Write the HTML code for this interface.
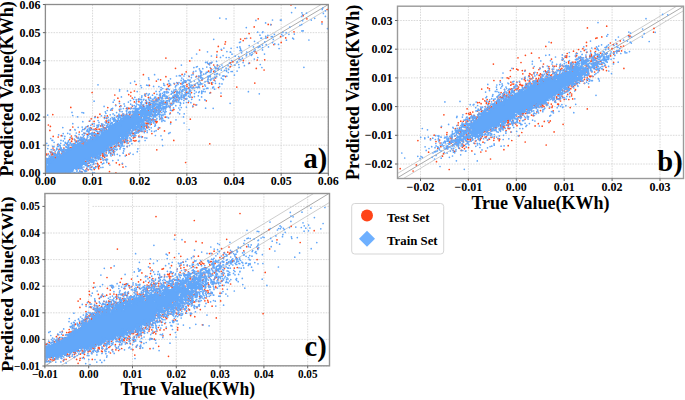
<!DOCTYPE html>
<html><head><meta charset="utf-8"><style>html,body{margin:0;padding:0;background:#fff;width:685px;height:400px;overflow:hidden}svg{display:block}text{fill:#000}</style></head>
<body><svg width="685" height="400" viewBox="0 0 685 400">
<clipPath id="ca"><rect x="45.4" y="4.5" width="282.90000000000003" height="168.8"/></clipPath>
<path d="M45.40 4.5V173.3M92.55 4.5V173.3M139.70 4.5V173.3M186.85 4.5V173.3M234.00 4.5V173.3M281.15 4.5V173.3M328.30 4.5V173.3M45.4 173.30H328.3M45.4 145.17H328.3M45.4 117.04H328.3M45.4 88.91H328.3M45.4 60.78H328.3M45.4 32.65H328.3M45.4 4.52H328.3" stroke="#d0d0d0" stroke-width="0.8" stroke-dasharray="1.6 1.1" fill="none"/>
<g clip-path="url(#ca)">
<line x1="-4669.60" y1="2982.08" x2="4760.40" y2="-2643.92" stroke="#c0c0c0" stroke-width="0.8"/>
<line x1="-4669.60" y1="2990.52" x2="4760.40" y2="-2635.48" stroke="#c0c0c0" stroke-width="0.8"/>
<line x1="-4669.60" y1="2986.30" x2="4760.40" y2="-2639.70" stroke="#a0a0a0" stroke-width="0.9"/>
<path d="M267.5 37.5h0M93.6 138.1h0M81.6 167.7h0M93.8 164.0h0M63.9 148.1h0M94.3 169.4h0M182.1 74.4h0M82.1 140.5h0M160.1 111.6h0M165.4 108.4h0M187.0 86.5h0M90.8 160.3h0M114.5 146.4h0M190.3 119.2h0M141.8 126.6h0M91.3 128.3h0M108.8 163.6h0M142.4 136.9h0M95.2 116.5h0M217.5 65.4h0M185.6 162.5h0M112.4 149.4h0M92.7 135.8h0M102.9 156.3h0M264.1 70.0h0M236.8 87.1h0M192.1 97.3h0M106.7 118.5h0M189.8 60.9h0M70.8 107.4h0M146.5 103.4h0M173.2 101.7h0M156.4 81.1h0M81.5 140.9h0M164.5 130.9h0M132.2 133.1h0M119.0 145.7h0M53.2 136.4h0M73.8 143.9h0M52.4 175.1h0M217.1 51.7h0M70.8 147.6h0M105.3 159.7h0M113.5 150.9h0M294.0 31.8h0M115.8 146.5h0M128.8 133.2h0M176.8 97.0h0M211.9 84.2h0M173.4 97.3h0M141.1 117.2h0M59.4 174.9h0M104.8 128.3h0M83.1 141.6h0M167.3 103.1h0M268.2 24.4h0M94.2 132.7h0M49.3 161.9h0M139.0 114.5h0M87.1 134.3h0M151.2 124.2h0M188.8 88.1h0M58.2 137.0h0M88.3 165.8h0M153.6 111.3h0M52.8 114.6h0M106.5 150.4h0M129.0 154.1h0M61.9 153.8h0M165.4 102.8h0M177.6 83.1h0M127.7 140.3h0M213.7 65.0h0M91.2 167.1h0M90.8 157.1h0M196.5 76.3h0M271.0 24.6h0M167.9 98.2h0M132.4 106.1h0M217.1 68.6h0M215.6 77.9h0M126.1 136.7h0M155.4 100.7h0M152.7 114.9h0M165.9 76.7h0M176.7 97.4h0M163.0 103.0h0M48.6 174.1h0M84.2 138.3h0M57.7 174.7h0M137.2 113.9h0M191.5 92.6h0M149.6 105.7h0M186.9 92.2h0M72.8 127.0h0M125.4 139.8h0M86.0 161.7h0M59.1 149.3h0M264.7 59.8h0M209.8 143.8h0M149.4 85.4h0M138.9 101.7h0M111.1 146.9h0M306.9 18.8h0M49.6 174.6h0M53.0 148.0h0M122.0 142.1h0M113.5 152.3h0M63.5 152.5h0M156.4 110.8h0M132.3 98.0h0M87.5 126.5h0M174.3 92.5h0M116.3 162.8h0M131.8 115.3h0M146.9 125.1h0M96.8 155.1h0M273.9 44.6h0M256.5 53.1h0M106.5 129.8h0M89.1 133.7h0M72.3 139.1h0M249.1 33.6h0M67.2 144.1h0M112.5 154.8h0M281.2 42.4h0M107.0 155.7h0M185.4 94.2h0M132.1 131.0h0M86.5 139.6h0M175.5 68.3h0M74.8 139.8h0M148.7 97.7h0M256.3 68.4h0M123.5 114.6h0M102.8 126.0h0M90.8 160.6h0M206.3 100.8h0M119.8 106.5h0M119.3 146.1h0M84.3 133.3h0M101.6 131.1h0M156.4 100.1h0M89.4 121.2h0M92.2 135.5h0M76.9 137.5h0M86.7 168.3h0M98.6 166.6h0M147.6 124.8h0M132.6 115.0h0M100.8 159.3h0M87.9 165.8h0M57.6 174.6h0M85.8 161.6h0M193.2 87.1h0M75.9 141.9h0M107.0 125.8h0M98.7 133.6h0M172.7 110.4h0M146.7 127.7h0M186.4 92.6h0M104.6 157.3h0M108.9 148.8h0M50.9 152.2h0M151.9 133.6h0M123.2 140.9h0M141.6 123.9h0M83.9 138.5h0M145.3 120.2h0M90.4 127.8h0M138.9 136.2h0M71.9 138.2h0M120.6 142.4h0M102.7 155.0h0M146.0 123.0h0M95.7 134.6h0M165.9 58.1h0M155.1 108.1h0M149.5 102.5h0M97.0 127.4h0M146.5 102.5h0M170.3 113.1h0M117.3 116.0h0M303.2 15.7h0M72.4 146.9h0M155.8 121.6h0M180.9 83.7h0M102.2 124.7h0M110.3 147.2h0M131.4 115.7h0M118.6 145.5h0M158.5 113.2h0M126.4 114.3h0M67.3 144.7h0M250.6 38.0h0M192.8 106.7h0M106.2 152.8h0M194.8 85.3h0M156.1 99.2h0M92.7 139.2h0M99.2 133.4h0M63.2 151.8h0M55.7 157.2h0M209.3 83.2h0M171.0 103.5h0M143.4 74.7h0M65.9 175.1h0M52.5 153.2h0M73.5 145.1h0M134.9 135.4h0M186.9 84.7h0M200.9 72.5h0M47.2 159.8h0M106.9 148.4h0M99.6 158.4h0M55.8 158.2h0M185.1 98.8h0M116.9 143.2h0M225.6 76.6h0M124.0 141.1h0M146.4 123.7h0M213.7 71.4h0M55.0 153.2h0M158.1 98.1h0M138.1 131.2h0M105.9 128.2h0M101.1 162.3h0M76.2 141.2h0M158.7 104.5h0M210.9 68.7h0M49.9 130.4h0M175.9 100.2h0M129.1 108.4h0M254.2 26.9h0M90.6 157.6h0M105.1 149.1h0M243.2 40.6h0M218.3 46.4h0M148.7 127.2h0M146.8 120.0h0M95.9 166.7h0M62.6 151.7h0M60.7 150.1h0M76.7 174.7h0M108.8 163.3h0M147.9 121.4h0M249.5 63.1h0M85.7 140.9h0M138.5 129.8h0M89.5 160.3h0M208.3 82.8h0M65.3 149.9h0M175.9 91.3h0M103.4 127.7h0M107.8 107.6h0M160.6 97.1h0M168.6 86.3h0M77.8 145.9h0M291.0 4.9h0M129.6 114.3h0M173.8 101.7h0M78.2 168.6h0M95.4 157.8h0M52.2 154.0h0M71.4 136.0h0M99.1 129.2h0M221.6 50.0h0M128.0 108.3h0M199.3 87.3h0M149.2 103.8h0M141.8 125.2h0M140.9 130.9h0M130.9 92.3h0M189.2 76.5h0M63.9 152.5h0M257.3 60.0h0M81.5 138.1h0M107.3 115.9h0M198.8 76.6h0M157.4 100.7h0M155.0 119.9h0M146.2 126.2h0M55.4 154.7h0M230.2 66.7h0M104.2 130.3h0M130.4 117.5h0M123.9 119.2h0M169.6 107.2h0M138.4 99.3h0M77.6 144.8h0M122.4 164.0h0M156.4 122.7h0M232.9 61.8h0M94.1 121.4h0M85.0 128.6h0M285.7 37.9h0M151.7 119.9h0M124.5 142.5h0M92.3 139.9h0M109.6 150.6h0M174.5 83.8h0M90.6 130.0h0M329.2 27.7h0M214.2 80.2h0M157.1 121.7h0M170.1 106.0h0M98.3 134.6h0M126.8 141.1h0M202.1 79.9h0M128.7 115.5h0M193.9 104.4h0M85.3 142.6h0M123.0 114.0h0M54.5 157.3h0M94.6 135.7h0M169.7 85.5h0M62.9 151.9h0M98.7 168.7h0M68.9 148.7h0M57.5 154.2h0M105.1 127.7h0M210.5 92.7h0M132.7 133.6h0M239.3 59.1h0M110.5 146.1h0M110.8 153.2h0M70.4 129.8h0M116.6 120.5h0M145.5 96.0h0M126.4 108.5h0M115.7 105.0h0M126.3 155.2h0M134.4 91.0h0M280.6 36.6h0M154.2 93.3h0M225.0 44.1h0M151.4 109.8h0M240.6 39.1h0M71.7 141.0h0M114.8 95.0h0M99.1 157.0h0M92.3 124.3h0M50.3 174.1h0M133.1 133.6h0M145.1 94.1h0M67.1 144.0h0M133.3 137.9h0M150.6 104.5h0M167.5 84.4h0M141.0 127.1h0M160.1 106.1h0M58.2 175.1h0M134.3 126.6h0M84.2 142.7h0M154.1 102.7h0M71.5 175.0h0M134.0 133.7h0M188.3 102.5h0M127.5 133.7h0M65.3 172.4h0M104.7 130.3h0M103.4 152.6h0M81.8 171.5h0M100.6 155.1h0M92.2 139.5h0M109.5 171.6h0M142.0 131.5h0M47.4 174.2h0M99.9 114.2h0M104.2 155.2h0M93.8 138.0h0M87.8 141.0h0M145.0 131.2h0M71.6 141.4h0M185.2 82.3h0M98.6 168.1h0M160.6 79.8h0M148.8 123.3h0M91.2 118.8h0M49.8 174.6h0M128.7 94.6h0M254.8 83.1h0M173.8 140.4h0M88.1 169.8h0M69.9 148.0h0M211.5 82.9h0M104.4 156.2h0M54.0 149.9h0M166.5 89.4h0M123.7 115.5h0M230.4 62.8h0M211.1 62.9h0M116.0 145.4h0M80.9 142.4h0M78.3 140.8h0M153.1 101.1h0M50.4 126.4h0M48.4 125.0h0M208.5 71.2h0M98.0 164.4h0M170.8 122.2h0M184.9 81.1h0M145.8 100.5h0M65.8 172.1h0M106.6 122.1h0M153.3 119.5h0M148.3 110.1h0M106.1 120.9h0M111.7 147.7h0M136.1 84.5h0M102.0 132.0h0M121.4 115.4h0M88.0 163.5h0M48.2 154.0h0M79.3 132.0h0M143.6 106.4h0M92.1 92.5h0M208.8 64.0h0M173.9 109.5h0M138.4 108.6h0M112.1 110.0h0M92.1 138.3h0M159.7 127.8h0M166.2 102.7h0M122.8 138.8h0M167.0 103.7h0M128.3 132.5h0M79.6 174.0h0M146.1 126.1h0M133.5 140.5h0M117.2 121.3h0M134.4 101.9h0M67.6 174.9h0M110.8 147.3h0M152.7 109.1h0M216.7 57.1h0M119.4 164.7h0M118.5 142.9h0M47.4 174.1h0M83.6 144.0h0M45.9 155.3h0M90.2 159.0h0M199.6 50.0h0M130.7 96.0h0M80.0 171.7h0M88.0 135.2h0M100.4 173.8h0M127.2 146.6h0M108.7 122.2h0M193.1 73.0h0M99.4 165.9h0M221.0 96.2h0M137.3 112.1h0M74.0 143.7h0M59.4 153.2h0M258.2 18.8h0M134.7 141.0h0M186.2 71.8h0M55.3 175.1h0M51.1 152.5h0M130.1 135.0h0M136.0 140.6h0M106.7 149.3h0M46.5 154.2h0M322.0 21.9h0M85.8 170.0h0M120.8 105.9h0M243.4 60.6h0M128.0 143.1h0M103.0 153.4h0M158.2 129.1h0M104.5 117.6h0M106.8 148.3h0M91.9 134.1h0M147.6 127.4h0M129.0 116.5h0M148.9 117.5h0M125.2 141.8h0M165.3 117.2h0M196.0 104.9h0M86.1 161.2h0M97.8 117.4h0M96.8 129.5h0M156.8 149.8h0M143.1 105.2h0M121.1 143.5h0M119.4 101.4h0M150.7 124.3h0M73.5 174.7h0M137.5 114.4h0M131.5 108.0h0M117.9 98.2h0M120.7 140.3h0M147.6 123.3h0M47.4 175.0h0M128.5 108.3h0M114.2 118.3h0M100.5 130.2h0M69.6 139.6h0M327.2 9.5h0M254.9 51.5h0M57.7 144.7h0M144.3 126.2h0M181.8 97.1h0M97.4 163.4h0M135.2 129.8h0M95.6 128.8h0M245.0 38.5h0M156.7 109.9h0M158.9 97.9h0M115.9 172.8h0M95.5 138.0h0M51.8 154.9h0M130.1 113.5h0M177.0 99.9h0M119.5 110.0h0M100.7 125.9h0M51.1 152.2h0M148.4 97.6h0M139.3 130.4h0M160.4 94.4h0M111.1 149.9h0M80.6 139.6h0M97.7 133.2h0M134.9 137.3h0M160.9 118.5h0M76.5 136.3h0M175.1 96.2h0M110.5 146.8h0M61.3 135.7h0M133.3 111.7h0M158.8 109.7h0M135.9 126.8h0M102.4 153.2h0M225.5 41.8h0M95.5 137.2h0M218.5 87.5h0M53.5 154.7h0M202.8 86.3h0M79.3 140.5h0M94.0 129.4h0M82.1 143.8h0M56.0 158.5h0M123.0 167.1h0M89.0 163.2h0M103.7 155.1h0" stroke="#ff4a1e" stroke-width="1.7" stroke-linecap="round" fill="none"/>
<path d="M162 101h1v1h-1zM161 103h1v1h-1zM153 104h2v1h-2zM147 105h2v1h-2zM153 105h2v1h-2zM158 105h1v1h-1zM147 106h3v1h-3zM153 106h1v1h-1zM157 106h1v1h-1zM142 107h2v1h-2zM147 107h3v1h-3zM157 107h2v1h-2zM164 107h1v1h-1zM135 108h3v1h-3zM141 108h3v1h-3zM149 108h2v1h-2zM136 109h2v1h-2zM141 109h4v1h-4zM135 110h3v1h-3zM140 110h8v1h-8zM151 110h1v1h-1zM136 111h1v1h-1zM140 111h8v1h-8zM149 111h1v1h-1zM151 111h1v1h-1zM135 112h2v1h-2zM139 112h13v1h-13zM134 113h3v1h-3zM140 113h11v1h-11zM155 113h1v1h-1zM134 114h3v1h-3zM140 114h11v1h-11zM126 115h2v1h-2zM132 115h7v1h-7zM140 115h3v1h-3zM144 115h5v1h-5zM150 115h1v1h-1zM154 115h1v1h-1zM124 116h5v1h-5zM131 116h16v1h-16zM124 117h5v1h-5zM131 117h10v1h-10zM143 117h4v1h-4zM123 118h19v1h-19zM143 118h7v1h-7zM120 119h1v1h-1zM124 119h18v1h-18zM143 119h3v1h-3zM149 119h1v1h-1zM120 120h25v1h-25zM147 120h1v1h-1zM149 120h1v1h-1zM119 121h25v1h-25zM116 122h2v1h-2zM120 122h21v1h-21zM142 122h1v1h-1zM115 123h4v1h-4zM120 123h20v1h-20zM114 124h5v1h-5zM120 124h15v1h-15zM136 124h4v1h-4zM110 125h25v1h-25zM137 125h3v1h-3zM108 126h1v1h-1zM110 126h3v1h-3zM114 126h20v1h-20zM136 126h4v1h-4zM108 127h32v1h-32zM108 128h29v1h-29zM108 129h23v1h-23zM132 129h3v1h-3zM140 129h1v1h-1zM106 130h25v1h-25zM132 130h1v1h-1zM104 131h26v1h-26zM101 132h26v1h-26zM101 133h26v1h-26zM101 134h26v1h-26zM100 135h27v1h-27zM96 136h25v1h-25zM96 137h24v1h-24zM121 137h3v1h-3zM125 137h2v1h-2zM96 138h24v1h-24zM82 139h1v1h-1zM93 139h29v1h-29zM88 140h32v1h-32zM88 141h31v1h-31zM120 141h2v1h-2zM86 142h27v1h-27zM114 142h4v1h-4zM80 143h1v1h-1zM84 143h31v1h-31zM74 144h3v1h-3zM78 144h4v1h-4zM84 144h31v1h-31zM74 145h3v1h-3zM79 145h31v1h-31zM73 146h36v1h-36zM73 147h34v1h-34zM71 148h34v1h-34zM61 149h1v1h-1zM67 149h37v1h-37zM67 150h37v1h-37zM66 151h38v1h-38zM65 152h38v1h-38zM63 153h38v1h-38zM54 154h1v1h-1zM62 154h38v1h-38zM55 155h2v1h-2zM59 155h37v1h-37zM56 156h38v1h-38zM95 156h1v1h-1zM97 156h1v1h-1zM50 157h3v1h-3zM56 157h34v1h-34zM97 157h1v1h-1zM50 158h5v1h-5zM56 158h34v1h-34zM48 159h42v1h-42zM50 160h35v1h-35zM87 160h2v1h-2zM92 160h2v1h-2zM46 161h3v1h-3zM50 161h35v1h-35zM87 161h1v1h-1zM91 161h3v1h-3zM46 162h40v1h-40zM45 163h41v1h-41zM45 164h2v1h-2zM48 164h38v1h-38zM46 165h1v1h-1zM48 165h33v1h-33zM86 165h1v1h-1zM45 166h34v1h-34zM45 167h33v1h-33zM45 168h33v1h-33zM45 169h28v1h-28zM45 170h28v1h-28zM45 171h27v1h-27zM45 172h20v1h-20zM66 172h3v1h-3zM45 173h20v1h-20zM67 173h3v1h-3z" fill="#62a7f9"/>
<path d="M154.7 115.7h0M147.2 106.7h0M45.8 167.8h0M94.2 155.8h0M107.5 159.4h0M255.9 20.4h0M95.3 138.6h0M163.7 101.6h0M108.4 150.6h0M137.6 115.4h0M70.4 175.0h0M149.1 112.2h0M94.7 155.5h0M141.0 106.9h0M146.6 93.6h0M104.7 131.6h0M50.9 175.2h0M226.5 70.7h0M67.7 144.6h0M208.3 81.3h0M147.3 121.7h0M57.6 173.3h0M140.6 105.0h0M183.6 103.1h0M157.4 104.2h0M170.4 99.3h0M150.2 108.0h0M109.9 126.9h0M48.9 157.8h0M147.9 127.8h0M98.9 155.8h0M47.7 115.1h0M48.2 145.5h0M56.8 148.4h0M207.4 81.1h0M86.2 126.8h0M103.8 163.1h0M126.6 132.2h0M159.7 108.3h0M174.3 98.4h0M45.8 169.4h0M85.2 159.2h0M120.8 125.5h0M66.5 172.7h0M77.9 138.4h0M186.4 107.1h0M190.2 94.9h0M87.8 166.7h0M230.2 52.0h0M154.4 131.4h0M123.2 135.5h0M148.5 106.7h0M166.9 93.0h0M51.8 173.2h0M189.1 83.3h0M213.7 39.3h0M162.8 88.5h0M91.5 134.3h0M112.1 154.0h0M200.1 70.5h0M90.1 158.9h0M62.5 150.7h0M51.1 173.1h0M84.5 144.4h0M134.9 133.4h0M161.7 117.5h0M132.6 112.8h0M148.3 102.6h0M162.8 102.6h0M62.9 173.2h0M74.5 145.7h0M178.1 84.3h0M97.9 165.3h0M134.2 112.8h0M63.2 173.6h0M198.6 86.3h0M142.5 120.9h0M50.1 174.4h0M75.2 130.0h0M126.9 132.9h0M149.7 103.5h0M108.7 145.0h0M132.8 116.3h0M120.3 123.2h0M145.6 109.6h0M153.1 116.1h0M47.8 173.3h0M183.4 116.9h0M81.2 139.6h0M54.8 159.1h0M137.7 114.4h0M89.2 166.0h0M102.5 129.5h0M126.3 110.9h0M52.9 173.9h0M158.5 105.1h0M86.8 165.2h0M150.1 124.6h0M136.8 109.8h0M95.7 137.0h0M154.5 114.9h0M132.1 115.4h0M120.2 117.4h0M300.0 25.3h0M178.7 97.6h0M140.2 111.5h0M128.5 132.7h0M109.9 148.9h0M140.4 107.9h0M164.9 107.3h0M58.2 144.2h0M273.3 39.4h0M119.0 114.2h0M136.7 109.0h0M165.6 98.4h0M53.9 174.1h0M252.0 52.3h0M124.4 120.1h0M162.2 139.7h0M51.7 175.0h0M74.6 174.6h0M120.0 149.1h0M50.6 156.0h0M288.9 34.3h0M151.6 131.1h0M163.2 100.6h0M82.7 129.4h0M48.4 174.7h0M144.0 125.4h0M108.3 124.0h0M97.6 127.5h0M130.7 112.8h0M147.2 132.5h0M228.3 72.5h0M180.7 103.6h0M211.2 79.0h0M162.5 93.3h0M149.2 93.9h0M126.0 116.2h0M137.4 111.7h0M118.4 141.7h0M141.6 119.8h0M122.2 116.6h0M125.3 117.0h0M164.9 94.9h0M176.8 93.7h0M205.1 91.7h0M132.5 129.4h0M188.7 101.1h0M86.7 162.2h0M64.9 136.4h0M51.4 157.2h0M46.8 164.0h0M196.7 104.8h0M90.4 128.4h0M120.1 142.4h0M100.6 135.5h0M173.4 103.6h0M49.0 175.2h0M63.6 149.4h0M148.6 77.8h0M124.4 136.1h0M90.1 165.3h0M83.9 139.8h0M137.0 126.5h0M140.5 125.2h0M129.8 116.4h0M119.1 136.7h0M143.9 116.2h0M112.8 144.1h0M72.8 175.0h0M323.4 13.4h0M102.7 132.4h0M186.2 81.1h0M151.8 101.3h0M150.3 107.1h0M145.4 125.1h0M137.3 114.7h0M89.2 159.7h0M118.2 160.1h0M135.3 109.4h0M115.1 149.4h0M68.4 149.7h0M110.1 145.4h0M64.3 172.9h0M200.9 83.5h0M75.5 142.6h0M127.1 137.0h0M92.4 140.9h0M167.2 102.9h0M124.3 117.7h0M61.6 175.2h0M200.5 77.9h0M47.7 160.7h0M60.8 173.3h0M106.9 126.7h0M85.1 171.7h0M60.4 174.6h0M167.6 100.8h0M153.3 118.6h0M127.7 134.3h0M191.5 75.0h0M150.8 119.6h0M162.6 95.9h0M259.1 46.8h0M190.6 86.7h0M105.8 131.6h0M120.6 125.6h0M116.5 144.4h0M141.9 119.0h0M170.4 110.1h0M155.2 111.1h0M142.4 122.6h0M130.1 116.6h0M132.1 116.3h0M178.8 101.9h0M117.6 141.8h0M134.9 135.1h0M95.4 138.0h0M99.2 153.8h0M140.9 117.8h0M126.5 133.8h0M108.4 149.6h0M122.9 136.8h0M120.7 106.4h0M117.1 145.7h0M202.0 79.4h0M119.1 136.3h0M121.5 138.8h0M143.8 120.4h0M61.5 174.1h0M65.4 143.3h0M122.7 138.3h0M166.8 107.3h0M150.4 109.2h0M133.0 125.5h0M145.1 108.5h0M45.9 167.8h0M125.8 166.5h0M134.4 124.8h0M88.7 161.3h0M209.3 63.8h0M49.2 173.9h0M191.7 99.3h0M99.2 154.6h0M107.2 110.5h0M135.2 123.4h0M80.5 168.7h0M98.2 125.7h0M100.2 136.7h0M167.6 96.8h0M54.8 159.8h0M141.4 123.8h0M160.2 104.9h0M49.5 155.9h0M63.3 140.9h0M90.4 156.1h0M166.2 98.1h0M87.1 161.8h0M234.4 75.1h0M146.6 101.5h0M89.0 163.2h0M72.0 144.2h0M151.1 112.0h0M164.2 107.7h0M105.2 154.7h0M176.0 99.0h0M215.5 83.3h0M158.2 99.8h0M177.8 96.1h0M164.2 103.8h0M122.4 144.6h0M303.9 67.3h0M60.0 154.5h0M152.7 118.4h0M268.5 46.9h0M181.7 91.7h0M184.3 86.4h0M179.6 113.8h0M83.9 167.0h0M125.3 137.9h0M88.2 141.0h0M81.9 144.4h0M211.0 71.9h0M64.1 145.2h0M266.2 44.7h0M262.5 32.5h0M188.3 93.0h0M96.0 160.3h0M169.7 106.9h0M46.2 175.1h0M199.4 68.9h0M154.9 109.5h0M156.9 94.3h0M114.3 100.1h0M54.7 174.7h0M190.4 87.5h0M46.7 163.3h0M152.3 103.3h0M116.4 116.9h0M134.3 105.5h0M224.4 76.0h0M154.5 112.6h0M178.7 100.3h0M94.1 137.2h0M54.4 154.7h0M261.6 38.1h0M50.4 173.7h0M189.4 90.3h0M187.0 88.3h0M57.0 173.7h0M135.4 132.8h0M219.6 86.6h0M50.7 174.9h0M112.2 122.7h0M50.6 157.8h0M69.0 171.8h0M81.4 138.1h0M158.6 106.4h0M198.7 84.3h0M143.8 122.6h0M120.0 125.6h0M169.0 106.4h0M78.3 165.7h0M201.2 75.1h0M231.1 48.3h0M151.8 109.4h0M211.6 69.5h0M64.3 153.9h0M148.4 121.2h0M72.6 174.4h0M166.7 117.1h0M70.0 148.4h0M85.6 163.0h0M112.8 151.4h0M157.6 106.7h0M119.8 155.7h0M153.6 86.4h0M94.2 123.8h0M148.2 111.7h0M262.9 31.9h0M73.5 169.8h0M197.3 66.5h0M53.4 175.1h0M134.1 126.3h0M133.0 116.7h0M58.2 153.1h0M144.7 119.7h0M82.3 134.6h0M56.0 173.7h0M121.6 136.8h0M267.9 35.3h0M85.7 143.8h0M84.8 141.8h0M109.7 125.4h0M119.9 120.9h0M164.9 96.2h0M84.2 144.2h0M175.8 105.7h0M186.3 90.5h0M283.0 35.8h0M136.2 99.7h0M176.7 82.6h0M101.4 115.8h0M45.9 164.8h0M199.4 87.5h0M72.4 169.3h0M153.8 99.0h0M88.3 160.5h0M143.1 127.5h0M50.8 162.4h0M238.8 64.6h0M54.4 159.8h0M147.2 121.6h0M151.5 122.4h0M130.1 113.8h0M50.7 138.5h0M103.9 150.8h0M172.9 96.2h0M79.5 140.3h0M135.4 108.4h0M125.8 115.3h0M87.4 160.9h0M189.5 97.1h0M106.5 130.9h0M150.9 116.2h0M202.7 78.2h0M137.7 124.6h0M129.9 132.3h0M204.8 99.8h0M148.1 118.9h0M150.7 107.3h0M84.1 135.2h0M162.7 145.6h0M257.8 57.5h0M162.2 105.8h0M83.2 169.5h0M169.8 97.6h0M118.9 114.7h0M155.9 110.1h0M153.3 115.3h0M176.6 85.4h0M82.0 167.6h0M201.6 96.9h0M126.4 138.5h0M163.6 108.9h0M208.1 79.2h0M119.5 91.0h0M144.5 106.6h0M139.9 126.4h0M121.1 140.6h0M81.7 138.7h0M291.6 12.6h0M186.2 88.4h0M328.4 18.1h0M161.0 135.8h0M79.7 143.2h0M162.9 102.2h0M62.7 155.0h0M152.1 106.9h0M104.7 130.1h0M113.7 118.7h0M93.7 168.3h0M94.1 126.2h0M122.3 115.7h0M154.8 126.2h0M178.8 108.0h0M177.4 97.3h0M118.3 144.2h0M215.2 67.5h0M128.1 118.7h0M96.1 133.9h0M106.6 146.3h0M258.0 43.0h0M82.5 145.5h0M119.3 145.0h0M84.6 144.7h0M79.9 145.9h0M93.0 162.3h0M87.4 142.4h0M139.0 98.8h0M156.7 115.4h0M198.3 95.8h0M205.1 81.6h0M112.9 127.8h0M146.3 110.9h0M76.0 144.6h0M114.9 120.2h0M130.7 104.2h0M133.8 114.2h0M123.6 135.2h0M166.3 105.1h0M151.3 112.5h0M109.4 126.1h0M114.5 125.8h0M114.4 141.7h0M105.8 131.7h0M65.9 146.4h0M81.9 145.8h0M153.3 107.9h0M152.6 103.5h0M79.5 142.9h0M56.4 175.2h0M119.1 116.7h0M246.7 38.3h0M130.7 108.8h0M102.6 131.6h0M86.6 171.1h0M270.7 24.7h0M106.3 117.9h0M240.4 48.4h0M80.3 143.0h0M107.7 130.0h0M169.3 100.6h0M87.7 142.2h0M67.2 173.2h0M89.9 120.7h0M135.3 111.5h0M183.9 100.4h0M62.8 173.0h0M136.3 108.5h0M121.2 142.8h0M123.8 117.9h0M73.2 143.9h0M113.8 147.6h0M95.6 154.9h0M142.0 106.0h0M239.9 46.9h0M65.7 149.9h0M188.5 93.5h0M145.1 140.5h0M94.6 175.1h0M131.8 133.1h0M78.6 137.3h0M253.9 51.2h0M66.7 150.1h0M179.2 99.5h0M205.6 108.2h0M86.1 139.3h0M78.2 145.3h0M84.0 161.1h0M167.5 88.9h0M262.4 45.1h0M182.6 91.4h0M77.1 170.0h0M54.9 153.8h0M46.4 162.2h0M119.4 141.8h0M260.0 46.7h0M198.3 79.0h0M142.3 122.1h0M85.5 164.2h0M127.5 115.8h0M52.4 156.3h0M55.2 151.3h0M48.4 165.3h0M167.9 88.7h0M108.9 120.1h0M141.9 121.4h0M262.5 47.5h0M205.8 73.7h0M90.1 167.5h0M52.9 173.5h0M63.2 133.6h0M135.2 113.5h0M133.6 99.3h0M151.3 114.3h0M111.8 150.6h0M143.4 99.9h0M131.9 143.7h0M92.5 123.5h0M89.6 140.7h0M138.0 109.8h0M60.7 173.8h0M194.5 93.6h0M180.8 86.8h0M207.2 62.1h0M121.4 96.9h0M80.5 165.1h0M45.9 171.8h0M154.4 98.1h0M108.4 130.1h0M100.2 154.3h0M95.1 140.0h0M60.4 154.6h0M51.0 173.0h0M81.7 145.2h0M93.4 160.7h0M131.4 139.6h0M141.4 99.6h0M120.2 115.7h0M47.2 166.1h0M111.8 145.4h0M139.2 127.8h0M97.1 158.4h0M68.4 172.6h0M118.3 120.3h0M51.7 157.3h0M184.6 87.7h0M86.8 143.8h0M70.1 143.3h0M64.2 144.8h0M46.5 161.5h0M223.1 55.6h0M50.3 161.7h0M156.1 91.4h0M176.0 119.8h0M62.8 173.2h0M125.8 140.6h0M139.7 128.1h0M272.5 20.0h0M139.5 141.0h0M149.5 116.8h0M121.6 145.8h0M139.3 126.3h0M54.0 174.4h0M93.6 163.5h0M91.5 137.9h0M129.1 130.3h0M88.9 159.5h0M56.0 154.9h0M64.6 172.6h0M214.8 70.5h0M142.2 120.0h0M88.6 173.6h0M189.9 89.7h0M71.4 174.4h0M177.0 92.1h0M152.4 101.3h0M150.6 111.9h0M183.6 86.4h0M157.4 100.6h0M137.2 91.6h0M199.2 80.4h0M52.4 173.8h0M155.8 109.9h0M115.7 145.8h0M171.4 110.5h0M107.3 125.7h0M156.0 101.1h0M181.8 78.1h0M145.7 119.6h0M74.2 139.1h0M164.8 96.0h0M77.6 116.8h0M257.7 32.2h0M214.6 89.2h0M46.0 173.0h0M136.0 109.0h0M170.6 123.8h0M67.9 172.1h0M72.7 146.2h0M157.6 106.1h0M151.2 127.8h0M116.4 123.9h0M92.6 162.0h0M204.8 84.8h0M183.7 89.5h0M56.0 173.2h0M133.4 135.6h0M139.1 112.3h0M219.5 83.7h0M223.4 79.6h0M96.0 156.8h0M120.0 116.0h0M128.7 112.7h0M46.9 164.3h0M181.2 80.4h0M68.5 172.7h0M72.7 171.6h0M153.6 112.3h0M122.3 137.4h0M138.5 111.6h0M154.4 113.8h0M124.3 138.3h0M109.7 127.1h0M55.7 155.5h0M266.0 38.2h0M206.6 88.4h0M183.0 86.3h0M119.1 140.1h0M97.8 156.0h0M50.0 174.0h0M136.2 128.7h0M160.1 106.9h0M70.6 172.3h0M129.8 113.1h0M147.1 108.2h0M101.2 135.3h0M154.7 106.3h0M200.9 71.3h0M163.1 114.3h0M96.7 160.9h0M163.5 94.9h0M157.9 108.7h0M122.4 163.3h0M167.6 97.8h0M51.5 173.0h0M127.3 141.4h0M141.9 101.6h0M70.6 148.7h0M136.3 123.3h0M111.4 146.2h0M149.0 119.2h0M148.8 99.0h0M68.7 146.1h0M123.7 150.9h0M109.1 148.6h0M154.8 105.1h0M163.1 115.6h0M59.0 173.8h0M123.1 136.8h0M132.3 129.1h0M161.1 103.7h0M146.3 105.4h0M93.9 161.0h0M87.9 140.6h0M61.8 175.0h0M66.9 171.4h0M219.8 66.5h0M150.7 103.3h0M154.9 97.0h0M72.0 112.4h0M96.6 131.2h0M229.0 57.5h0M74.6 145.7h0M137.8 125.1h0M47.1 174.8h0M67.6 148.0h0M184.1 123.0h0M142.1 119.2h0M181.2 96.5h0M100.7 135.5h0M116.5 144.8h0M77.0 175.3h0M129.4 145.6h0M49.5 158.9h0M156.1 111.4h0M81.5 141.9h0M169.2 89.6h0M104.3 150.0h0M135.4 111.8h0M105.4 147.8h0M69.9 134.1h0M126.6 115.3h0M301.7 16.4h0M130.5 83.1h0M139.0 131.9h0M260.9 38.2h0M142.0 129.7h0M45.6 174.5h0M129.9 131.8h0M51.8 173.1h0M122.1 138.7h0M56.1 174.0h0M110.4 123.6h0M93.7 138.3h0M123.1 152.9h0M82.3 145.5h0M174.5 96.7h0M159.5 114.9h0M262.5 49.9h0M77.9 145.9h0M120.8 143.0h0M148.1 127.2h0M140.6 126.9h0M128.7 118.4h0M123.7 141.8h0M96.4 156.1h0M221.0 93.0h0M93.9 156.2h0M141.8 109.8h0M123.2 153.2h0M102.4 163.9h0M122.1 111.7h0M143.2 107.9h0M124.3 117.3h0M90.0 169.1h0M59.4 145.1h0M92.1 140.6h0M77.9 140.9h0M75.2 135.7h0M102.1 157.8h0M170.1 132.6h0M139.6 113.2h0M81.9 131.1h0M253.5 46.9h0M154.2 105.3h0M121.9 119.0h0M254.5 41.3h0M58.7 150.3h0M102.0 133.6h0M199.3 91.7h0M77.9 173.5h0M286.1 32.7h0M92.1 156.6h0M79.6 171.6h0M159.0 111.8h0M79.8 139.1h0M177.5 91.5h0M179.3 75.7h0M164.6 85.4h0M144.0 125.1h0M139.7 123.7h0M156.2 107.9h0M60.4 175.2h0M127.7 136.9h0M54.5 174.1h0M128.0 133.5h0M105.2 122.0h0M158.5 107.3h0M281.7 34.4h0M88.5 135.5h0M167.0 91.4h0M148.2 111.5h0M82.4 169.0h0M156.0 120.2h0M246.7 54.8h0M66.4 146.8h0M91.8 137.7h0M78.6 138.6h0M50.0 162.7h0M191.3 87.8h0M121.1 120.8h0M104.3 148.1h0M66.0 171.1h0M92.8 156.3h0M212.0 62.2h0M101.7 134.7h0M182.4 82.4h0M153.8 120.1h0M235.2 56.2h0M97.0 155.0h0M81.5 166.4h0M141.7 106.5h0M143.0 114.5h0M264.8 41.8h0M112.8 160.6h0M123.6 139.7h0M124.0 146.0h0M127.8 115.4h0M97.3 135.3h0M53.8 175.0h0M201.9 83.9h0M181.4 65.1h0M240.8 49.9h0M51.2 174.5h0M85.7 133.4h0M175.6 86.1h0M136.0 131.4h0M90.2 156.9h0M165.1 106.8h0M58.1 173.4h0M234.9 65.2h0M189.0 92.0h0M169.8 83.8h0M137.0 132.0h0M97.1 127.5h0M59.5 174.3h0M77.6 167.3h0M128.9 117.2h0M138.6 141.4h0M106.8 162.4h0M140.9 115.4h0M169.9 99.1h0M154.6 102.3h0M49.4 161.0h0M82.2 127.1h0M147.2 124.7h0M47.7 175.2h0M66.2 147.4h0M207.8 88.2h0M232.0 54.2h0M130.7 141.0h0M120.0 120.8h0M143.9 109.1h0M152.5 99.3h0M63.5 153.6h0M155.5 97.7h0M246.7 52.0h0M174.3 94.9h0M301.9 30.9h0M47.1 174.6h0M116.8 120.7h0M176.7 99.7h0M195.8 77.0h0M155.4 135.5h0M84.4 159.9h0M146.4 108.3h0M130.2 116.4h0M141.9 95.9h0M164.9 114.4h0M80.0 167.1h0M147.5 117.5h0M88.2 125.8h0M69.7 172.0h0M84.2 159.1h0M100.6 129.8h0M99.2 154.9h0M152.9 109.7h0M56.6 173.2h0M138.2 129.4h0M133.2 115.4h0M113.3 126.5h0M165.0 104.0h0M133.6 136.2h0M96.7 138.4h0M61.5 175.0h0M152.4 120.9h0M116.6 112.6h0M163.5 120.3h0M95.1 154.7h0M120.3 139.3h0M68.8 146.7h0M149.0 117.7h0M176.0 89.5h0M166.3 91.8h0M86.1 141.1h0M134.3 115.1h0M106.6 159.2h0M140.4 130.6h0M184.5 86.4h0M200.3 82.7h0M143.8 104.8h0M157.8 113.0h0M113.5 126.0h0M260.3 64.5h0M108.7 147.9h0M118.9 141.0h0M182.0 93.6h0M161.4 108.3h0M152.6 111.1h0M68.2 172.5h0M116.6 149.8h0M45.5 157.9h0M138.3 116.0h0M65.2 142.4h0M148.2 95.2h0M142.7 114.7h0M209.6 64.8h0M150.2 121.6h0M194.0 87.8h0M66.7 174.6h0M107.5 124.5h0M135.2 127.3h0M64.1 172.5h0M65.9 154.0h0M144.0 116.1h0M303.2 30.8h0M100.7 136.9h0M166.1 111.6h0M134.0 129.6h0M144.0 117.2h0M155.5 109.9h0M81.2 164.9h0M54.1 156.3h0M175.6 89.5h0M108.1 117.4h0M191.8 58.0h0M51.6 174.9h0M187.8 80.0h0M186.1 99.2h0M154.0 104.9h0M94.6 158.0h0M176.5 93.1h0M208.8 83.1h0M95.7 133.6h0M90.2 158.2h0M150.8 98.5h0M47.1 160.2h0M308.9 40.0h0M185.1 80.8h0M66.2 151.2h0M45.6 170.9h0M88.1 160.7h0M70.3 137.7h0M200.9 76.9h0M122.0 138.3h0M118.2 119.4h0M76.6 169.4h0M159.9 117.9h0M149.4 100.4h0M140.6 114.8h0M104.8 125.1h0M59.5 173.5h0M205.4 86.1h0M150.4 115.3h0M243.1 62.6h0M135.0 111.2h0M103.0 132.6h0M148.5 111.8h0M207.5 51.8h0M160.3 95.2h0M77.5 143.9h0M56.9 148.3h0M95.7 139.0h0M52.0 174.8h0M55.7 174.9h0M111.7 122.5h0M113.8 144.1h0M118.7 117.9h0M99.5 158.4h0M123.0 116.9h0M69.7 174.5h0M138.4 117.0h0M146.1 100.0h0M230.6 52.2h0M155.7 97.2h0M140.1 111.8h0M119.4 125.3h0M176.4 96.7h0M161.0 105.5h0M138.5 109.3h0M60.4 174.6h0M218.4 69.6h0M173.3 92.8h0M114.7 151.6h0M63.9 173.5h0M68.4 174.5h0M145.0 137.8h0M111.5 108.8h0M160.3 93.7h0M139.6 116.5h0M109.8 165.0h0M92.6 156.3h0M114.8 121.0h0M147.1 130.8h0M140.2 99.3h0M177.8 93.0h0M72.6 171.4h0M91.8 161.9h0M50.7 158.5h0M106.1 128.5h0M87.5 129.3h0M135.9 109.5h0M164.7 92.9h0M207.5 72.2h0M45.6 167.5h0M59.4 153.9h0M193.5 71.7h0M52.9 174.6h0M95.3 130.4h0M190.9 81.8h0M149.7 111.9h0M133.1 108.7h0M88.0 139.8h0M214.7 77.8h0M327.5 28.6h0M87.5 131.4h0M127.1 138.4h0M100.5 154.6h0M107.5 146.4h0M114.3 124.3h0M170.3 104.0h0M185.1 95.4h0M228.1 65.7h0M143.8 126.8h0M129.2 111.6h0M144.3 115.8h0M132.6 111.2h0M106.2 151.8h0M107.6 146.6h0M93.1 164.5h0M108.9 126.5h0M74.2 146.5h0M148.6 119.6h0M134.2 111.5h0M144.6 119.3h0M116.8 142.9h0M65.6 171.6h0M163.0 100.8h0M130.3 138.9h0M89.0 140.7h0M94.3 157.2h0M154.5 106.2h0M50.2 158.6h0M289.8 27.0h0M83.8 140.7h0M54.3 174.0h0M136.7 108.4h0M226.9 51.6h0M137.1 111.5h0M156.6 101.7h0M102.8 151.7h0M67.7 145.5h0M127.3 116.9h0M99.5 137.0h0M134.7 128.9h0M172.6 92.6h0M99.9 131.7h0M46.0 170.4h0M46.8 174.6h0M237.1 71.1h0M114.4 154.8h0M122.5 143.2h0M265.6 22.9h0M295.4 7.8h0M154.0 101.7h0M96.3 140.0h0M119.3 136.1h0M93.4 133.5h0M134.8 97.3h0M153.1 103.4h0M91.2 129.5h0M56.7 173.6h0M53.7 174.1h0M151.1 100.8h0M62.5 135.8h0M162.6 118.4h0M103.1 131.1h0M118.0 118.2h0M108.3 146.5h0M197.7 87.7h0M64.3 153.9h0M134.7 81.4h0M119.9 145.7h0M155.5 114.6h0M168.1 106.5h0M166.3 106.4h0M114.6 115.3h0M191.0 97.0h0M104.4 149.9h0M102.9 167.3h0M52.0 152.2h0M104.5 118.5h0M216.6 61.4h0M148.2 120.0h0M56.6 154.7h0M191.2 85.2h0M95.3 167.9h0M85.7 159.7h0M117.6 123.6h0M71.2 145.5h0M53.6 174.5h0M93.1 155.7h0M129.6 141.6h0M138.8 104.8h0M119.8 122.6h0M126.8 113.4h0M113.8 121.3h0M260.0 35.2h0M140.8 85.6h0M46.3 174.0h0M186.5 102.5h0M274.8 43.9h0M55.8 155.3h0M119.0 115.5h0M116.2 123.6h0M214.7 66.6h0M160.3 106.2h0M131.8 118.3h0M60.7 143.3h0M157.0 106.3h0M100.2 136.5h0M222.6 76.0h0M78.6 167.6h0M124.5 116.9h0M137.3 151.7h0M92.1 156.4h0M108.7 128.7h0M160.2 102.6h0M174.0 83.3h0M45.9 169.1h0M54.5 174.7h0M152.7 107.8h0M45.5 173.2h0M104.1 106.4h0M71.1 149.6h0M148.6 108.3h0M79.5 168.7h0M78.2 127.3h0M106.2 149.0h0M246.3 27.6h0M94.1 157.8h0M162.8 104.2h0M162.4 97.7h0M101.4 132.1h0M121.5 140.9h0M87.2 137.9h0M148.0 111.9h0M149.9 109.2h0M147.6 106.2h0M64.4 149.0h0M123.5 148.6h0M159.7 103.6h0M151.0 113.8h0M149.5 108.8h0M301.7 24.6h0M140.9 129.4h0M124.7 106.1h0M137.0 124.1h0M64.6 172.5h0M58.2 151.7h0M108.3 145.4h0M176.5 76.0h0M80.6 144.0h0M113.0 143.3h0M215.8 68.7h0M81.1 145.2h0M92.5 136.3h0M144.3 123.2h0M70.5 174.0h0M161.3 98.2h0M132.3 115.4h0M155.5 103.3h0M133.1 154.3h0M111.7 126.0h0M49.3 156.3h0M205.6 62.4h0M148.8 105.9h0M136.4 127.6h0M150.9 113.9h0M120.4 121.6h0M100.5 157.0h0M46.4 163.6h0M62.0 150.1h0M200.1 84.3h0M89.2 130.9h0M111.8 125.6h0M146.2 107.3h0M94.7 117.5h0M72.8 123.7h0M183.8 81.9h0M108.3 129.8h0M87.4 130.1h0M153.0 104.4h0M208.1 77.4h0M127.8 116.8h0M90.1 162.0h0M134.3 132.6h0M137.8 112.9h0M158.3 108.8h0M48.3 174.0h0M73.6 175.2h0M91.4 161.5h0M90.3 136.7h0M159.1 102.3h0M164.2 104.3h0M119.7 89.5h0M45.9 171.7h0M127.6 138.2h0M82.0 112.5h0M98.1 120.5h0M136.0 102.9h0M133.6 129.6h0M105.8 154.7h0M84.7 144.5h0M183.4 83.1h0M222.6 67.3h0M150.1 120.4h0M54.0 146.7h0M85.4 128.2h0M140.3 117.1h0M54.3 155.8h0M123.0 146.0h0M127.5 109.0h0M58.0 154.4h0M184.2 113.8h0M101.1 132.1h0M75.6 168.4h0M135.8 135.6h0M203.3 91.3h0M163.1 110.9h0M104.9 115.9h0M189.1 129.5h0M48.7 160.4h0M67.1 174.0h0M114.6 123.9h0M159.5 95.7h0M146.9 115.7h0M87.1 165.4h0M158.6 114.2h0M123.8 114.2h0M95.5 160.2h0M108.4 127.3h0M121.4 139.7h0M141.8 111.0h0M80.2 142.6h0M157.3 104.2h0M248.4 91.7h0M259.3 93.8h0M93.8 162.6h0M208.4 77.6h0M47.7 174.2h0M89.9 159.7h0M130.2 153.0h0M151.2 101.4h0M95.5 155.3h0M45.4 162.8h0M96.2 154.7h0M144.7 94.5h0M142.2 121.3h0M118.3 116.1h0M184.9 88.8h0M196.2 92.0h0M211.4 56.0h0M45.5 169.4h0M148.9 122.6h0M133.9 114.1h0M53.9 173.2h0M97.6 125.3h0M133.5 127.1h0M45.6 170.4h0M174.0 90.1h0M148.9 106.8h0M174.1 96.2h0M68.6 149.6h0M161.2 101.8h0M82.9 137.6h0M159.7 112.1h0M140.8 113.7h0M166.7 97.0h0M181.8 90.8h0M70.8 174.4h0M82.6 145.6h0M133.5 113.4h0M161.4 109.3h0M154.2 112.2h0M45.8 159.8h0M278.5 44.4h0M78.6 167.2h0M137.9 148.8h0M58.2 156.7h0M104.6 147.3h0M73.7 147.4h0M105.3 159.6h0M57.1 155.4h0M97.0 125.4h0M244.4 65.7h0M159.4 110.6h0M210.7 80.3h0M162.4 109.0h0M141.3 128.6h0M210.6 79.9h0M58.2 146.4h0M181.1 95.7h0M57.3 174.1h0M161.3 102.2h0M252.2 54.3h0M144.1 110.0h0M190.4 90.8h0M124.4 119.7h0M47.8 158.7h0M104.1 153.2h0M70.8 149.8h0M46.6 164.8h0M178.6 95.9h0M76.1 145.1h0M129.9 132.4h0M71.4 171.4h0M92.7 172.6h0M120.9 140.3h0M85.4 142.4h0M139.5 122.5h0M186.7 89.5h0M61.2 148.9h0M130.3 134.3h0M52.6 146.3h0M177.0 102.1h0M149.3 115.3h0M103.6 148.6h0M221.9 65.0h0M112.2 117.5h0M194.4 96.7h0M115.8 124.3h0M173.7 99.1h0M282.9 32.3h0M53.7 174.8h0M110.6 118.9h0M130.9 108.2h0M51.2 149.6h0M84.3 144.3h0M145.3 110.3h0M126.8 139.2h0M140.0 131.2h0M207.9 76.4h0M261.9 67.5h0M134.0 130.1h0M81.9 165.5h0M70.7 173.5h0M228.7 69.4h0M141.3 104.1h0M112.1 143.8h0M229.5 63.0h0M149.6 107.6h0M125.3 155.9h0M201.9 83.8h0M137.1 124.1h0M106.6 160.7h0M325.4 16.4h0M76.4 137.3h0M102.4 130.4h0M73.4 169.4h0M113.1 113.9h0M156.2 107.4h0M102.2 151.8h0M198.3 84.5h0M63.8 152.6h0M89.1 128.2h0M71.9 148.4h0M81.8 164.7h0M134.4 123.4h0M77.4 144.6h0M176.8 101.4h0M55.1 173.1h0M85.4 170.9h0M217.4 73.6h0M148.4 103.5h0M94.0 167.6h0M272.5 36.6h0M95.6 134.6h0M189.2 89.0h0M185.7 90.8h0M52.0 174.6h0M63.7 150.7h0M92.2 140.8h0M306.5 13.2h0M167.1 88.6h0M161.4 109.6h0M140.9 112.7h0M116.6 123.0h0M169.3 101.7h0M84.9 162.5h0M91.4 133.3h0M144.2 124.1h0M102.2 174.5h0M161.1 87.6h0M60.2 145.6h0M311.3 20.1h0M46.7 165.2h0M106.6 130.7h0M105.4 149.8h0M87.0 169.0h0M188.5 80.0h0M61.1 174.4h0M67.6 172.5h0M84.3 170.6h0M74.9 129.5h0M159.5 91.6h0M180.1 105.4h0M135.7 127.5h0M78.0 141.1h0M150.1 116.3h0M191.4 77.7h0M68.5 140.8h0M159.2 106.5h0M237.3 47.3h0M48.8 159.8h0M85.7 140.3h0M53.0 149.8h0M148.3 114.5h0M125.6 136.5h0M72.7 168.4h0M79.4 166.5h0M90.8 125.3h0M145.9 119.7h0M76.1 169.5h0M91.6 139.0h0M117.6 122.5h0M86.3 164.6h0M90.5 160.1h0M129.8 117.8h0M141.1 103.5h0M100.9 167.5h0M118.6 122.2h0M201.7 91.0h0M52.2 173.3h0M97.9 135.4h0M182.0 94.8h0M79.4 145.9h0M63.9 173.9h0M136.7 109.2h0M93.4 137.4h0M98.0 132.1h0M142.4 115.5h0M103.1 131.9h0M89.4 129.4h0M48.3 158.3h0M51.4 175.0h0M98.0 84.8h0M54.2 157.1h0M113.8 144.6h0M52.0 140.3h0M53.5 153.2h0M103.0 124.3h0M133.7 114.3h0M107.8 125.8h0M249.8 54.0h0M151.5 113.0h0M181.2 96.7h0M47.6 174.8h0M46.8 165.6h0M146.3 121.3h0M69.0 174.5h0M83.6 112.9h0M45.7 163.8h0M60.6 150.4h0M117.2 142.5h0M239.1 67.4h0M63.8 153.2h0M145.4 102.9h0M150.2 103.4h0M153.9 109.3h0M64.5 151.9h0M181.3 107.5h0M81.9 172.3h0M104.3 151.2h0M237.0 62.3h0M71.2 171.8h0M156.0 105.0h0M164.7 91.8h0M124.1 115.9h0M154.1 121.7h0M133.8 108.5h0M126.7 111.6h0M184.0 80.8h0M160.9 110.4h0M153.6 104.1h0M192.5 88.1h0M60.2 146.4h0M113.9 143.5h0M103.2 152.4h0M76.3 133.0h0M171.4 93.7h0M92.4 138.2h0M120.7 147.3h0M59.6 154.7h0M122.3 142.4h0M143.2 119.9h0M144.6 128.1h0M127.3 115.4h0M99.8 153.0h0M124.7 119.5h0M222.9 79.0h0M147.9 105.8h0M57.7 152.8h0M127.6 137.2h0M148.5 103.9h0M104.4 148.7h0M87.7 137.3h0M163.7 83.5h0M89.4 162.9h0M99.2 156.0h0M107.7 127.3h0M138.0 114.9h0M45.6 160.4h0M103.2 160.3h0M93.7 160.8h0M156.4 112.2h0M65.3 173.3h0M89.0 131.0h0M112.8 119.0h0M98.7 157.7h0M158.9 86.6h0M174.9 97.8h0M237.2 61.5h0M117.3 154.3h0M149.6 118.5h0M49.9 151.6h0M103.3 126.4h0M147.6 109.3h0M158.2 79.3h0M58.2 173.0h0M89.2 134.2h0M189.5 84.3h0M97.8 135.3h0M49.6 173.6h0M98.7 156.7h0M130.5 133.6h0M98.8 156.1h0M155.1 104.6h0M322.0 23.9h0M56.5 156.2h0M164.5 94.8h0M142.5 127.1h0M102.5 129.3h0M140.9 114.3h0M152.1 111.8h0M134.0 136.6h0M64.1 175.1h0M115.9 145.6h0M66.1 174.5h0M99.9 153.3h0M145.6 118.6h0M140.1 124.2h0M77.4 167.8h0M63.6 154.2h0M99.0 122.4h0M131.1 140.9h0M58.6 134.8h0M66.3 151.4h0M183.7 95.0h0M186.1 82.0h0M143.3 117.7h0M139.8 124.6h0M175.1 101.6h0M82.3 172.2h0M46.8 166.5h0M155.5 116.9h0M137.2 127.8h0M121.7 120.7h0M93.0 129.7h0M159.3 116.6h0M147.6 117.9h0M45.7 175.3h0M153.7 109.1h0M183.4 79.3h0M92.5 159.4h0M210.1 72.5h0M149.4 129.5h0M51.2 174.6h0M140.4 108.3h0M150.6 115.3h0M79.1 134.4h0M60.8 154.6h0M294.3 34.1h0M80.5 144.2h0M154.2 121.5h0M74.3 145.6h0M84.0 141.8h0M153.0 105.2h0M113.9 143.5h0M96.6 137.1h0M90.2 139.4h0M58.7 173.3h0M110.2 124.2h0M143.3 122.8h0M115.1 143.3h0M94.0 133.5h0M150.3 112.8h0M161.9 121.5h0M53.5 153.7h0M140.1 128.7h0M272.5 42.6h0M146.1 117.4h0M142.0 130.9h0M146.8 138.1h0M102.1 124.0h0M53.2 174.2h0M129.1 133.7h0M246.2 55.8h0M154.7 105.8h0M250.0 53.4h0M129.8 137.8h0M75.3 141.0h0M62.3 155.8h0M163.6 111.4h0M160.2 102.9h0M126.9 143.0h0M135.6 126.2h0M58.0 175.3h0M84.2 129.5h0M138.0 109.5h0M152.9 105.7h0M111.6 125.8h0M110.5 152.6h0M136.2 106.1h0M136.6 101.3h0M140.7 111.5h0M56.5 149.8h0M129.6 141.6h0M49.8 173.7h0M63.3 154.3h0M130.6 113.3h0M216.8 55.1h0M81.6 173.3h0M104.7 148.7h0M98.9 157.2h0M62.1 155.4h0M88.0 159.8h0M169.8 113.9h0M181.9 97.6h0M49.7 160.4h0M91.6 162.4h0M76.9 171.4h0M48.5 161.1h0M57.1 149.2h0M110.8 144.3h0M52.7 140.3h0M150.8 105.6h0M190.1 93.8h0M170.5 98.5h0M173.6 103.4h0M103.0 152.5h0M148.3 120.3h0M116.2 124.0h0M196.6 54.0h0M75.9 168.4h0M70.1 142.7h0M190.9 102.7h0M72.5 148.1h0M62.9 174.0h0M140.7 102.6h0M208.8 76.4h0M128.1 135.2h0M186.3 95.1h0M51.7 174.9h0M89.3 140.0h0M230.1 103.3h0M108.0 145.9h0M150.7 118.8h0M71.9 171.4h0M168.4 92.4h0M220.5 57.4h0M122.3 142.6h0M148.0 119.8h0M67.6 150.6h0M143.8 129.1h0M150.1 110.8h0M66.6 150.2h0M139.4 108.9h0M171.9 104.9h0M172.3 97.6h0M184.6 96.7h0M72.7 115.5h0M97.3 166.7h0M115.4 143.1h0M117.1 149.2h0M81.0 168.4h0M140.3 118.6h0M171.3 94.1h0M210.4 76.8h0M141.7 110.5h0M150.4 119.5h0M185.7 93.5h0M136.8 113.0h0M162.2 98.7h0M143.2 124.1h0M46.8 143.3h0M147.0 116.1h0M123.4 108.5h0M156.0 109.0h0M144.3 132.6h0M91.7 159.2h0M204.0 89.2h0M148.9 105.6h0M115.2 119.4h0M186.7 99.0h0M79.5 174.3h0M151.0 115.2h0M167.0 104.5h0M231.7 60.6h0M118.5 123.9h0M143.1 125.8h0M135.2 126.2h0M139.1 125.7h0M113.2 102.2h0M140.2 122.3h0M149.0 79.4h0M71.2 144.2h0M128.6 117.1h0M123.0 119.0h0M115.6 122.4h0M71.3 145.4h0M50.1 158.4h0M61.3 149.3h0M141.2 136.7h0M146.7 85.2h0M122.4 138.1h0M143.7 116.2h0M183.7 97.4h0M118.6 123.0h0M83.8 174.0h0M62.6 152.8h0M249.2 45.6h0M148.4 114.3h0M101.1 128.6h0M265.9 38.0h0M67.4 147.4h0M161.4 116.0h0M137.3 128.0h0M105.6 130.3h0M194.5 90.6h0M212.7 87.9h0M110.4 120.9h0M239.5 42.5h0M53.7 154.1h0M240.8 59.6h0M48.8 174.9h0M135.3 128.3h0M182.1 84.4h0M173.5 107.9h0M159.1 111.3h0M73.4 169.6h0M120.9 144.0h0M87.4 135.9h0M174.2 100.4h0M163.4 109.1h0M144.4 120.7h0M104.0 152.8h0M67.0 143.2h0M85.1 143.3h0M180.0 98.7h0M152.2 114.0h0M110.2 146.6h0M105.3 111.8h0M121.2 118.3h0M217.4 64.9h0M218.7 68.2h0M152.9 118.3h0M114.8 127.5h0M162.5 96.2h0M89.2 140.8h0M206.8 67.1h0M159.2 104.7h0M232.4 71.5h0M170.7 104.8h0M136.6 129.5h0M128.1 131.2h0M143.5 121.3h0M159.3 99.7h0M85.2 142.6h0M216.7 76.7h0M143.5 121.5h0M175.7 94.8h0M168.5 117.9h0M108.8 127.6h0M46.1 173.6h0M120.5 135.9h0M100.7 135.7h0M170.7 85.0h0M161.0 103.1h0M116.6 144.8h0M180.6 75.8h0M59.8 156.8h0M188.4 96.1h0M45.5 175.0h0M47.3 174.8h0M113.8 119.8h0M87.6 160.2h0M156.4 114.8h0M148.0 117.8h0M179.0 82.7h0M113.6 141.6h0M153.6 122.9h0M192.8 106.2h0M51.7 175.1h0M127.0 110.0h0M322.2 9.5h0M155.3 115.9h0M98.4 134.7h0M113.0 125.2h0M207.7 63.4h0M226.3 57.5h0M139.0 116.7h0M101.6 123.8h0M60.3 148.4h0M162.0 102.1h0M185.1 92.5h0M125.4 138.4h0M60.2 148.2h0M140.1 126.1h0M154.3 116.0h0M103.0 129.7h0M164.0 85.2h0M85.3 163.9h0M45.6 160.8h0M68.1 149.1h0M133.8 113.6h0M84.3 162.5h0M70.1 130.3h0M274.4 34.4h0M302.7 14.6h0M54.6 155.7h0M222.0 83.9h0M214.6 74.4h0M62.6 173.1h0M120.1 135.5h0M129.5 131.3h0M86.8 162.9h0M138.7 100.0h0M213.6 87.0h0M159.8 114.5h0M112.6 149.0h0M99.7 131.7h0M110.4 127.0h0M101.0 153.7h0M101.7 152.4h0M124.5 148.8h0M107.7 150.0h0M115.8 147.5h0M166.5 96.1h0M221.3 70.1h0M150.4 112.4h0M156.0 112.5h0M147.9 106.7h0M132.4 105.4h0M54.9 174.3h0M77.3 166.7h0M151.4 116.5h0M108.1 145.9h0M94.0 134.7h0M280.4 20.1h0M136.4 123.2h0M226.6 71.3h0M143.7 118.0h0M143.9 99.3h0M201.4 77.7h0M92.2 160.3h0M116.2 120.8h0M211.3 63.0h0M144.0 107.6h0M57.6 154.3h0M146.6 117.4h0M104.4 155.9h0M141.6 125.2h0M158.7 108.8h0M114.7 149.5h0M136.8 129.7h0M167.2 103.7h0M143.7 131.0h0M56.3 158.4h0M127.5 90.9h0M130.7 118.9h0M176.1 100.0h0M111.3 150.7h0M292.7 38.2h0M49.6 173.6h0M95.1 155.7h0M105.3 150.6h0M60.3 173.0h0M148.8 112.2h0M53.9 158.4h0M76.4 173.3h0M47.3 174.4h0M73.0 147.6h0M148.8 105.7h0M137.7 110.5h0M81.1 138.8h0M48.7 175.2h0M136.4 112.0h0M113.6 119.7h0M76.6 169.0h0M49.3 173.4h0M168.7 133.4h0M206.3 72.3h0M157.8 114.6h0M72.4 173.9h0M45.8 161.7h0M172.5 104.1h0M131.4 136.3h0M54.0 173.6h0M61.3 174.9h0M52.9 175.2h0M200.5 71.8h0M67.7 133.3h0M85.3 164.4h0M150.4 97.4h0M114.4 117.9h0M154.7 110.7h0M166.8 105.3h0M142.5 108.6h0M135.8 123.1h0M132.0 131.0h0M57.6 146.5h0M325.5 10.8h0M61.0 140.4h0M231.1 71.5h0M115.7 105.6h0M140.3 116.2h0M48.8 163.8h0M125.0 117.6h0M154.4 101.9h0M108.8 153.1h0M226.1 18.8h0M190.5 87.2h0M87.1 166.8h0M124.1 118.9h0M201.7 92.0h0M238.7 56.5h0M51.9 175.0h0M251.4 55.3h0M198.5 76.2h0M126.7 136.7h0M53.5 175.0h0M79.0 167.6h0M148.3 85.4h0M159.8 119.5h0M49.9 173.3h0M170.5 78.8h0M140.0 105.5h0M107.3 148.2h0M125.2 137.1h0M156.9 118.7h0M61.2 150.6h0M164.5 108.6h0M142.7 107.7h0M132.8 129.1h0M56.4 154.5h0M134.1 135.8h0M134.2 129.8h0M75.9 144.5h0M175.4 87.0h0M121.5 135.4h0M140.5 117.3h0M72.5 170.0h0M61.9 152.1h0M147.2 112.9h0M201.7 71.8h0M113.9 120.8h0M190.1 80.0h0M136.6 133.1h0M109.0 149.8h0M147.2 125.9h0M166.4 107.1h0M157.3 99.3h0M83.4 136.3h0M219.8 18.1h0M113.7 143.5h0M202.8 68.7h0M151.1 112.0h0M140.6 129.4h0M94.4 139.7h0M183.4 96.4h0M94.4 172.8h0M138.1 116.9h0M45.4 165.7h0M87.0 164.6h0M80.0 140.3h0M197.4 83.1h0M301.9 12.8h0M139.8 106.8h0M127.8 115.8h0M45.8 160.6h0M96.4 134.3h0M122.1 142.9h0M137.0 104.3h0M200.3 75.5h0M69.4 173.6h0M87.2 166.4h0M66.8 150.2h0M98.4 126.4h0M84.5 138.9h0M212.8 87.3h0M136.2 126.1h0M58.4 155.0h0M134.0 126.1h0M126.8 135.1h0M46.4 158.6h0M68.1 142.1h0M189.5 90.2h0M149.1 109.5h0M137.2 127.9h0M279.1 48.5h0M179.9 109.8h0M141.4 121.1h0M75.0 172.7h0M64.6 138.7h0M108.6 129.5h0M100.0 134.0h0M156.9 98.9h0M182.6 89.6h0M88.3 141.5h0M114.5 119.6h0M85.0 143.8h0M239.2 59.6h0M155.5 100.9h0M130.8 111.6h0M195.9 71.1h0M60.7 150.4h0M51.1 157.3h0M83.6 141.2h0M145.5 129.3h0M74.1 172.6h0M210.2 67.5h0M90.6 137.4h0M62.4 173.9h0M176.4 91.6h0M181.7 99.3h0M179.9 97.5h0M72.7 147.8h0M75.1 168.2h0M49.0 162.4h0M46.5 166.1h0M80.0 144.3h0M91.4 169.7h0M128.5 115.8h0M101.7 152.4h0M155.2 124.0h0M144.8 114.0h0M92.3 161.9h0M135.5 106.5h0M53.2 174.7h0M121.7 136.1h0M54.5 174.0h0M124.1 103.9h0M112.4 146.0h0M105.4 131.8h0M90.3 138.7h0M62.9 155.3h0M49.8 174.2h0M185.5 94.6h0M136.1 127.4h0M132.6 130.6h0M110.7 145.2h0M61.4 148.1h0M209.4 76.0h0M130.5 100.6h0M71.7 144.5h0M241.5 50.6h0M128.5 135.7h0M72.2 169.7h0M92.6 157.5h0M198.7 92.5h0M56.4 174.6h0M103.0 158.9h0M70.2 142.5h0M137.7 112.8h0M78.2 172.7h0M142.5 108.3h0M207.8 79.2h0M56.2 156.0h0M53.2 173.0h0M75.4 144.3h0M158.6 127.7h0M110.2 114.8h0M124.2 138.9h0M107.7 121.0h0M54.8 174.6h0M265.7 36.3h0M89.1 157.0h0M80.8 137.2h0M110.6 154.8h0M123.8 119.2h0M158.7 104.2h0M68.5 148.1h0M83.6 140.7h0M80.4 166.0h0M78.6 173.3h0M122.2 118.7h0M158.9 109.4h0M163.4 108.8h0M178.9 98.4h0M69.2 144.9h0M165.3 110.8h0M46.8 174.7h0M119.8 120.3h0M47.7 154.8h0M180.4 102.7h0M224.5 70.3h0M59.2 151.6h0M293.6 39.0h0M314.7 18.3h0M141.8 122.7h0M196.4 67.0h0M120.0 148.2h0M83.6 138.6h0M128.4 102.1h0M143.0 128.5h0M113.5 124.7h0M133.2 130.4h0M93.4 139.2h0M223.4 75.8h0M199.5 99.9h0M137.7 130.2h0M89.4 130.1h0M132.1 135.1h0M149.3 114.2h0M143.7 108.6h0M216.4 74.0h0M113.5 124.3h0M201.9 92.9h0M120.9 109.0h0M193.9 67.6h0M49.0 173.6h0M59.3 173.7h0M164.8 112.7h0M159.7 114.7h0M95.9 163.6h0M173.9 91.3h0M45.6 168.8h0M55.7 174.8h0M81.8 166.5h0M144.1 107.4h0M84.2 160.1h0M159.6 94.8h0M163.5 106.4h0M223.9 48.1h0M165.7 108.9h0M97.7 131.6h0M86.6 162.3h0M150.1 123.4h0M124.5 138.1h0M152.5 95.2h0M45.8 164.3h0M96.4 136.0h0M147.3 109.1h0M63.7 174.6h0M142.1 107.4h0M152.9 103.3h0M125.4 135.3h0M93.9 140.9h0M162.0 118.8h0M53.4 157.9h0M92.3 132.7h0M45.9 173.7h0M62.7 149.8h0M108.1 120.5h0M61.6 173.6h0M139.2 122.2h0M103.2 151.5h0M226.8 76.2h0M105.9 113.3h0M209.8 93.1h0M89.0 157.5h0M203.6 74.2h0M114.1 126.2h0M121.9 119.6h0M67.1 151.1h0M50.7 173.7h0M59.4 174.0h0M140.2 118.8h0M90.8 164.9h0M119.9 122.5h0M281.3 20.0h0M127.1 146.4h0M68.1 172.4h0M82.0 144.7h0M78.2 175.1h0M184.1 98.2h0M98.5 159.4h0M106.2 155.9h0M83.2 139.7h0M111.1 156.0h0M152.1 110.9h0M53.8 156.6h0M84.4 159.8h0M126.4 116.3h0M193.1 74.6h0M135.1 107.8h0M141.5 87.6h0M56.5 158.1h0M118.7 124.9h0M78.9 167.9h0M171.7 98.5h0M178.0 112.6h0M81.9 140.6h0M94.1 101.2h0M322.8 8.0h0M152.6 104.8h0M62.8 127.6h0M97.5 135.9h0M120.2 141.3h0M113.9 148.6h0M82.1 165.6h0M77.3 144.8h0M195.1 84.7h0M161.1 89.7h0M116.9 122.3h0M231.2 64.6h0M166.6 96.9h0M78.7 143.1h0M130.0 134.0h0M84.8 159.4h0M105.9 127.8h0M140.2 111.9h0M124.6 119.7h0M94.5 155.9h0M97.5 157.3h0M113.3 144.1h0M64.8 151.1h0M85.4 165.3h0M187.3 93.4h0M264.5 54.1h0M119.5 103.3h0M161.1 100.4h0M60.7 147.5h0M144.3 109.7h0M157.5 107.5h0M184.7 74.2h0M180.3 89.7h0M92.0 135.4h0M101.5 125.7h0M124.1 120.6h0M175.4 89.6h0M169.1 83.4h0M125.8 141.6h0M131.2 128.3h0M138.3 108.8h0M154.8 109.9h0M171.7 91.3h0M82.8 164.1h0M147.2 115.1h0M216.9 68.0h0M185.9 80.8h0M141.3 118.3h0M150.3 107.8h0M106.1 123.2h0M47.0 160.8h0M112.0 123.8h0M97.4 135.3h0M62.4 153.5h0M156.3 112.2h0M60.1 155.5h0M127.9 134.1h0M112.4 127.0h0M159.4 98.1h0M248.7 63.4h0M153.8 116.7h0M48.9 159.1h0M144.3 120.1h0M72.1 145.5h0M168.6 80.9h0M131.8 115.8h0M74.0 145.2h0M144.8 110.2h0M194.4 81.1h0M64.3 174.5h0M138.2 108.6h0M95.3 117.3h0M114.1 153.4h0M163.9 92.1h0M136.6 113.4h0M86.9 143.9h0M168.8 105.8h0M200.2 76.1h0M163.1 107.5h0M54.8 174.8h0M58.2 152.0h0M148.7 98.9h0M54.1 142.3h0M118.5 123.6h0M50.6 154.0h0M119.4 109.3h0M159.4 112.6h0M179.7 91.3h0M241.7 52.8h0M126.7 134.7h0M226.1 68.2h0M142.3 107.2h0M86.6 131.0h0M258.1 47.5h0M82.8 121.7h0M53.1 158.2h0M106.2 128.1h0M135.2 124.7h0M192.3 85.4h0M84.7 139.9h0M110.7 110.2h0M120.1 138.6h0M143.3 104.5h0M201.7 93.4h0M186.9 98.6h0M92.2 134.0h0M63.5 154.4h0M165.7 104.0h0M110.2 123.1h0M161.9 119.9h0M47.8 148.6h0M60.4 154.5h0M189.4 85.6h0M221.3 78.1h0M186.1 95.5h0M160.1 114.3h0M90.6 133.8h0M68.4 148.3h0M119.5 124.7h0M71.1 170.7h0M81.3 142.1h0M118.5 116.2h0M61.6 174.8h0M54.1 174.0h0M156.0 103.5h0M144.7 95.3h0M184.1 87.1h0M56.5 173.0h0M127.9 116.4h0M94.5 161.0h0M271.3 36.7h0M200.7 73.5h0M59.8 173.1h0M155.4 125.3h0M94.6 160.3h0M117.5 141.7h0M139.0 129.1h0M49.3 161.5h0M143.3 128.4h0M45.4 169.2h0M148.1 119.2h0M183.9 85.6h0M152.9 106.8h0M135.3 113.0h0M107.0 150.0h0M110.9 148.5h0M163.0 96.2h0M136.4 133.1h0M104.2 154.3h0M213.2 108.3h0M176.2 94.9h0M154.6 74.7h0M286.4 40.2h0M82.3 142.3h0M109.2 127.9h0M67.7 152.0h0M93.2 159.8h0M72.2 173.3h0M139.0 112.7h0M79.1 144.8h0M161.8 108.0h0M67.7 143.8h0M190.4 91.4h0M92.1 166.6h0M46.7 173.8h0M161.7 112.5h0M106.7 146.6h0M142.6 124.5h0M112.3 125.4h0M134.6 123.2h0M84.3 161.0h0M240.4 42.0h0M177.9 92.2h0M127.0 107.5h0M215.4 71.7h0M116.8 143.2h0M47.1 166.5h0M99.7 133.5h0M68.5 174.0h0M188.8 76.1h0M87.2 160.4h0M133.0 117.0h0M189.4 80.7h0M120.9 118.8h0M255.1 49.9h0M172.8 101.8h0M242.4 58.2h0M190.0 91.0h0M117.1 141.8h0M45.6 168.0h0M131.9 128.1h0M96.3 158.5h0M106.1 127.5h0M161.0 108.1h0M119.9 111.4h0M109.2 151.9h0M254.3 59.1h0M160.4 97.3h0M70.2 174.9h0M107.9 123.6h0M219.7 74.8h0M215.0 77.3h0M100.1 135.6h0M115.0 142.7h0M166.3 98.2h0M142.2 114.8h0M221.3 49.3h0M120.1 120.7h0M116.3 123.8h0M107.1 155.4h0M119.3 115.9h0M210.3 75.5h0M156.1 130.7h0M134.3 128.0h0M173.7 100.8h0M141.8 102.6h0M138.2 132.8h0M48.6 173.6h0M211.2 70.7h0M166.8 102.5h0M167.2 100.9h0M79.8 170.9h0M163.8 100.7h0M172.9 100.5h0M153.8 117.0h0M141.8 137.3h0M104.0 128.4h0M160.9 89.9h0M212.7 82.6h0M113.3 119.7h0M184.2 82.3h0M141.7 130.7h0M209.8 63.1h0M122.9 114.2h0M80.8 171.8h0M177.0 95.4h0M77.1 142.4h0M109.6 149.0h0M115.4 123.2h0M164.9 106.9h0M144.1 125.4h0M148.4 106.1h0M184.0 76.0h0M179.3 92.6h0M161.6 115.2h0M179.9 94.1h0M52.9 173.2h0M60.4 173.0h0M302.6 20.7h0M147.6 112.9h0M120.0 136.5h0M179.6 88.0h0M119.2 140.1h0M150.2 107.2h0M87.2 160.4h0M205.2 100.1h0M157.8 100.8h0M240.1 50.6h0M88.9 132.3h0M139.5 108.1h0M131.5 132.0h0M215.2 81.0h0M83.8 133.1h0M196.1 87.2h0M143.7 99.7h0M90.8 161.0h0M164.9 121.1h0M98.9 124.8h0M113.4 144.3h0M103.3 128.3h0M112.6 108.4h0M166.3 100.9h0M92.4 136.4h0M139.0 137.1h0M170.2 108.0h0M112.7 142.8h0M154.3 114.1h0M157.6 110.9h0M213.1 78.7h0M129.1 130.8h0M111.0 123.7h0M172.3 97.7h0M182.5 86.6h0M182.4 83.8h0M141.7 97.4h0M55.1 159.3h0" stroke="#62a7f9" stroke-width="1.7" stroke-linecap="round" fill="none"/>
</g>
<rect x="45.4" y="4.5" width="282.90000000000003" height="168.8" fill="none" stroke="#8c8c8c" stroke-width="1.3"/>
<path d="M45.40 173.3v2.5M92.55 173.3v2.5M139.70 173.3v2.5M186.85 173.3v2.5M234.00 173.3v2.5M281.15 173.3v2.5M328.30 173.3v2.5M45.4 173.30h-2.5M45.4 145.17h-2.5M45.4 117.04h-2.5M45.4 88.91h-2.5M45.4 60.78h-2.5M45.4 32.65h-2.5M45.4 4.52h-2.5" stroke="#555" stroke-width="0.9"/>
<text x="45.40" y="185.40" transform="scale(1.0,1)" font-size="12" font-family="&quot;Liberation Serif&quot;, serif" font-weight="bold" text-anchor="middle">0.00</text>
<text x="92.55" y="185.40" transform="scale(1.0,1)" font-size="12" font-family="&quot;Liberation Serif&quot;, serif" font-weight="bold" text-anchor="middle">0.01</text>
<text x="139.70" y="185.40" transform="scale(1.0,1)" font-size="12" font-family="&quot;Liberation Serif&quot;, serif" font-weight="bold" text-anchor="middle">0.02</text>
<text x="186.85" y="185.40" transform="scale(1.0,1)" font-size="12" font-family="&quot;Liberation Serif&quot;, serif" font-weight="bold" text-anchor="middle">0.03</text>
<text x="234.00" y="185.40" transform="scale(1.0,1)" font-size="12" font-family="&quot;Liberation Serif&quot;, serif" font-weight="bold" text-anchor="middle">0.04</text>
<text x="281.15" y="185.40" transform="scale(1.0,1)" font-size="12" font-family="&quot;Liberation Serif&quot;, serif" font-weight="bold" text-anchor="middle">0.05</text>
<text x="328.30" y="185.40" transform="scale(1.0,1)" font-size="12" font-family="&quot;Liberation Serif&quot;, serif" font-weight="bold" text-anchor="middle">0.06</text>
<text x="40.40" y="177.40" transform="scale(1.0,1)" font-size="12" font-family="&quot;Liberation Serif&quot;, serif" font-weight="bold" text-anchor="end">0.00</text>
<text x="40.40" y="149.27" transform="scale(1.0,1)" font-size="12" font-family="&quot;Liberation Serif&quot;, serif" font-weight="bold" text-anchor="end">0.01</text>
<text x="40.40" y="121.14" transform="scale(1.0,1)" font-size="12" font-family="&quot;Liberation Serif&quot;, serif" font-weight="bold" text-anchor="end">0.02</text>
<text x="40.40" y="93.01" transform="scale(1.0,1)" font-size="12" font-family="&quot;Liberation Serif&quot;, serif" font-weight="bold" text-anchor="end">0.03</text>
<text x="40.40" y="64.88" transform="scale(1.0,1)" font-size="12" font-family="&quot;Liberation Serif&quot;, serif" font-weight="bold" text-anchor="end">0.04</text>
<text x="40.40" y="36.75" transform="scale(1.0,1)" font-size="12" font-family="&quot;Liberation Serif&quot;, serif" font-weight="bold" text-anchor="end">0.05</text>
<text x="40.40" y="8.62" transform="scale(1.0,1)" font-size="12" font-family="&quot;Liberation Serif&quot;, serif" font-weight="bold" text-anchor="end">0.06</text>
<clipPath id="cb"><rect x="397.5" y="6.2" width="286.0" height="172.3"/></clipPath>
<path d="M420.50 6.2V178.5M468.40 6.2V178.5M516.30 6.2V178.5M564.20 6.2V178.5M612.10 6.2V178.5M660.00 6.2V178.5M397.5 164.00H683.5M397.5 135.30H683.5M397.5 106.60H683.5M397.5 77.90H683.5M397.5 49.20H683.5M397.5 20.50H683.5" stroke="#d0d0d0" stroke-width="0.8" stroke-dasharray="1.6 1.1" fill="none"/>
<g clip-path="url(#cb)">
<line x1="-4273.70" y1="2972.30" x2="5306.30" y2="-2767.71" stroke="#c0c0c0" stroke-width="0.8"/>
<line x1="-4273.70" y1="2980.91" x2="5306.30" y2="-2759.10" stroke="#c0c0c0" stroke-width="0.8"/>
<line x1="-4273.70" y1="2976.60" x2="5306.30" y2="-2763.40" stroke="#a0a0a0" stroke-width="0.9"/>
<path d="M476.2 117.6h0M568.0 88.9h0M544.9 103.6h0M456.0 142.9h0M551.7 74.8h0M595.5 51.5h0M589.6 76.5h0M559.8 98.7h0M575.8 56.6h0M496.4 103.1h0M578.5 49.5h0M486.3 101.7h0M524.3 79.4h0M518.0 69.9h0M520.7 113.5h0M508.6 97.2h0M582.9 48.7h0M462.0 140.0h0M560.6 69.3h0M462.4 147.2h0M497.8 96.9h0M488.4 108.4h0M568.7 63.1h0M595.5 62.7h0M508.3 120.7h0M553.3 97.6h0M516.0 89.3h0M512.5 95.3h0M487.3 108.7h0M478.7 114.6h0M501.5 97.8h0M490.6 107.4h0M443.9 114.8h0M451.9 139.0h0M525.4 80.5h0M531.5 115.1h0M571.9 62.8h0M572.9 62.2h0M500.4 96.7h0M521.1 85.1h0M597.7 54.5h0M580.4 81.1h0M540.5 110.6h0M574.7 85.4h0M582.7 70.2h0M576.4 62.5h0M463.3 146.2h0M546.2 145.0h0M485.1 137.2h0M507.9 122.0h0M463.4 135.9h0M580.6 60.1h0M493.9 80.5h0M552.8 66.0h0M462.5 144.1h0M536.1 105.0h0M506.7 97.0h0M491.9 107.9h0M510.6 95.5h0M538.0 84.2h0M458.0 131.7h0M596.2 58.6h0M593.3 63.3h0M458.2 132.4h0M536.9 80.7h0M454.8 151.4h0M525.7 113.4h0M541.6 104.5h0M620.3 40.9h0M507.6 122.9h0M612.0 48.7h0M467.8 121.3h0M565.2 57.1h0M565.0 91.9h0M522.1 85.9h0M572.0 86.7h0M491.3 130.2h0M582.9 81.0h0M567.7 94.4h0M513.4 122.2h0M535.3 106.3h0M495.0 130.3h0M591.6 55.9h0M531.5 110.3h0M501.2 101.0h0M558.1 94.3h0M464.5 145.5h0M576.8 82.4h0M584.6 77.5h0M606.5 70.6h0M566.0 71.2h0M552.1 79.4h0M451.3 140.0h0M471.3 121.1h0M479.2 113.4h0M544.0 106.7h0M575.3 90.1h0M499.2 140.7h0M449.9 142.2h0M400.2 168.7h0M512.5 92.1h0M521.3 113.3h0M589.8 55.7h0M559.3 99.2h0M458.8 133.4h0M586.5 42.4h0M479.4 102.5h0M555.0 101.3h0M585.9 60.4h0M574.0 66.7h0M478.1 116.6h0M562.5 59.9h0M556.7 97.8h0M551.3 104.1h0M502.5 127.4h0M526.3 113.1h0M575.5 89.7h0M566.8 55.9h0M528.2 83.3h0M563.6 70.4h0M553.2 110.9h0M461.3 140.7h0M526.0 87.3h0M563.1 124.3h0M500.3 125.0h0M518.0 57.8h0M464.5 148.7h0M463.3 121.3h0M542.2 126.2h0M591.1 76.1h0M503.8 127.8h0M489.4 101.3h0M587.3 108.9h0M514.2 87.1h0M509.3 91.4h0M584.3 83.3h0M452.9 145.0h0M519.3 91.5h0M536.0 82.1h0M595.8 38.3h0M493.9 126.2h0M531.5 53.2h0M606.7 26.2h0M628.6 35.6h0M488.4 129.8h0M467.3 129.0h0M468.4 139.4h0M553.8 97.3h0M482.0 110.6h0M516.7 116.0h0M540.8 77.1h0M573.0 70.9h0M467.4 143.0h0M599.9 61.4h0M515.8 124.0h0M501.2 127.7h0M514.0 123.3h0M556.9 99.0h0M499.0 138.8h0M417.9 140.6h0M595.1 48.4h0M476.1 133.7h0M511.5 88.9h0M574.4 83.5h0M536.4 103.6h0M498.1 138.7h0M488.0 130.4h0M516.7 69.2h0M442.5 156.2h0M566.5 65.6h0M613.3 44.6h0M518.8 116.9h0M504.4 94.7h0M541.4 104.5h0M616.8 43.8h0M500.2 80.8h0M458.3 122.8h0M542.8 105.3h0M459.7 133.8h0M490.5 159.0h0M503.3 96.2h0M525.4 55.3h0M559.1 99.4h0M572.1 65.8h0M533.3 68.0h0M525.6 86.5h0M588.6 73.5h0M499.7 139.2h0M559.4 94.1h0M493.6 108.0h0M576.5 53.2h0M587.1 66.1h0M519.7 120.8h0M529.1 112.7h0M525.0 119.3h0M430.5 138.9h0M506.9 125.2h0M521.0 113.7h0M507.4 120.0h0M470.3 139.6h0M511.8 140.5h0M533.8 105.2h0M570.3 92.5h0M538.2 84.3h0M469.0 133.1h0M503.9 149.7h0M469.3 114.4h0M529.3 110.6h0M527.4 109.9h0M468.5 113.5h0M455.0 135.8h0M567.2 53.5h0M587.7 68.3h0M467.6 142.3h0M506.0 95.7h0M475.6 117.9h0M551.6 98.4h0M587.4 27.9h0M428.6 152.2h0M562.2 65.6h0M496.4 101.5h0M591.4 54.4h0M584.4 79.5h0M469.2 128.8h0M473.3 120.3h0M492.0 130.5h0M480.4 139.0h0M469.6 118.2h0M510.8 85.2h0M487.6 131.1h0M447.0 132.6h0M503.4 95.1h0M467.9 139.4h0M613.8 54.1h0M470.2 112.5h0M484.8 100.8h0M619.0 51.2h0M529.8 83.6h0M502.6 103.6h0M493.6 100.4h0M496.9 103.9h0M473.1 119.2h0M471.3 123.9h0M469.0 129.9h0M588.3 74.8h0M504.5 89.5h0M520.8 116.2h0M481.7 114.6h0M463.8 136.1h0M539.3 104.1h0M467.3 138.9h0M571.2 86.0h0M491.1 130.9h0M546.5 104.8h0M473.7 118.1h0M560.5 101.0h0M504.0 92.8h0M470.9 114.2h0M481.1 103.7h0M494.5 127.4h0M591.5 71.6h0M491.5 128.6h0M575.5 83.7h0M502.8 97.1h0M469.0 124.8h0M491.9 128.6h0M552.5 71.5h0M554.1 98.7h0M416.3 164.9h0M484.5 131.7h0M476.2 117.1h0M512.1 84.0h0M467.6 127.9h0M455.3 128.6h0M472.9 128.5h0M545.8 46.4h0M512.6 120.4h0M557.9 74.8h0M531.9 78.8h0M474.5 115.8h0M586.1 57.1h0M489.4 139.2h0M562.9 97.4h0M599.3 70.5h0M538.1 79.8h0M542.3 75.3h0M486.4 136.8h0M556.3 78.4h0M509.4 97.7h0M538.8 84.9h0M561.9 96.0h0M593.3 58.4h0M510.1 124.1h0M563.6 66.3h0M533.9 72.9h0M573.5 51.2h0M455.6 138.9h0M504.9 121.1h0M478.3 139.3h0M557.6 104.1h0M526.5 84.0h0M463.2 141.1h0M539.7 75.4h0M532.7 77.1h0M558.5 104.2h0M493.3 126.1h0M571.7 94.0h0M516.9 82.1h0M566.6 57.5h0M597.0 37.9h0M508.7 124.0h0M509.2 92.4h0M498.1 99.0h0M507.2 77.8h0M549.0 122.4h0M596.4 67.0h0M540.9 105.8h0M586.5 45.8h0M509.5 128.6h0M539.1 75.4h0M460.5 132.4h0M508.7 119.2h0M552.4 106.0h0M500.4 130.0h0M510.1 89.4h0M494.9 127.7h0M482.9 99.1h0M535.8 82.0h0M560.1 66.2h0M536.0 107.1h0M451.5 136.3h0M487.5 107.8h0M547.5 76.9h0M520.4 84.4h0M654.0 28.4h0M576.7 55.5h0M501.1 92.6h0M572.5 67.0h0M610.4 43.0h0M586.8 75.2h0M467.1 108.8h0M537.8 105.0h0M499.2 99.7h0M488.5 104.0h0M548.9 66.7h0M543.5 64.0h0M475.4 141.0h0M536.4 104.8h0M571.6 95.8h0M491.8 106.7h0M494.1 138.1h0M571.6 71.8h0M560.4 69.8h0M597.6 63.8h0M522.3 113.0h0M537.7 81.6h0M471.9 150.9h0M509.1 92.9h0M441.2 127.3h0M577.1 83.7h0M463.5 145.4h0M536.1 107.5h0M554.3 66.4h0M561.6 74.0h0M546.1 71.8h0M577.9 80.2h0M472.3 138.4h0M568.8 99.5h0M481.7 89.1h0M468.5 147.7h0M538.7 78.3h0M539.9 68.2h0M520.4 115.9h0M496.2 127.4h0M575.4 81.6h0M516.9 89.2h0M543.3 81.4h0M511.7 92.2h0M486.5 110.0h0M521.0 116.3h0M515.8 115.1h0M558.8 94.8h0M538.4 82.3h0M542.1 107.1h0M485.3 106.5h0M536.8 111.9h0M571.4 66.2h0M565.6 56.1h0M597.5 56.4h0M446.8 134.5h0M511.3 96.3h0M608.6 48.0h0M587.9 68.8h0M542.7 66.5h0M551.6 78.9h0M519.6 82.0h0M571.0 83.5h0M465.5 133.0h0M513.7 84.1h0M495.1 127.4h0M539.1 57.8h0M447.7 146.4h0M451.0 143.2h0M517.0 85.8h0M477.6 102.7h0M514.5 90.4h0M522.3 70.6h0M508.7 124.6h0M551.5 59.1h0M536.6 103.1h0M596.8 69.8h0M556.6 96.9h0M468.4 133.1h0M606.0 67.3h0M486.4 103.4h0M550.3 120.9h0M490.7 129.2h0M587.3 80.2h0M483.2 132.2h0M573.0 68.5h0M487.7 87.8h0M500.1 97.5h0M545.2 70.8h0M564.4 90.5h0M596.7 60.9h0M552.5 69.6h0M502.0 124.6h0M535.1 125.9h0M510.9 82.2h0M471.7 122.8h0M508.5 119.6h0M503.1 121.9h0M466.4 130.7h0M582.1 74.8h0M472.8 112.0h0M447.9 139.8h0M489.4 107.1h0M566.9 88.0h0M591.0 56.3h0M620.9 46.6h0M563.1 59.0h0M496.1 127.9h0M547.1 74.6h0M517.7 119.2h0M556.2 66.1h0M537.3 72.8h0M542.5 105.3h0M470.8 137.6h0M522.8 73.8h0M548.1 72.1h0M477.0 119.6h0M617.7 51.3h0M521.8 132.5h0M476.1 118.7h0M413.1 171.0h0M502.3 126.5h0M554.1 131.9h0M554.1 72.5h0M507.7 120.2h0M462.2 126.0h0M550.7 76.5h0M604.9 65.7h0M605.9 54.2h0M493.4 64.1h0M487.7 140.1h0M525.2 142.0h0M508.1 128.6h0M572.7 98.9h0M491.1 137.3h0M457.0 145.0h0M570.2 68.7h0M522.7 85.3h0M524.8 87.6h0M466.6 134.9h0M518.6 87.0h0M459.4 128.0h0M600.9 61.1h0M521.5 114.1h0M508.5 122.3h0M466.1 121.0h0M501.2 126.2h0M520.1 113.9h0M558.2 98.8h0M443.5 153.6h0M584.3 50.4h0M487.6 110.5h0M446.8 148.6h0M481.4 111.2h0M502.9 104.0h0M529.6 73.6h0M610.6 55.9h0M485.9 151.0h0M540.4 73.9h0M550.4 75.7h0M569.8 88.8h0M517.0 125.7h0M530.2 82.3h0M630.1 36.0h0M521.0 62.5h0M503.4 98.3h0M510.4 70.5h0M506.1 130.5h0M623.5 46.0h0M613.6 62.4h0M535.5 104.1h0M601.8 36.9h0M558.9 93.4h0M542.4 80.4h0M503.1 126.2h0M594.6 72.0h0M525.1 70.4h0M508.2 145.7h0M542.0 74.6h0M526.1 88.0h0M485.6 131.4h0M468.2 139.4h0M467.6 119.7h0M522.5 114.8h0M549.4 108.0h0M541.2 78.5h0M504.5 127.0h0M481.2 138.1h0M593.0 76.5h0M589.7 56.9h0M551.3 42.7h0M597.9 62.5h0M519.6 89.8h0M493.8 140.3h0M586.5 66.3h0M477.9 116.9h0M458.0 125.2h0M591.4 54.4h0M482.3 136.4h0M553.8 73.4h0M566.4 71.0h0M586.3 65.5h0M501.8 101.9h0M480.1 135.5h0M579.5 57.8h0M621.6 50.8h0M587.1 68.9h0M529.8 109.6h0M507.0 95.1h0M480.1 140.0h0M553.5 72.1h0M558.4 70.1h0M571.1 66.3h0M534.5 106.1h0M472.4 117.4h0M482.1 133.4h0M434.2 135.2h0M464.1 125.3h0M436.0 141.6h0M475.7 120.0h0M568.6 87.3h0M465.5 125.9h0M466.3 113.5h0M523.5 113.5h0M568.4 86.3h0M466.2 127.7h0M587.2 77.9h0M531.9 83.9h0M590.6 76.6h0M536.2 78.7h0M548.1 103.0h0M546.5 76.7h0M486.6 131.8h0M518.0 88.7h0M459.9 130.9h0M552.0 77.1h0M591.0 61.2h0M470.5 130.3h0M552.0 107.4h0M451.6 137.9h0M575.2 62.2h0M538.1 83.3h0M525.4 80.8h0M508.7 78.4h0M473.3 116.2h0M543.4 79.4h0M529.2 80.9h0M504.2 95.7h0M480.8 152.0h0M474.8 143.4h0M586.6 52.3h0M574.4 81.0h0M460.7 134.8h0M527.6 85.5h0M594.2 68.5h0M509.7 95.8h0M521.5 113.8h0M489.2 108.3h0M534.8 105.2h0M562.4 90.1h0M471.1 123.9h0M488.9 103.4h0M496.0 127.6h0M437.8 148.2h0M519.0 135.7h0M533.3 115.7h0M590.6 51.0h0M587.2 61.2h0M526.1 84.9h0M572.5 65.4h0M571.5 84.9h0M523.4 89.0h0M576.6 76.1h0M461.2 131.1h0M528.0 116.6h0M476.7 117.5h0M470.3 140.8h0M510.9 132.0h0M613.9 51.8h0M525.8 113.5h0M487.2 99.6h0M623.9 68.4h0M480.4 116.7h0M564.2 99.5h0M568.6 61.7h0M603.3 69.7h0M570.1 66.9h0M546.7 73.2h0M589.8 76.0h0M513.2 68.6h0M462.6 125.7h0M584.1 68.9h0M517.6 118.8h0M538.9 69.6h0M508.4 126.0h0M440.8 146.4h0M544.3 121.4h0M440.1 143.0h0M436.5 161.7h0M595.0 57.8h0M529.4 76.5h0M453.2 150.3h0M489.4 88.8h0M487.9 110.1h0M519.7 84.7h0M530.2 74.0h0M483.0 142.2h0M584.0 60.7h0M465.8 123.0h0M541.2 80.5h0M561.9 68.3h0M570.5 65.1h0M461.5 150.4h0M569.3 85.5h0M629.7 36.6h0M594.3 56.3h0M459.5 148.3h0M524.6 77.9h0M538.3 123.7h0M439.6 140.1h0M580.9 60.1h0M530.0 78.6h0M548.3 74.7h0M500.7 125.8h0M449.2 169.5h0M510.3 76.5h0M465.1 130.4h0M449.6 141.5h0M573.2 86.7h0M480.6 109.1h0M540.2 106.0h0M600.8 53.2h0M568.3 89.9h0M601.8 64.2h0M460.8 121.2h0M570.8 88.7h0M465.5 133.5h0M476.1 119.0h0M487.7 130.6h0M534.0 73.1h0M570.9 64.0h0M507.1 120.2h0M531.9 74.9h0M560.6 70.1h0M522.4 113.5h0M570.2 107.6h0M459.7 129.0h0M476.2 117.0h0M534.3 104.7h0M450.3 138.0h0M527.0 109.4h0M653.6 32.2h0M549.3 68.8h0M489.9 108.9h0M473.7 135.4h0M581.0 57.5h0M477.6 111.1h0M586.2 71.9h0M521.5 113.2h0M588.8 87.0h0M533.3 81.0h0M591.4 60.1h0M518.7 91.1h0M566.4 68.7h0M529.0 75.7h0M567.0 91.2h0M509.0 96.7h0M537.6 84.0h0M468.6 125.5h0M481.8 130.5h0" stroke="#ff4a1e" stroke-width="1.7" stroke-linecap="round" fill="none"/>
<path d="M604 59h1v1h-1zM606 60h1v1h-1zM585 61h2v1h-2zM583 62h2v1h-2zM582 63h3v1h-3zM594 63h3v1h-3zM594 64h3v1h-3zM576 65h1v1h-1zM593 65h1v1h-1zM575 66h3v1h-3zM567 67h3v1h-3zM574 67h6v1h-6zM567 68h3v1h-3zM574 68h7v1h-7zM585 68h1v1h-1zM569 69h12v1h-12zM583 69h5v1h-5zM573 70h8v1h-8zM584 70h2v1h-2zM587 70h1v1h-1zM570 71h1v1h-1zM573 71h5v1h-5zM580 71h6v1h-6zM564 72h15v1h-15zM580 72h5v1h-5zM563 73h23v1h-23zM587 73h1v1h-1zM555 74h1v1h-1zM559 74h23v1h-23zM583 74h1v1h-1zM585 74h1v1h-1zM587 74h1v1h-1zM555 75h8v1h-8zM564 75h18v1h-18zM585 75h1v1h-1zM553 76h10v1h-10zM564 76h12v1h-12zM579 76h3v1h-3zM549 77h1v1h-1zM553 77h17v1h-17zM571 77h12v1h-12zM547 78h4v1h-4zM552 78h4v1h-4zM557 78h22v1h-22zM580 78h3v1h-3zM544 79h7v1h-7zM553 79h3v1h-3zM557 79h22v1h-22zM580 79h1v1h-1zM540 80h1v1h-1zM544 80h30v1h-30zM540 81h2v1h-2zM544 81h29v1h-29zM540 82h34v1h-34zM539 83h30v1h-30zM534 84h1v1h-1zM539 84h30v1h-30zM531 85h37v1h-37zM527 86h2v1h-2zM531 86h35v1h-35zM527 87h35v1h-35zM564 87h2v1h-2zM527 88h35v1h-35zM565 88h1v1h-1zM521 89h2v1h-2zM526 89h36v1h-36zM520 90h3v1h-3zM524 90h35v1h-35zM560 90h1v1h-1zM520 91h41v1h-41zM519 92h37v1h-37zM559 92h3v1h-3zM517 93h39v1h-39zM560 93h2v1h-2zM515 94h1v1h-1zM517 94h37v1h-37zM560 94h2v1h-2zM513 95h41v1h-41zM512 96h41v1h-41zM510 97h41v1h-41zM508 98h40v1h-40zM504 99h44v1h-44zM504 100h44v1h-44zM498 101h2v1h-2zM503 101h42v1h-42zM498 102h3v1h-3zM502 102h44v1h-44zM497 103h5v1h-5zM503 103h33v1h-33zM539 103h1v1h-1zM543 103h1v1h-1zM493 104h1v1h-1zM495 104h39v1h-39zM493 105h1v1h-1zM495 105h38v1h-38zM494 106h39v1h-39zM494 107h38v1h-38zM491 108h2v1h-2zM494 108h38v1h-38zM490 109h34v1h-34zM484 110h1v1h-1zM490 110h35v1h-35zM484 111h1v1h-1zM489 111h31v1h-31zM521 111h3v1h-3zM482 112h5v1h-5zM488 112h32v1h-32zM482 113h33v1h-33zM518 113h2v1h-2zM482 114h34v1h-34zM482 115h29v1h-29zM512 115h3v1h-3zM481 116h34v1h-34zM479 117h36v1h-36zM478 118h35v1h-35zM477 119h31v1h-31zM509 119h2v1h-2zM477 120h29v1h-29zM474 121h28v1h-28zM505 121h1v1h-1zM474 122h32v1h-32zM472 123h28v1h-28zM502 123h2v1h-2zM470 124h29v1h-29zM502 124h2v1h-2zM470 125h28v1h-28zM470 126h23v1h-23zM494 126h1v1h-1zM470 127h21v1h-21zM470 128h2v1h-2zM473 128h16v1h-16zM472 129h16v1h-16zM472 130h9v1h-9zM482 130h5v1h-5zM462 131h5v1h-5zM469 131h15v1h-15zM463 132h4v1h-4zM469 132h4v1h-4zM475 132h7v1h-7zM464 133h1v1h-1zM469 133h3v1h-3zM477 133h5v1h-5zM464 134h1v1h-1zM473 134h3v1h-3zM481 134h2v1h-2zM468 135h1v1h-1zM474 135h3v1h-3zM481 135h2v1h-2zM459 136h3v1h-3zM466 136h5v1h-5zM474 136h3v1h-3zM459 137h2v1h-2zM465 137h4v1h-4zM460 138h1v1h-1zM465 138h1v1h-1zM456 139h5v1h-5zM455 140h5v1h-5zM455 141h5v1h-5z" fill="#62a7f9"/>
<path d="M574.1 66.8h0M579.7 78.5h0M525.9 126.4h0M493.4 125.0h0M480.4 113.9h0M522.4 112.4h0M534.3 104.2h0M452.4 134.5h0M557.5 99.1h0M497.2 100.3h0M471.6 115.7h0M477.2 136.8h0M586.0 63.0h0M565.1 72.7h0M611.1 51.9h0M528.8 109.7h0M586.8 60.9h0M551.0 76.6h0M584.3 71.7h0M482.3 107.3h0M516.7 131.4h0M567.1 66.6h0M585.4 69.7h0M527.1 116.1h0M435.8 143.5h0M513.8 118.0h0M519.0 93.8h0M544.9 78.8h0M522.2 92.0h0M465.6 131.6h0M464.3 127.4h0M482.2 134.3h0M512.8 81.9h0M471.8 135.3h0M476.0 136.0h0M596.0 95.3h0M462.8 150.5h0M471.2 131.4h0M550.8 96.8h0M571.0 63.6h0M560.6 98.4h0M477.7 114.6h0M597.6 69.6h0M549.4 74.4h0M613.9 58.5h0M514.3 115.0h0M513.5 121.0h0M496.5 126.0h0M487.3 140.1h0M595.4 53.7h0M549.0 42.0h0M580.4 73.8h0M520.7 111.2h0M453.2 145.1h0M581.5 77.8h0M487.7 130.1h0M540.3 102.5h0M611.5 73.6h0M597.2 54.5h0M484.4 112.2h0M489.1 132.7h0M462.9 140.4h0M439.0 141.7h0M508.6 83.7h0M598.7 56.9h0M570.7 63.2h0M483.3 130.5h0M453.5 148.4h0M606.1 56.7h0M511.9 68.3h0M607.4 59.3h0M473.5 122.1h0M508.3 118.9h0M499.9 94.4h0M560.5 74.3h0M476.2 102.0h0M526.9 86.4h0M581.5 68.0h0M530.5 83.8h0M547.3 98.3h0M505.0 123.6h0M559.2 90.6h0M496.9 96.9h0M556.7 78.0h0M463.8 132.3h0M504.6 89.3h0M544.4 74.1h0M592.1 67.2h0M499.0 99.4h0M498.2 132.2h0M519.9 128.5h0M559.8 73.1h0M581.2 77.6h0M549.8 116.1h0M606.9 55.8h0M474.9 133.5h0M549.2 74.8h0M477.6 110.3h0M499.7 84.5h0M447.6 139.7h0M543.8 71.6h0M579.1 67.5h0M591.4 67.2h0M491.9 109.2h0M468.6 144.6h0M479.2 117.3h0M556.8 72.0h0M494.0 127.5h0M510.2 119.4h0M597.0 69.2h0M602.4 69.0h0M527.3 85.3h0M581.3 78.5h0M555.3 95.0h0M478.4 137.7h0M456.3 134.5h0M608.2 59.5h0M544.8 108.2h0M569.1 83.7h0M490.7 108.3h0M478.0 115.9h0M593.5 66.8h0M453.7 133.9h0M447.0 139.6h0M599.8 57.2h0M563.0 72.9h0M573.2 70.7h0M498.8 126.4h0M550.5 60.7h0M509.1 119.3h0M502.2 127.1h0M458.5 143.8h0M474.8 131.9h0M551.2 79.5h0M543.4 103.8h0M555.5 100.5h0M574.4 67.8h0M588.8 74.4h0M551.4 98.7h0M592.6 67.1h0M458.1 143.5h0M530.5 82.5h0M500.3 94.1h0M561.4 87.0h0M516.0 95.2h0M457.9 130.3h0M469.0 124.7h0M560.5 93.3h0M470.9 133.0h0M573.4 69.1h0M538.3 102.9h0M545.1 101.3h0M582.5 73.0h0M499.4 124.4h0M577.6 64.1h0M574.2 68.3h0M584.5 73.8h0M532.1 85.5h0M466.4 137.2h0M523.1 111.0h0M459.9 127.3h0M546.2 78.9h0M560.0 70.8h0M593.8 56.3h0M466.2 138.6h0M592.8 65.2h0M510.1 115.8h0M606.2 47.2h0M482.9 131.3h0M447.2 147.7h0M530.7 108.8h0M613.8 53.1h0M575.4 76.1h0M538.5 112.9h0M527.9 112.7h0M553.0 95.4h0M528.4 108.1h0M503.8 102.3h0M466.9 133.0h0M488.1 112.5h0M586.4 75.3h0M466.5 128.6h0M464.3 169.3h0M478.8 139.4h0M498.1 103.1h0M557.6 70.6h0M507.9 83.0h0M470.2 123.0h0M601.5 62.5h0M455.8 140.2h0M460.9 125.6h0M562.7 91.8h0M600.4 64.2h0M461.1 139.3h0M445.3 142.9h0M568.5 65.5h0M488.0 106.3h0M471.8 137.7h0M521.8 90.9h0M578.0 86.3h0M466.2 147.2h0M544.9 82.4h0M597.4 61.6h0M463.3 125.4h0M471.6 132.7h0M559.0 111.3h0M552.1 99.0h0M515.3 95.7h0M585.1 72.3h0M483.4 130.6h0M497.5 103.3h0M458.9 142.6h0M511.3 92.5h0M470.2 127.8h0M443.7 145.8h0M524.9 110.0h0M601.7 68.7h0M574.3 67.3h0M489.9 112.3h0M553.7 93.1h0M472.9 127.7h0M521.9 78.9h0M491.8 146.2h0M576.3 76.8h0M582.3 73.7h0M526.1 86.6h0M459.3 140.6h0M512.4 98.0h0M553.5 97.7h0M487.2 128.5h0M508.0 90.6h0M564.6 77.9h0M528.1 119.2h0M524.6 109.3h0M548.8 78.2h0M513.9 81.3h0M548.0 99.2h0M562.0 59.8h0M482.7 129.8h0M511.5 90.2h0M608.9 58.1h0M555.2 76.9h0M593.2 62.8h0M569.3 78.3h0M496.1 130.6h0M509.3 119.5h0M624.9 51.7h0M463.6 134.1h0M578.4 75.1h0M476.2 136.9h0M572.2 80.4h0M584.3 74.7h0M540.6 104.7h0M578.2 78.4h0M597.6 65.0h0M460.4 142.7h0M515.0 117.8h0M563.9 76.1h0M463.6 137.8h0M500.1 103.5h0M505.1 97.1h0M607.2 62.2h0M446.3 146.0h0M471.0 121.4h0M625.2 52.8h0M448.0 147.3h0M491.7 98.7h0M602.1 54.0h0M558.4 92.6h0M512.9 97.1h0M497.0 126.9h0M461.0 150.4h0M503.3 102.7h0M489.1 111.6h0M478.0 135.8h0M495.2 126.8h0M545.1 77.8h0M520.7 118.6h0M581.5 79.5h0M577.4 72.0h0M447.1 141.2h0M582.9 80.7h0M485.5 134.4h0M588.7 65.6h0M486.7 113.2h0M563.5 86.5h0M560.9 92.6h0M467.2 117.0h0M486.6 112.5h0M519.7 117.4h0M536.4 108.6h0M461.1 134.1h0M535.8 102.7h0M491.0 103.9h0M552.0 64.0h0M590.1 55.8h0M584.4 68.6h0M588.6 71.0h0M458.5 146.9h0M580.5 56.6h0M501.4 100.6h0M542.8 74.9h0M557.2 107.7h0M590.5 68.3h0M470.9 117.9h0M508.7 89.4h0M568.5 90.6h0M540.1 82.8h0M538.2 105.2h0M483.1 111.1h0M525.5 85.0h0M543.9 109.4h0M496.7 137.1h0M524.8 111.2h0M571.9 83.0h0M574.8 79.1h0M547.2 79.3h0M502.0 120.7h0M582.2 71.1h0M602.0 66.4h0M486.0 131.5h0M564.0 74.0h0M475.4 119.1h0M524.4 90.6h0M607.0 58.1h0M484.2 111.2h0M582.7 62.2h0M581.5 78.5h0M523.7 120.4h0M460.1 133.6h0M592.7 66.4h0M584.0 73.2h0M578.8 67.3h0M481.2 135.5h0M542.6 102.2h0M509.8 120.9h0M547.0 72.2h0M489.5 112.7h0M595.4 62.9h0M505.4 120.2h0M557.3 80.2h0M583.3 61.1h0M616.4 44.3h0M537.0 111.3h0M505.1 100.0h0M521.8 114.7h0M594.5 55.4h0M504.3 102.0h0M436.1 145.9h0M485.7 111.6h0M565.7 87.2h0M578.4 76.1h0M472.1 137.4h0M513.4 92.2h0M488.2 108.3h0M494.1 103.7h0M511.3 118.2h0M517.5 118.0h0M593.1 60.3h0M473.1 118.2h0M523.1 91.1h0M604.4 63.5h0M551.5 111.7h0M567.6 84.7h0M599.2 64.1h0M522.7 128.6h0M560.4 71.0h0M463.4 135.1h0M489.5 90.6h0M579.4 76.9h0M499.0 125.8h0M532.0 108.8h0M603.4 57.5h0M551.7 80.4h0M488.2 133.5h0M532.1 106.0h0M482.0 115.6h0M539.0 84.7h0M491.3 126.5h0M598.0 49.3h0M499.5 102.7h0M603.2 51.5h0M606.2 60.2h0M545.8 55.3h0M505.1 123.5h0M545.0 102.5h0M606.4 60.1h0M472.5 140.1h0M573.4 79.8h0M575.5 80.8h0M508.0 97.9h0M544.2 103.5h0M578.6 57.4h0M535.9 105.7h0M525.2 110.2h0M533.8 108.0h0M533.8 82.7h0M552.9 100.4h0M507.2 99.7h0M531.5 111.6h0M486.5 129.9h0M591.5 64.4h0M453.5 140.3h0M584.4 75.3h0M516.6 121.6h0M595.3 69.4h0M498.8 103.3h0M502.9 123.8h0M463.7 131.9h0M537.5 106.8h0M595.1 67.3h0M585.3 67.7h0M597.2 48.1h0M605.1 54.2h0M555.5 72.2h0M567.9 72.1h0M466.3 130.1h0M565.7 85.2h0M519.4 81.3h0M461.9 144.3h0M552.1 79.9h0M582.1 70.6h0M511.2 115.3h0M501.8 129.0h0M592.1 71.8h0M466.3 131.6h0M550.4 77.3h0M595.8 63.2h0M498.8 138.5h0M460.5 138.1h0M514.1 88.0h0M576.2 79.9h0M556.8 70.0h0M512.2 116.9h0M500.1 102.2h0M564.2 71.6h0M604.0 60.7h0M528.5 87.5h0M498.9 95.2h0M575.3 55.9h0M471.0 131.3h0M503.3 103.7h0M498.9 103.5h0M500.9 102.2h0M559.6 90.1h0M571.1 72.9h0M480.8 107.1h0M571.0 65.7h0M573.2 85.0h0M608.4 49.2h0M458.8 148.2h0M573.3 83.7h0M469.6 125.3h0M494.8 125.5h0M565.3 65.6h0M575.5 83.6h0M573.3 82.4h0M510.7 93.2h0M571.6 72.3h0M489.7 107.8h0M460.6 133.0h0M579.7 68.6h0M450.4 151.1h0M556.7 73.6h0M577.0 66.1h0M518.4 117.6h0M497.5 125.4h0M519.8 110.8h0M479.3 143.6h0M450.0 143.8h0M458.3 137.2h0M578.7 72.4h0M603.1 59.9h0M506.2 92.2h0M536.2 80.6h0M491.3 109.1h0M549.2 78.2h0M484.1 135.1h0M465.0 120.2h0M504.8 96.1h0M523.2 112.4h0M556.0 93.8h0M500.4 82.1h0M461.0 140.2h0M573.6 79.3h0M499.3 100.6h0M505.8 122.2h0M504.1 145.8h0M499.4 124.2h0M487.2 108.4h0M561.7 90.4h0M448.6 143.9h0M539.6 85.9h0M530.4 79.6h0M450.0 147.2h0M631.5 37.0h0M511.5 96.6h0M534.2 66.5h0M587.0 63.0h0M601.5 60.7h0M483.0 112.4h0M459.8 140.0h0M452.1 146.5h0M532.0 111.2h0M480.2 133.9h0M551.4 96.0h0M525.2 86.3h0M486.0 97.7h0M493.2 106.6h0M511.0 98.5h0M466.4 133.3h0M512.6 118.8h0M571.6 76.2h0M439.4 149.8h0M470.3 137.5h0M569.5 77.6h0M543.0 80.9h0M514.3 95.3h0M533.4 84.2h0M488.9 106.9h0M466.9 132.0h0M486.2 108.7h0M593.6 64.5h0M580.9 71.2h0M554.2 94.8h0M559.6 73.1h0M527.4 87.6h0M547.1 72.1h0M434.6 151.9h0M563.4 74.8h0M533.5 85.8h0M447.7 149.0h0M586.1 68.6h0M492.5 137.1h0M535.9 82.8h0M534.4 80.8h0M466.6 137.9h0M557.1 99.1h0M524.3 112.3h0M432.8 138.2h0M582.3 59.6h0M448.6 124.4h0M508.0 100.0h0M477.6 105.5h0M567.8 85.3h0M504.6 100.4h0M491.7 130.5h0M591.8 63.3h0M453.1 142.3h0M581.8 69.1h0M519.4 123.1h0M473.4 120.2h0M557.2 77.2h0M571.5 84.3h0M510.4 120.7h0M591.4 71.1h0M553.3 77.4h0M520.0 91.1h0M473.9 135.8h0M480.5 144.9h0M463.3 126.0h0M474.5 121.4h0M542.1 78.8h0M540.1 80.2h0M518.3 135.8h0M628.6 36.7h0M546.1 72.7h0M589.2 63.4h0M454.1 144.5h0M502.5 120.8h0M559.3 92.6h0M460.5 137.2h0M528.5 86.8h0M541.0 80.4h0M563.1 97.6h0M553.3 77.9h0M454.4 133.4h0M543.3 79.5h0M433.0 153.0h0M513.3 95.7h0M494.3 106.9h0M551.4 96.2h0M512.2 92.0h0M522.5 88.2h0M473.6 120.3h0M479.9 140.6h0M568.9 88.9h0M456.3 132.0h0M455.2 130.1h0M492.8 108.3h0M479.1 113.9h0M519.7 110.6h0M570.2 70.9h0M570.2 73.0h0M601.9 54.6h0M560.1 72.1h0M575.6 76.5h0M606.7 56.8h0M554.5 94.0h0M441.0 150.8h0M537.9 83.4h0M506.5 98.0h0M592.4 60.6h0M534.4 115.5h0M565.1 85.2h0M608.5 44.8h0M587.6 74.8h0M481.3 129.8h0M580.3 66.1h0M525.8 117.8h0M528.7 76.5h0M581.7 67.9h0M586.6 79.7h0M489.9 128.4h0M478.4 135.9h0M499.2 129.5h0M460.0 135.6h0M571.9 70.5h0M589.2 81.2h0M539.3 126.0h0M466.0 123.5h0M477.9 119.0h0M482.3 133.1h0M578.8 67.2h0M567.3 88.2h0M443.7 142.4h0M528.2 87.9h0M592.6 76.0h0M526.4 90.5h0M556.3 73.9h0M482.5 134.2h0M547.2 98.8h0M575.4 76.8h0M585.4 71.6h0M556.8 80.4h0M534.5 107.7h0M527.8 85.5h0M579.5 83.1h0M547.0 103.5h0M553.0 95.6h0M456.9 140.6h0M454.8 143.9h0M570.4 68.6h0M561.6 89.2h0M577.6 85.5h0M469.4 132.8h0M459.6 139.1h0M493.9 104.1h0M527.9 117.7h0M504.0 98.8h0M468.1 129.5h0M619.8 48.4h0M494.1 143.9h0M500.0 102.8h0M554.3 99.4h0M427.5 129.8h0M451.4 139.7h0M535.2 85.2h0M585.3 70.4h0M540.2 102.5h0M452.1 136.6h0M549.7 72.2h0M515.7 122.7h0M564.3 72.8h0M458.8 145.0h0M466.6 131.2h0M547.3 66.0h0M564.7 89.1h0M589.8 58.2h0M513.9 96.6h0M492.9 130.8h0M594.4 64.6h0M463.7 126.5h0M579.4 73.9h0M470.0 124.0h0M529.4 123.6h0M482.6 107.0h0M564.0 86.3h0M629.5 51.6h0M642.4 37.1h0M481.0 113.0h0M545.0 82.1h0M500.8 88.1h0M534.3 113.2h0M485.7 134.2h0M539.8 81.8h0M535.8 80.0h0M565.1 88.1h0M568.3 68.6h0M438.4 138.5h0M478.5 118.8h0M548.4 68.2h0M576.0 54.0h0M529.2 87.9h0M583.6 74.4h0M494.1 104.0h0M477.5 133.7h0M500.5 131.3h0M487.4 129.3h0M599.3 80.9h0M465.2 137.4h0M534.6 106.3h0M492.2 104.9h0M509.1 124.3h0M497.6 97.7h0M547.5 76.7h0M516.9 90.2h0M557.5 95.8h0M434.5 159.0h0M574.3 69.6h0M584.1 74.4h0M493.3 125.5h0M574.7 91.0h0M578.3 77.9h0M440.3 145.1h0M492.1 129.8h0M576.9 66.3h0M605.4 65.1h0M504.6 100.7h0M526.6 89.6h0M631.3 43.1h0M495.1 98.9h0M494.2 145.2h0M422.3 157.3h0M460.6 130.0h0M575.8 84.3h0M573.3 70.6h0M472.5 124.5h0M466.7 133.3h0M514.2 86.4h0M540.3 83.1h0M465.9 150.9h0M604.0 58.3h0M525.9 111.5h0M569.3 76.0h0M513.0 121.3h0M584.7 63.7h0M480.0 133.2h0M562.4 72.2h0M483.3 130.8h0M538.4 102.4h0M585.2 60.1h0M606.0 54.2h0M484.8 111.0h0M514.2 113.2h0M569.4 56.5h0M466.0 132.6h0M504.8 101.4h0M559.5 93.2h0M605.1 59.3h0M493.7 99.3h0M556.5 94.0h0M584.3 76.9h0M541.6 80.8h0M437.3 150.9h0M509.6 98.3h0M535.4 84.4h0M462.9 114.8h0M561.9 104.6h0M519.0 114.2h0M576.4 76.6h0M572.4 86.6h0M535.8 105.2h0M593.1 60.8h0M584.3 74.5h0M569.4 90.5h0M471.2 135.5h0M459.0 142.6h0M536.9 74.7h0M606.9 53.4h0M578.3 62.2h0M578.9 73.7h0M520.6 112.6h0M499.3 123.1h0M562.3 87.4h0M477.6 120.3h0M462.5 136.2h0M479.8 116.4h0M559.7 91.6h0M576.9 58.9h0M537.4 105.2h0M578.3 67.4h0M579.9 57.1h0M470.3 127.8h0M462.8 136.4h0M606.8 36.2h0M563.7 88.5h0M487.1 131.9h0M602.6 53.6h0M578.0 70.6h0M511.6 122.1h0M539.2 83.9h0M564.5 97.8h0M591.9 70.9h0M534.9 72.3h0M473.0 130.1h0M492.4 125.9h0M502.2 123.9h0M474.8 136.4h0M462.7 145.9h0M528.0 108.9h0M550.0 77.2h0M568.5 82.1h0M505.0 122.1h0M607.3 53.2h0M583.6 57.9h0M466.6 137.4h0M470.4 135.6h0M435.8 151.6h0M520.9 124.7h0M588.2 71.5h0M574.8 98.8h0M525.8 90.9h0M516.7 114.2h0M582.2 64.9h0M438.4 139.9h0M477.2 143.4h0M571.3 65.7h0M492.6 109.0h0M577.9 61.6h0M512.1 94.3h0M452.4 131.3h0M461.1 145.9h0M512.0 121.6h0M472.6 129.8h0M495.3 91.4h0M471.8 124.1h0M492.7 109.2h0M498.9 126.0h0M503.2 139.5h0M538.4 102.4h0M479.1 118.2h0M599.0 69.1h0M473.8 143.1h0M463.8 130.4h0M477.5 145.0h0M473.5 128.9h0M598.0 22.6h0M456.4 160.8h0M515.7 114.6h0M581.4 73.6h0M468.8 127.3h0M466.8 141.2h0M525.9 86.4h0M577.3 53.5h0M521.5 117.3h0M546.3 78.8h0M444.9 101.9h0M599.3 54.4h0M662.6 14.4h0M582.3 73.1h0M541.1 82.3h0M582.0 74.6h0M511.4 91.2h0M475.2 118.3h0M588.2 69.8h0M544.2 80.6h0M461.2 128.8h0M461.2 130.9h0M509.4 119.1h0M587.3 75.8h0M615.7 39.9h0M546.1 79.3h0M465.8 133.2h0M584.7 60.5h0M594.8 62.6h0M481.5 116.1h0M583.7 70.3h0M447.1 153.1h0M534.0 113.2h0M599.3 61.6h0M487.5 113.4h0M482.0 149.9h0M536.2 85.7h0M457.0 116.4h0M499.4 123.5h0M467.6 129.3h0M565.5 85.3h0M520.6 113.8h0M590.6 70.2h0M544.2 102.9h0M516.2 114.6h0M474.3 122.0h0M582.7 68.3h0M548.2 70.7h0M548.4 77.7h0M590.1 68.6h0M471.7 134.2h0M589.5 67.5h0M517.6 122.4h0M538.2 82.7h0M475.7 120.4h0M458.4 133.5h0M534.7 83.4h0M554.4 94.5h0M499.8 122.3h0M467.1 123.0h0M560.6 94.6h0M533.8 104.0h0M541.7 81.8h0M488.6 111.1h0M512.4 115.0h0M560.4 66.0h0M575.5 59.6h0M566.4 68.0h0M444.8 141.1h0M596.5 46.8h0M563.3 70.0h0M593.6 58.1h0M594.1 66.2h0M600.8 60.5h0M589.6 79.5h0M477.9 133.0h0M569.4 60.5h0M500.1 103.7h0M512.9 90.7h0M566.8 65.3h0M506.0 87.1h0M553.6 73.1h0M588.3 64.5h0M456.0 135.6h0M487.5 129.8h0M532.9 78.2h0M468.6 138.3h0M448.7 138.4h0M465.3 139.4h0M474.5 135.2h0M546.4 105.1h0M534.9 121.0h0M586.1 67.3h0M481.8 135.4h0M544.3 103.5h0M452.4 142.2h0M581.5 77.2h0M649.2 41.5h0M557.7 77.5h0M459.1 142.9h0M509.5 96.4h0M519.9 112.0h0M543.4 102.5h0M578.9 78.1h0M502.1 83.9h0M486.7 131.0h0M513.6 96.3h0M517.3 120.7h0M448.7 141.4h0M528.2 85.0h0M476.6 121.9h0M451.1 135.2h0M577.3 80.1h0M469.8 132.2h0M560.9 93.3h0M561.8 74.0h0M569.4 84.8h0M482.2 135.2h0M468.1 125.7h0M568.3 66.6h0M473.1 116.7h0M574.6 69.2h0M578.5 57.4h0M543.7 76.0h0M467.4 119.6h0M518.3 93.3h0M443.5 142.8h0M533.6 85.5h0M580.1 71.1h0M514.4 113.8h0M503.7 123.6h0M528.6 116.8h0M567.3 72.4h0M509.8 118.1h0M563.3 73.7h0M503.2 104.4h0M537.5 103.9h0M457.8 138.1h0M475.2 135.6h0M503.2 124.7h0M579.3 80.8h0M499.0 102.3h0M472.1 139.0h0M588.6 71.1h0M578.1 82.5h0M449.3 144.2h0M449.6 136.5h0M482.6 134.1h0M595.1 59.4h0M575.9 75.9h0M536.4 105.8h0M605.9 61.6h0M581.7 60.3h0M597.8 67.8h0M501.4 121.1h0M475.3 119.9h0M516.0 84.5h0M608.9 55.5h0M438.9 135.9h0M510.9 93.7h0M480.1 116.7h0M467.3 136.9h0M587.5 72.7h0M478.6 109.6h0M501.7 103.4h0M582.0 67.1h0M473.6 133.9h0M605.2 59.8h0M564.4 77.1h0M560.7 106.3h0M454.5 140.4h0M587.2 52.1h0M497.7 100.3h0M557.5 77.4h0M578.6 70.1h0M516.4 115.2h0M396.1 170.5h0M422.3 128.5h0M553.2 78.3h0M579.0 70.6h0M577.4 67.3h0M462.5 141.3h0M440.0 166.5h0M587.2 69.7h0M552.9 71.4h0M584.8 70.2h0M584.1 72.5h0M534.9 75.9h0M532.9 105.6h0M484.6 134.3h0M469.7 132.5h0M571.6 68.4h0M441.6 143.0h0M519.3 110.9h0M476.2 119.9h0M564.2 88.8h0M591.1 68.9h0M548.6 100.4h0M485.7 112.7h0M589.3 66.3h0M510.1 118.9h0M569.5 83.8h0M494.8 105.9h0M572.5 81.7h0M493.7 126.9h0M579.5 60.5h0M538.5 106.3h0M601.6 44.8h0M582.2 80.0h0M570.5 83.9h0M480.6 137.7h0M598.8 79.1h0M564.7 73.4h0M473.0 139.3h0M619.0 50.6h0M490.4 127.3h0M530.5 109.0h0M538.7 85.8h0M611.1 59.3h0M559.8 90.5h0M570.4 83.0h0M503.9 104.6h0M529.6 82.9h0M581.4 78.2h0M519.5 94.0h0M469.1 137.8h0M500.6 99.0h0M503.1 129.0h0M502.7 102.5h0M555.5 92.1h0M552.8 73.7h0M591.7 48.0h0M586.7 70.1h0M479.3 135.0h0M577.0 77.9h0M573.9 72.2h0M542.1 81.9h0M465.1 137.5h0M569.0 89.4h0M539.2 80.2h0M485.9 111.7h0M513.2 92.5h0M459.5 131.1h0M475.4 131.4h0M481.5 113.8h0M600.9 63.9h0M456.8 137.7h0M587.2 64.7h0M550.8 80.4h0M540.2 68.6h0M586.9 75.3h0M474.1 117.7h0M501.5 124.5h0M547.9 78.7h0M464.7 137.0h0M572.1 65.1h0M579.9 79.0h0M527.9 89.9h0M568.3 85.7h0M568.7 84.7h0M581.7 62.9h0M437.9 135.8h0M502.3 123.3h0M481.6 112.9h0M478.9 113.0h0M452.2 138.0h0M485.4 130.1h0M491.4 109.4h0M515.5 115.5h0M496.4 87.1h0M464.7 133.8h0M500.1 128.3h0M618.4 37.0h0M469.1 135.9h0M458.2 132.8h0M573.2 70.1h0M561.3 96.4h0M483.4 112.0h0M588.2 66.5h0M584.7 72.1h0M442.3 144.7h0M626.8 52.8h0M465.4 126.7h0M575.0 81.1h0M535.2 85.7h0M525.3 109.4h0M525.4 109.6h0M535.6 107.7h0M445.6 148.8h0M492.6 107.9h0M596.0 73.5h0M569.3 52.5h0M482.1 132.2h0M569.4 68.8h0M518.9 93.6h0M564.4 75.9h0M559.5 67.9h0M548.7 74.4h0M587.1 60.4h0M473.4 135.5h0M512.8 92.0h0M512.7 91.2h0M574.4 80.9h0M501.7 98.7h0M479.1 138.7h0M486.7 96.6h0M581.2 70.9h0M487.0 113.2h0M591.1 80.7h0M490.8 135.6h0M584.0 63.1h0M516.8 82.4h0M505.0 122.5h0M599.7 59.1h0M591.9 58.9h0M585.3 62.3h0M477.1 134.9h0M528.6 110.8h0M603.3 58.3h0M424.8 137.9h0M505.2 128.4h0M610.3 53.9h0M479.3 136.4h0M466.6 128.1h0M569.0 72.9h0M537.8 109.9h0M553.6 78.1h0M536.3 82.6h0M599.6 64.2h0M502.4 98.8h0M533.4 114.1h0M525.2 88.3h0M482.7 130.1h0M568.9 69.2h0M471.2 141.2h0M465.7 144.3h0M514.1 113.4h0M535.0 107.5h0M550.2 99.6h0M550.3 78.6h0M581.9 63.7h0M482.4 130.6h0M597.1 66.1h0M471.9 128.8h0M500.4 102.5h0M519.4 112.0h0M557.0 75.6h0M465.1 133.3h0M532.8 82.0h0M571.9 65.6h0M475.2 136.1h0M539.0 84.2h0M567.2 67.2h0M531.4 106.9h0M585.3 68.1h0M580.6 68.3h0M581.3 62.0h0M566.9 87.0h0M471.8 120.5h0M474.6 121.6h0M590.7 53.0h0M583.8 46.8h0M467.2 135.9h0M554.6 93.6h0M579.9 72.4h0M444.1 147.9h0M557.0 78.4h0M456.1 144.7h0M586.8 74.4h0M518.2 92.0h0M472.3 135.5h0M531.6 107.1h0M496.9 101.3h0M561.4 74.7h0M554.1 94.3h0M576.4 64.6h0M568.9 85.1h0M489.2 130.2h0M512.7 125.3h0M561.4 88.2h0M472.0 131.4h0M572.4 82.9h0M511.7 118.4h0M474.2 118.1h0M491.5 129.2h0M556.1 74.6h0M597.4 62.8h0M559.4 91.8h0M605.2 59.8h0M588.2 69.3h0M489.8 127.3h0M539.4 85.2h0M462.1 132.9h0M561.1 87.9h0M465.0 131.9h0M468.9 144.8h0M531.6 107.4h0M571.7 70.6h0M514.0 117.9h0M471.8 132.4h0M551.7 97.9h0M584.1 62.6h0M546.2 100.2h0M512.7 88.8h0M466.5 117.4h0M457.2 128.4h0M601.2 56.3h0M559.8 72.9h0M508.2 98.0h0M535.2 103.5h0M514.6 116.3h0M470.2 104.7h0M482.2 129.5h0M530.0 108.8h0M502.5 85.5h0M472.3 124.0h0M510.3 95.8h0M461.6 136.7h0M502.1 121.7h0M538.3 107.4h0M573.0 83.9h0M514.5 94.5h0M459.8 138.2h0M557.2 91.2h0M517.1 86.8h0M435.0 147.7h0M464.5 138.4h0M513.3 120.3h0M474.2 133.0h0M546.0 76.3h0M470.0 136.3h0M455.9 132.2h0M498.1 100.6h0M501.8 121.9h0M565.0 70.3h0M463.8 124.2h0M480.2 117.6h0M593.6 67.7h0M627.4 41.1h0M477.8 132.4h0M544.8 80.3h0M562.2 57.8h0M476.3 133.2h0M490.3 105.7h0M577.2 82.8h0M548.9 70.3h0M474.5 132.0h0M600.2 67.3h0M496.8 131.7h0M471.7 124.6h0M490.1 133.0h0M451.2 136.9h0M562.9 93.3h0M585.9 49.6h0M503.6 93.9h0M579.8 78.7h0M493.5 128.4h0M460.4 137.3h0M530.9 84.9h0M473.4 122.4h0M451.5 148.7h0M584.6 61.8h0M589.8 67.0h0M508.8 124.1h0M582.5 77.7h0M562.6 75.0h0M510.6 118.7h0M581.5 78.4h0M471.4 128.6h0M460.8 140.6h0M481.0 134.5h0M474.8 154.2h0M569.4 88.8h0M568.6 66.5h0M582.5 63.8h0M466.9 141.0h0M515.3 88.0h0M565.1 56.4h0M486.2 129.9h0M580.9 73.6h0M546.2 102.7h0M579.7 75.6h0M496.9 104.7h0M537.9 111.4h0M585.3 72.8h0M570.8 66.2h0M549.8 107.1h0M667.7 14.8h0M463.8 137.9h0M574.0 67.8h0M502.5 127.7h0M446.5 147.6h0M523.7 108.9h0M543.0 78.9h0M575.2 65.7h0M491.6 134.7h0M554.8 96.1h0M511.4 97.6h0M439.2 148.8h0M524.6 89.9h0M585.9 55.1h0M485.6 92.1h0M464.8 131.2h0M481.3 135.9h0M555.0 93.4h0M455.9 151.1h0M571.0 62.9h0M603.6 62.9h0M580.2 70.4h0M438.7 147.3h0M428.3 137.1h0M547.9 120.8h0M505.0 120.8h0M468.4 131.3h0M554.9 75.0h0M495.5 126.0h0M503.3 101.4h0M475.6 117.6h0M488.6 109.9h0M492.0 108.4h0M569.1 83.4h0M440.9 137.0h0M465.1 124.0h0M508.5 99.8h0M523.0 88.7h0M494.2 107.4h0M588.7 73.2h0M474.9 134.8h0M630.5 33.2h0M540.4 105.3h0M500.4 130.7h0M541.8 81.5h0M576.9 81.7h0M501.0 127.6h0M503.5 97.3h0M473.3 135.4h0M468.9 136.0h0M567.4 89.3h0M491.8 128.3h0M587.0 61.0h0M558.9 74.5h0M458.2 145.9h0M588.5 67.4h0M578.3 59.0h0M461.2 139.6h0M586.6 69.7h0M515.0 122.8h0M465.8 133.4h0M533.7 110.9h0M561.8 93.4h0M547.6 79.8h0M596.4 64.1h0M467.1 143.5h0M506.3 119.6h0M618.0 47.3h0M529.2 111.0h0M483.5 131.2h0M564.1 87.3h0M467.1 136.7h0M556.2 75.8h0M478.0 137.8h0M519.2 90.6h0M532.9 85.4h0M575.7 104.3h0M533.3 85.9h0M508.0 127.3h0M430.5 139.9h0M576.6 62.9h0M492.9 94.7h0M617.3 50.9h0M491.6 101.8h0M539.6 83.5h0M558.6 99.1h0M473.5 117.2h0M515.6 115.7h0M520.1 115.8h0M454.1 146.1h0M515.0 95.4h0M502.8 123.0h0M476.1 121.8h0M599.1 56.3h0M527.3 111.1h0M502.5 102.2h0M580.6 58.1h0M536.0 113.7h0M596.9 49.6h0M575.3 66.9h0M404.7 158.0h0M551.9 97.1h0M579.2 76.5h0M522.8 111.2h0M478.9 119.3h0M614.7 55.4h0M551.3 79.9h0M489.7 110.9h0M469.4 131.8h0M501.5 122.9h0M588.2 73.8h0M607.8 34.5h0M508.0 92.9h0M565.8 72.7h0M481.3 136.4h0M570.8 71.2h0M532.6 108.3h0M496.7 104.9h0M455.4 130.7h0M567.1 85.4h0M594.7 52.6h0M463.3 142.3h0M452.2 133.0h0M454.4 136.1h0M557.8 80.4h0M452.9 127.3h0M560.3 74.3h0M519.8 113.6h0M608.6 66.4h0M519.6 90.3h0M490.5 127.2h0M496.9 127.1h0M467.7 134.6h0M525.2 78.6h0M585.8 64.1h0M456.4 133.0h0M490.1 146.6h0M522.0 111.0h0M510.0 119.8h0M501.3 126.2h0M562.0 70.2h0M569.6 71.3h0M455.8 139.4h0M582.0 54.6h0M477.8 119.4h0M469.5 136.0h0M501.7 122.6h0M574.8 84.7h0M562.8 75.9h0M550.1 77.2h0M536.5 105.9h0M487.8 84.4h0M480.8 114.6h0M514.9 112.5h0M564.0 90.8h0M577.4 66.9h0M501.8 125.4h0M547.8 104.9h0M520.2 113.8h0M590.5 41.1h0M514.3 112.7h0M496.3 104.9h0M474.2 116.5h0M475.8 135.5h0M535.9 84.3h0M578.3 70.6h0M565.6 88.7h0M598.7 46.1h0M451.7 135.8h0M470.2 124.9h0M578.3 75.4h0M553.0 98.8h0M568.3 86.0h0M616.9 46.8h0M568.5 67.2h0M484.7 142.8h0M560.3 93.2h0M553.4 76.9h0M453.4 145.0h0M472.7 124.1h0M539.3 104.4h0M532.2 104.3h0M509.1 95.5h0M499.4 122.3h0M571.9 84.4h0M505.2 96.8h0M564.4 93.1h0M481.7 131.0h0M571.9 66.9h0M570.1 76.2h0M573.8 81.6h0M451.2 141.4h0M444.5 138.0h0M558.6 105.8h0M468.1 143.3h0M540.6 78.9h0M464.0 120.1h0M516.8 119.6h0M503.1 103.5h0M484.6 109.1h0M515.6 93.5h0M513.5 121.1h0M572.3 69.3h0M556.6 78.1h0M498.4 95.5h0M472.3 127.1h0M557.4 80.4h0M583.3 70.7h0M468.8 130.0h0M478.9 133.4h0M458.2 142.0h0M655.2 32.3h0M481.3 108.8h0M487.9 113.0h0M552.4 62.2h0M546.1 100.8h0M569.6 93.7h0M524.9 88.0h0M510.9 97.1h0M459.5 138.0h0M511.0 115.9h0M515.9 118.8h0M478.2 109.1h0M576.5 59.8h0M518.7 114.2h0M513.6 96.7h0M585.2 62.6h0M587.0 65.7h0M459.3 129.3h0M548.5 79.0h0M588.0 70.4h0M581.7 76.3h0M466.2 127.7h0M493.4 104.8h0M497.5 96.5h0M472.2 116.6h0M556.0 92.4h0M580.5 72.0h0M583.4 70.7h0M513.7 127.4h0M502.4 124.0h0M539.2 81.0h0M608.1 57.1h0M566.7 70.2h0M505.9 133.2h0M598.2 59.2h0M456.7 143.2h0M568.1 71.6h0M513.5 96.2h0M467.2 130.5h0M487.4 135.1h0M546.4 75.2h0M475.6 121.4h0M563.2 59.4h0M509.1 119.1h0M613.5 63.9h0M554.3 75.9h0M511.4 132.0h0M551.4 79.3h0M470.2 128.2h0M464.8 138.9h0M465.9 119.2h0M536.8 102.8h0M503.1 130.0h0M494.1 105.1h0M462.7 125.2h0M553.4 76.7h0M593.7 59.0h0M531.3 109.3h0M493.7 129.2h0M487.2 110.5h0M531.3 110.6h0M446.3 147.4h0M605.0 47.5h0M599.7 68.5h0M557.8 91.7h0M469.4 120.7h0M491.9 108.8h0M476.9 133.8h0M488.9 134.9h0M532.3 64.0h0M458.5 130.9h0M522.0 90.8h0M481.1 115.9h0M572.1 80.1h0M581.2 59.3h0M584.1 74.0h0M554.7 98.0h0M605.0 58.6h0M507.2 124.9h0M514.9 118.8h0M510.1 127.8h0M549.6 97.5h0M582.0 66.2h0M572.0 66.0h0M559.7 97.1h0M579.6 61.5h0M479.8 118.0h0M579.5 63.6h0M505.9 120.0h0M479.9 147.5h0M563.9 73.5h0M487.1 135.4h0M503.7 100.0h0M495.0 101.9h0M500.9 103.3h0M492.9 103.9h0M553.8 69.0h0M548.1 98.0h0M588.3 61.0h0M525.1 123.3h0M504.6 121.7h0M467.7 141.8h0M462.3 130.2h0M457.3 141.3h0M596.2 60.9h0M564.0 74.0h0M525.9 83.3h0M513.0 123.7h0M597.0 62.5h0M503.8 125.3h0M541.9 107.6h0M563.1 74.1h0M587.8 65.6h0M581.7 64.9h0M525.3 89.9h0M499.1 128.6h0M476.5 137.0h0M578.8 63.4h0M538.0 102.4h0M514.2 92.3h0M618.2 62.2h0M445.0 137.1h0M460.7 154.8h0M448.0 141.1h0M628.8 32.1h0M522.7 112.0h0M441.9 145.2h0M453.9 140.6h0M528.9 112.9h0M596.0 54.8h0M517.7 112.1h0M463.2 135.8h0M470.4 130.3h0M526.1 90.5h0M570.3 77.6h0M505.9 99.0h0M491.0 131.3h0M517.3 112.8h0M553.6 98.5h0M476.0 136.6h0M509.9 98.9h0M570.0 70.4h0M581.8 76.7h0M436.1 155.5h0M468.0 137.2h0M542.2 74.6h0M592.9 61.6h0M450.9 141.0h0M580.8 66.6h0M473.0 139.8h0M536.2 104.7h0M498.6 125.3h0M511.6 122.9h0M447.9 138.1h0M504.3 92.4h0M588.6 72.6h0M447.0 136.3h0M618.3 51.0h0M564.8 70.8h0M569.6 70.9h0M572.6 83.4h0M598.8 63.2h0M499.2 101.0h0M554.9 75.7h0M449.4 157.3h0M543.0 66.9h0M560.5 64.1h0M604.9 65.3h0M579.1 79.9h0M521.0 89.6h0M524.8 71.2h0M495.2 104.8h0M460.3 139.1h0M560.3 89.4h0M467.7 128.3h0M488.9 127.8h0M464.5 133.7h0M608.9 56.8h0M549.1 97.0h0M509.4 124.0h0M582.0 75.3h0M504.9 91.0h0M453.1 150.5h0M594.6 65.8h0M486.3 130.8h0M503.5 135.3h0M569.6 69.6h0M463.2 133.9h0M528.3 83.5h0M592.4 80.7h0M482.9 115.9h0M540.0 79.8h0M456.0 149.5h0M456.9 130.4h0M489.8 99.8h0M563.0 107.0h0M460.2 136.3h0M549.4 54.9h0M616.1 51.5h0M441.5 126.3h0M573.9 88.0h0M502.1 96.1h0M574.4 83.6h0M560.0 64.7h0M522.4 87.5h0M582.2 54.3h0M532.6 120.2h0M495.2 130.3h0M529.9 112.9h0M532.7 81.6h0M586.9 69.9h0M478.3 118.7h0M492.7 107.2h0M518.9 112.3h0M459.4 136.8h0M503.7 101.3h0M556.4 91.7h0M496.8 89.4h0M464.0 138.3h0M596.8 64.9h0M555.4 80.8h0M471.7 123.2h0M490.6 133.4h0M551.0 79.8h0M460.9 136.2h0M587.8 61.3h0M598.7 50.3h0M515.4 86.1h0M460.0 143.0h0M486.0 138.1h0M466.8 124.3h0M504.9 122.8h0M514.6 117.4h0M493.0 126.2h0M466.5 140.9h0M527.0 89.2h0M470.6 117.1h0M448.1 147.7h0M456.3 140.9h0M435.6 135.7h0M504.9 121.1h0M542.9 109.9h0M522.0 124.5h0M541.6 79.3h0M596.3 69.0h0M568.5 72.1h0M571.8 85.7h0M553.0 95.4h0M555.2 74.3h0M460.0 134.9h0M575.6 64.0h0M586.5 58.8h0M461.7 139.0h0M550.7 76.8h0M425.1 146.8h0M505.8 121.9h0M467.4 124.2h0M465.0 136.1h0M577.4 80.0h0M455.4 129.6h0M604.2 57.2h0M494.3 134.5h0M584.1 70.4h0M524.5 109.6h0M541.4 102.2h0M540.8 60.9h0M630.3 42.2h0M572.8 69.8h0M506.7 88.6h0M543.0 103.4h0M531.8 85.6h0M468.2 136.0h0M590.1 55.2h0M577.2 59.3h0M588.0 74.7h0M481.6 132.7h0M491.2 108.1h0M517.5 93.0h0M524.6 116.7h0M432.1 157.3h0M559.5 91.2h0M476.0 110.9h0M475.2 138.4h0M457.1 131.7h0M469.7 128.4h0M494.6 130.4h0M516.3 93.8h0M466.3 124.7h0M583.8 63.5h0M581.5 81.2h0M453.3 128.1h0M605.6 60.1h0M502.8 123.6h0M487.4 104.6h0M441.1 137.2h0M474.9 134.8h0M542.1 76.5h0M541.1 105.5h0M510.3 97.4h0M527.8 109.9h0M509.9 94.8h0M512.0 118.0h0M456.8 140.2h0M473.9 104.4h0M502.6 93.9h0M589.1 60.4h0M509.7 98.5h0M461.8 124.1h0M471.8 127.4h0M555.0 75.9h0M590.9 63.7h0M605.7 49.7h0M486.2 112.5h0M596.2 65.2h0M501.4 125.1h0M512.8 98.0h0M571.5 62.3h0M457.7 136.2h0M602.5 59.9h0M584.7 83.3h0M528.9 109.7h0M559.1 75.5h0M520.4 92.5h0M565.5 66.8h0M560.0 75.2h0M555.0 102.2h0M468.8 123.7h0M564.4 90.1h0M588.5 83.6h0M467.7 124.9h0M476.6 111.0h0M533.6 103.2h0M598.9 69.1h0M447.7 145.8h0M614.2 53.1h0M558.7 75.4h0M519.1 110.6h0M543.1 104.0h0M475.7 107.7h0M530.4 110.0h0M571.8 68.6h0M579.8 67.7h0M568.8 88.3h0M522.0 90.7h0M450.9 142.6h0M564.9 73.7h0M600.6 57.6h0M463.9 132.6h0M475.3 131.5h0M465.4 140.2h0M570.8 69.1h0M490.7 128.5h0M455.4 141.0h0M598.8 70.8h0M581.7 60.7h0M596.9 63.9h0M602.9 66.4h0M479.2 110.4h0M567.7 68.9h0M572.6 70.5h0M575.1 77.9h0M497.9 102.1h0M582.3 57.8h0M452.9 140.7h0M587.2 71.2h0M470.2 136.8h0M540.6 82.8h0M607.0 46.1h0M562.6 73.8h0M525.1 77.0h0M420.7 137.3h0M551.4 77.3h0M474.0 115.1h0M616.8 52.9h0M523.0 87.6h0M553.9 80.0h0M465.5 151.2h0M550.2 97.1h0M476.9 134.5h0M556.7 64.3h0M461.8 127.0h0M455.1 143.0h0M426.2 150.4h0M587.8 59.1h0M562.0 92.4h0M519.8 91.9h0M507.7 99.9h0M559.7 99.4h0M595.0 59.8h0M562.5 65.1h0M614.0 45.4h0M567.1 71.4h0M514.2 93.6h0M474.9 122.3h0M520.3 91.1h0M462.8 126.7h0M563.9 66.7h0M469.1 141.6h0M569.6 76.5h0M599.6 56.8h0M589.0 60.8h0M535.8 81.6h0M570.8 77.3h0M472.7 123.2h0M581.7 74.2h0M541.9 77.7h0M512.6 117.7h0M514.1 91.3h0M538.1 82.9h0M505.9 99.4h0M438.1 147.1h0M517.8 112.7h0M494.9 103.3h0M493.6 128.2h0M461.3 130.3h0M520.6 90.7h0M528.0 87.1h0M485.5 133.6h0M462.2 135.4h0M531.6 85.3h0M437.7 146.9h0M483.3 111.0h0M481.0 132.3h0M506.5 121.7h0M518.5 113.8h0M516.6 93.4h0M584.3 62.7h0M420.0 158.6h0M557.9 93.3h0M516.6 85.1h0M463.8 133.4h0M517.4 119.7h0M594.9 63.7h0M511.5 118.9h0M563.1 76.7h0M421.0 156.5h0M581.6 77.1h0M499.3 135.9h0M572.8 83.6h0M570.9 76.9h0M465.7 131.9h0M583.2 59.8h0M478.5 117.3h0M536.5 85.2h0M541.2 78.1h0M441.2 158.2h0M486.5 101.2h0M505.0 98.8h0M594.8 74.6h0M581.1 70.9h0M554.8 96.1h0M539.9 107.6h0M488.4 106.1h0M533.0 107.5h0M511.3 114.5h0M534.3 104.0h0M506.3 119.2h0M467.9 125.4h0M493.3 127.0h0M566.8 66.2h0M544.6 102.6h0M478.7 115.8h0M494.7 106.8h0M431.7 146.7h0M527.8 80.1h0M536.7 102.5h0M463.4 130.9h0M593.4 68.5h0M545.1 101.4h0M592.1 57.4h0M566.3 62.5h0M452.2 137.3h0M513.4 122.9h0M478.4 119.4h0M472.4 136.9h0M469.9 137.8h0M471.1 131.3h0M485.3 110.2h0M487.5 147.8h0M526.8 125.3h0M508.2 99.8h0M508.4 94.6h0M500.1 97.1h0M523.2 89.2h0M573.2 63.7h0M586.2 71.0h0M535.1 102.5h0M462.6 131.2h0M568.1 68.2h0M446.4 137.9h0M486.6 109.6h0M561.8 93.8h0M545.1 79.7h0M597.3 58.0h0M498.9 124.3h0M521.5 90.1h0M575.3 65.8h0M530.0 84.0h0M473.7 132.6h0M485.4 106.8h0M471.8 131.1h0M475.0 116.8h0M491.3 109.4h0M454.9 141.6h0M514.5 116.1h0M536.6 102.5h0M499.1 102.6h0M569.7 96.7h0M608.6 59.1h0M491.1 127.2h0M499.5 130.1h0M453.5 152.2h0M580.0 78.5h0M523.6 115.0h0M597.2 58.1h0M457.3 144.7h0M541.9 103.6h0M490.4 127.9h0M458.5 136.8h0M558.7 70.7h0M470.9 127.6h0M532.6 105.5h0M487.4 132.4h0M498.9 123.5h0M548.0 100.0h0M605.3 60.5h0M509.5 89.1h0M462.4 117.1h0M464.4 131.2h0M572.7 81.7h0M517.8 95.4h0M471.9 128.2h0M556.6 92.8h0M559.6 95.2h0M492.3 104.8h0M483.7 112.4h0M575.4 64.5h0M498.2 102.4h0M586.8 68.6h0M568.3 68.9h0M482.7 113.3h0M585.5 75.3h0M515.1 123.0h0M496.0 129.2h0M463.0 124.7h0M476.3 140.7h0M510.1 118.6h0M512.1 116.1h0M542.5 82.9h0M558.6 89.7h0M483.5 131.7h0M570.8 66.8h0M581.1 80.3h0M524.6 90.8h0M461.7 131.9h0M599.6 56.1h0M507.5 96.9h0M502.3 77.8h0M462.1 144.0h0M552.7 111.6h0M583.3 63.6h0M503.3 101.6h0M493.8 104.9h0M475.8 146.3h0M490.7 133.4h0M424.8 138.7h0M552.3 69.1h0M473.2 104.9h0M539.9 68.6h0M456.8 142.8h0M598.3 66.3h0M561.2 87.4h0M461.7 139.9h0M458.2 137.7h0M514.2 91.5h0M642.6 29.0h0M470.1 128.6h0M646.0 18.7h0M567.8 91.7h0M623.6 40.2h0M460.0 101.4h0M456.7 140.2h0M542.8 111.7h0M565.1 86.4h0M468.1 124.5h0M532.8 105.2h0M597.4 58.2h0M520.6 123.4h0M602.7 62.9h0M482.7 132.0h0M458.8 141.6h0M566.1 92.1h0M482.1 115.3h0M511.9 123.8h0M573.8 112.7h0M585.8 57.1h0M491.4 126.8h0M467.1 126.3h0M577.6 61.9h0M570.8 65.1h0M566.2 89.4h0M534.2 74.0h0M495.0 125.7h0M569.6 67.5h0M543.4 82.9h0M456.7 140.3h0M644.2 33.7h0M564.4 87.1h0M522.6 120.7h0M593.1 66.1h0M453.0 133.9h0M505.9 131.5h0M553.4 66.8h0M457.0 132.8h0M492.4 125.0h0M604.2 52.2h0M584.3 68.9h0M520.9 92.8h0M566.4 87.8h0M562.6 107.4h0M520.5 117.9h0M606.8 61.5h0M549.4 98.1h0M523.4 109.3h0M472.4 132.6h0M560.2 97.3h0M477.3 132.3h0M451.1 135.2h0M521.3 112.7h0M481.2 134.8h0M417.8 156.3h0M588.3 78.8h0M602.9 55.9h0M558.7 95.8h0M456.8 125.6h0M586.3 61.7h0M535.2 102.3h0M533.4 103.2h0M488.4 110.7h0M445.4 141.4h0M548.9 75.5h0M466.6 121.9h0M561.8 88.5h0M597.9 72.4h0M569.1 90.1h0M565.9 105.7h0M566.8 68.8h0M583.8 64.4h0M562.5 94.4h0M506.2 93.3h0M584.9 69.4h0M560.3 92.7h0M466.2 146.9h0M608.8 71.0h0M448.8 139.8h0M488.2 102.1h0M570.5 63.4h0M595.2 63.4h0M576.9 79.8h0M586.6 82.2h0M592.7 65.0h0M567.8 68.8h0M461.2 130.4h0M488.9 114.0h0M481.3 110.0h0M471.0 127.6h0M578.4 82.5h0M485.1 109.3h0M492.9 130.3h0M540.5 103.4h0M501.8 120.1h0M561.9 89.9h0M604.2 56.0h0M530.8 86.6h0M474.1 131.5h0M460.6 135.3h0M527.0 113.2h0M598.0 55.2h0M481.3 129.8h0M529.6 86.8h0M521.6 90.5h0M479.4 136.0h0M532.0 86.7h0M460.6 135.4h0M550.9 80.1h0M555.8 102.3h0M551.7 96.4h0M533.8 104.5h0M577.8 61.5h0M579.1 77.1h0M504.9 125.3h0M578.8 65.4h0M511.4 115.4h0M620.8 53.5h0M493.7 107.5h0M594.6 64.9h0M596.7 63.3h0M522.7 87.4h0M536.5 106.2h0M535.0 83.1h0M513.0 96.1h0M468.3 134.3h0M544.2 80.7h0M544.9 103.6h0M595.3 65.1h0M564.7 86.7h0M561.9 93.4h0M496.8 85.0h0M469.8 120.0h0M562.3 54.9h0M530.3 85.5h0M614.9 55.4h0M566.1 99.2h0M473.3 124.0h0M516.7 94.8h0M491.7 134.1h0M578.0 62.4h0M594.2 63.3h0M573.7 64.0h0M540.6 83.9h0M598.4 78.7h0M527.4 113.4h0M435.4 139.5h0M476.2 117.3h0M595.5 64.4h0M501.8 86.5h0M536.3 83.4h0M463.3 126.9h0M564.5 61.3h0M545.5 79.6h0M594.5 60.3h0M475.7 137.1h0M492.5 96.2h0M502.7 120.7h0M468.1 118.7h0M505.8 98.4h0M483.6 138.7h0M566.8 96.4h0M550.7 115.3h0M463.2 139.3h0M494.4 136.6h0M553.4 112.9h0M576.5 82.3h0M472.8 133.9h0M468.8 126.1h0M534.4 82.5h0M444.3 152.3h0M587.8 74.6h0M472.8 128.8h0M554.6 73.5h0M541.6 102.5h0M577.9 72.2h0M488.8 128.7h0M506.3 120.5h0M491.1 134.4h0M498.8 92.4h0M472.6 118.9h0M452.5 156.0h0M574.9 83.5h0M616.6 50.9h0M530.1 85.6h0M555.2 76.3h0M476.6 134.6h0M583.5 67.9h0M514.3 118.0h0M555.5 57.0h0M508.8 138.8h0M505.7 95.6h0M561.7 93.6h0M488.5 128.6h0M503.0 73.0h0M456.7 117.4h0M489.1 138.3h0M438.7 136.7h0M504.5 95.9h0M454.7 152.8h0M539.1 103.4h0M479.1 118.5h0M477.3 160.9h0M530.4 109.8h0M503.1 124.4h0M586.4 74.6h0M469.0 120.5h0M564.7 69.2h0M598.4 61.3h0M555.9 77.9h0M468.0 136.8h0M471.8 120.7h0M560.4 89.3h0M498.2 99.6h0M522.1 91.3h0M580.8 51.5h0M532.4 61.4h0M563.0 86.9h0M497.0 91.6h0M593.5 57.1h0M458.6 130.2h0M511.8 115.1h0M460.9 127.8h0M575.8 67.6h0M469.7 119.8h0M502.8 96.0h0M576.0 67.7h0M564.7 93.0h0M576.3 80.9h0M429.0 148.5h0M565.7 89.2h0M401.8 153.0h0M480.4 118.0h0M564.4 63.6h0M462.3 122.8h0M501.1 146.2h0M521.6 90.1h0" stroke="#62a7f9" stroke-width="1.7" stroke-linecap="round" fill="none"/>
</g>
<rect x="397.5" y="6.2" width="286.0" height="172.3" fill="none" stroke="#9a9a9a" stroke-width="1.4"/>
<path d="M420.50 178.5v2.5M468.40 178.5v2.5M516.30 178.5v2.5M564.20 178.5v2.5M612.10 178.5v2.5M660.00 178.5v2.5M397.5 164.00h-2.5M397.5 135.30h-2.5M397.5 106.60h-2.5M397.5 77.90h-2.5M397.5 49.20h-2.5M397.5 20.50h-2.5" stroke="#555" stroke-width="0.9"/>
<text x="420.50" y="190.60" transform="scale(1.0,1)" font-size="12" font-family="&quot;Liberation Serif&quot;, serif" font-weight="bold" text-anchor="middle">−0.02</text>
<text x="468.40" y="190.60" transform="scale(1.0,1)" font-size="12" font-family="&quot;Liberation Serif&quot;, serif" font-weight="bold" text-anchor="middle">−0.01</text>
<text x="516.30" y="190.60" transform="scale(1.0,1)" font-size="12" font-family="&quot;Liberation Serif&quot;, serif" font-weight="bold" text-anchor="middle">0.00</text>
<text x="564.20" y="190.60" transform="scale(1.0,1)" font-size="12" font-family="&quot;Liberation Serif&quot;, serif" font-weight="bold" text-anchor="middle">0.01</text>
<text x="612.10" y="190.60" transform="scale(1.0,1)" font-size="12" font-family="&quot;Liberation Serif&quot;, serif" font-weight="bold" text-anchor="middle">0.02</text>
<text x="660.00" y="190.60" transform="scale(1.0,1)" font-size="12" font-family="&quot;Liberation Serif&quot;, serif" font-weight="bold" text-anchor="middle">0.03</text>
<text x="392.50" y="168.10" transform="scale(1.0,1)" font-size="12" font-family="&quot;Liberation Serif&quot;, serif" font-weight="bold" text-anchor="end">−0.02</text>
<text x="392.50" y="139.40" transform="scale(1.0,1)" font-size="12" font-family="&quot;Liberation Serif&quot;, serif" font-weight="bold" text-anchor="end">−0.01</text>
<text x="392.50" y="110.70" transform="scale(1.0,1)" font-size="12" font-family="&quot;Liberation Serif&quot;, serif" font-weight="bold" text-anchor="end">0.00</text>
<text x="392.50" y="82.00" transform="scale(1.0,1)" font-size="12" font-family="&quot;Liberation Serif&quot;, serif" font-weight="bold" text-anchor="end">0.01</text>
<text x="392.50" y="53.30" transform="scale(1.0,1)" font-size="12" font-family="&quot;Liberation Serif&quot;, serif" font-weight="bold" text-anchor="end">0.02</text>
<text x="392.50" y="24.60" transform="scale(1.0,1)" font-size="12" font-family="&quot;Liberation Serif&quot;, serif" font-weight="bold" text-anchor="end">0.03</text>
<clipPath id="cc"><rect x="44.9" y="193.5" width="284.6" height="172.3"/></clipPath>
<path d="M44.90 193.5V365.8M88.70 193.5V365.8M132.50 193.5V365.8M176.30 193.5V365.8M220.10 193.5V365.8M263.90 193.5V365.8M307.70 193.5V365.8M44.9 366.00H329.5M44.9 339.40H329.5M44.9 312.80H329.5M44.9 286.20H329.5M44.9 259.60H329.5M44.9 233.00H329.5M92.5 206.40H329.5" stroke="#d0d0d0" stroke-width="0.8" stroke-dasharray="1.6 1.1" fill="none"/>
<g clip-path="url(#cc)">
<line x1="-4291.30" y1="2990.09" x2="4468.70" y2="-2329.91" stroke="#c0c0c0" stroke-width="0.8"/>
<line x1="-4291.30" y1="3008.71" x2="4468.70" y2="-2311.29" stroke="#c0c0c0" stroke-width="0.8"/>
<line x1="-4291.30" y1="2999.40" x2="4468.70" y2="-2320.60" stroke="#a0a0a0" stroke-width="0.9"/>
<path d="M79.8 360.3h0M188.0 305.0h0M110.6 309.7h0M96.6 303.3h0M80.2 358.3h0M154.9 284.3h0M166.2 328.3h0M194.8 316.7h0M189.8 291.4h0M277.0 239.8h0M110.3 290.1h0M167.9 311.9h0M232.5 261.6h0M220.0 265.7h0M188.5 305.8h0M151.3 284.3h0M101.0 310.3h0M208.6 286.0h0M190.8 300.7h0M43.5 349.6h0M163.6 315.5h0M191.4 313.5h0M91.9 319.9h0M143.6 296.5h0M70.4 353.1h0M202.5 280.7h0M202.4 324.8h0M72.7 327.9h0M193.9 281.3h0M94.4 305.7h0M43.7 352.7h0M106.4 302.1h0M135.8 298.9h0M110.4 353.0h0M98.4 347.7h0M269.6 248.9h0M173.3 302.0h0M43.1 345.4h0M166.6 286.6h0M88.8 316.1h0M222.0 280.7h0M79.9 307.4h0M125.9 284.2h0M199.6 263.2h0M149.3 329.3h0M106.4 312.2h0M167.6 287.6h0M156.9 331.0h0M86.7 319.8h0M132.0 332.7h0M73.9 351.6h0M141.4 342.4h0M85.1 320.5h0M78.1 301.1h0M120.2 282.3h0M99.3 298.4h0M45.7 346.8h0M122.9 330.2h0M211.3 261.5h0M158.8 288.9h0M124.1 300.4h0M227.8 252.2h0M194.7 301.9h0M145.8 327.4h0M74.8 324.8h0M129.7 287.8h0M164.0 329.8h0M149.0 331.1h0M164.9 323.6h0M95.2 346.0h0M157.4 292.8h0M176.3 313.2h0M193.1 266.7h0M122.0 294.8h0M193.1 295.1h0M88.4 301.6h0M80.4 354.2h0M102.1 348.4h0M143.2 294.2h0M222.9 272.8h0M300.2 242.5h0M58.5 338.9h0M89.2 350.8h0M131.7 301.6h0M50.3 359.5h0M68.9 332.3h0M99.1 314.5h0M161.4 276.8h0M214.7 278.2h0M145.9 300.2h0M137.8 335.2h0M174.5 304.7h0M149.7 326.8h0M127.6 301.4h0M122.4 330.9h0M199.3 289.6h0M200.8 264.3h0M122.5 295.0h0M138.5 281.8h0M125.1 300.3h0M216.2 277.4h0M150.0 287.6h0M124.2 340.0h0M174.5 257.5h0M104.0 346.1h0M120.3 302.5h0M229.5 253.7h0M79.7 322.0h0M69.7 357.1h0M82.6 352.0h0M98.8 312.8h0M150.1 267.8h0M211.0 293.4h0M134.0 298.8h0M155.2 292.5h0M85.0 319.4h0M44.9 346.4h0M212.7 283.9h0M127.9 338.2h0M78.5 350.6h0M160.0 329.9h0M118.9 338.1h0M108.8 347.5h0M108.7 304.4h0M147.8 290.7h0M152.1 270.1h0M171.5 284.9h0M221.2 271.3h0M119.6 338.2h0M160.0 314.5h0M107.9 342.1h0M202.2 285.4h0M314.2 230.7h0M204.9 300.8h0M97.5 350.6h0M107.0 309.4h0M62.3 331.4h0M133.6 333.6h0M121.7 348.5h0M156.0 216.6h0M74.1 330.0h0M73.9 352.3h0M200.1 297.1h0M148.4 288.0h0M142.0 295.3h0M190.0 294.8h0M120.3 303.5h0M196.6 284.2h0M142.7 329.5h0M84.0 351.1h0M171.8 283.8h0M177.7 327.7h0M243.8 250.8h0M220.1 293.2h0M155.4 315.6h0M257.8 248.4h0M178.1 279.4h0M165.0 282.7h0M126.4 283.8h0M189.5 309.9h0M43.7 356.7h0M163.1 290.0h0M101.5 342.7h0M75.4 324.2h0M121.4 278.6h0M137.2 294.1h0M192.7 272.6h0M175.0 308.6h0M185.0 286.1h0M71.1 331.9h0M193.0 278.1h0M96.3 312.3h0M171.5 265.7h0M175.4 304.7h0M206.4 291.0h0M71.1 333.7h0M188.2 300.9h0M132.1 299.1h0M187.5 294.4h0M115.3 337.3h0M56.4 336.7h0M94.5 309.0h0M159.5 315.6h0M145.9 290.0h0M124.1 299.2h0M141.2 333.1h0M166.7 318.6h0M146.0 294.3h0M102.3 351.7h0M207.4 272.6h0M146.8 323.3h0M81.6 349.2h0M97.5 311.2h0M194.3 220.5h0M219.9 257.6h0M151.9 318.3h0M224.4 252.7h0M188.5 298.4h0M98.2 349.2h0M188.4 299.3h0M157.6 315.8h0M169.1 276.4h0M71.6 333.5h0M98.0 344.1h0M173.2 312.1h0M102.5 348.8h0M173.4 286.9h0M152.4 318.7h0M74.3 354.4h0M180.2 309.6h0M43.9 355.7h0M182.3 288.8h0M140.6 330.5h0M211.7 268.6h0M147.1 325.5h0M220.4 263.1h0M52.1 359.9h0M126.5 342.8h0M158.4 286.0h0M152.5 324.3h0M205.2 275.5h0M116.4 294.5h0M130.7 296.1h0M145.1 328.1h0M116.6 339.7h0M203.2 272.8h0M108.7 341.7h0M151.9 284.5h0M86.2 318.8h0M58.8 340.8h0M141.9 272.9h0M184.5 286.7h0M54.8 341.7h0M92.6 317.8h0M45.8 344.4h0M140.9 294.9h0M178.3 299.7h0M167.3 288.4h0M155.8 333.8h0M121.5 305.0h0M158.4 327.5h0M173.4 304.2h0M209.5 253.6h0M137.1 292.0h0M59.5 337.7h0M85.6 322.9h0M43.8 353.9h0M128.5 293.1h0M128.6 335.8h0M140.2 329.8h0M132.9 349.7h0M164.8 308.1h0M209.1 277.5h0M203.7 286.2h0M185.0 241.9h0M180.3 300.3h0M192.2 283.7h0M115.9 302.2h0M124.2 300.1h0M174.3 304.9h0M58.4 356.7h0M90.0 315.9h0M147.6 292.5h0M93.2 318.5h0M189.5 300.2h0M156.8 288.7h0M169.3 252.8h0M161.5 322.3h0M95.7 345.3h0M194.4 294.3h0M136.4 346.4h0M173.1 281.8h0M81.8 323.6h0M188.6 309.0h0M158.6 294.7h0M158.8 281.5h0M161.8 316.0h0M134.3 337.0h0M116.3 339.1h0M43.0 357.4h0M172.5 304.7h0M176.6 309.2h0M146.2 294.5h0M89.5 318.8h0M131.8 286.6h0M93.4 309.3h0M59.8 339.4h0M92.9 347.3h0M196.2 292.2h0M159.6 289.7h0M92.9 348.5h0M196.3 274.1h0M144.7 296.5h0M65.1 337.6h0M165.6 291.9h0M221.6 248.6h0M137.6 333.7h0M112.2 304.5h0M111.6 341.3h0M124.6 300.1h0M158.8 283.7h0M204.6 289.6h0M96.1 343.8h0M88.1 351.8h0M126.9 340.1h0M101.3 296.7h0M269.0 229.7h0M202.6 275.1h0M111.0 267.8h0M101.5 351.1h0M155.2 318.1h0M172.2 287.5h0M181.0 265.0h0M169.1 274.7h0M116.5 347.9h0M162.1 269.2h0M91.7 318.1h0M170.1 285.5h0M93.3 287.7h0M120.8 300.2h0M43.3 351.6h0M123.4 339.6h0M130.4 343.7h0M180.1 272.4h0M92.8 313.4h0M74.3 357.3h0M112.7 304.3h0M216.0 287.7h0M165.3 292.0h0M156.3 321.1h0M43.4 356.0h0M46.9 344.5h0M151.2 319.9h0M201.2 261.7h0M107.8 305.4h0M134.5 292.3h0M143.7 282.0h0M193.2 302.1h0M184.0 309.0h0M127.0 295.5h0M124.0 340.6h0M153.9 283.4h0M149.9 323.7h0M169.7 278.2h0M208.2 302.2h0M90.2 306.9h0M86.0 311.6h0M89.3 291.3h0M209.8 264.7h0M174.9 235.1h0M204.0 277.1h0M191.8 303.7h0M199.6 296.5h0M43.2 352.9h0M86.0 316.4h0M89.9 346.6h0M122.6 298.7h0M106.7 295.2h0M199.2 280.8h0M103.3 338.0h0M147.1 285.0h0M179.2 296.7h0M211.9 253.6h0M57.1 340.3h0M98.3 294.4h0M119.2 339.3h0M237.3 267.5h0M153.6 281.4h0M43.3 353.4h0M100.1 311.4h0M103.8 345.7h0M80.3 298.9h0M101.5 306.4h0M51.8 357.2h0M150.0 348.7h0M180.8 256.3h0M125.6 295.1h0M181.6 308.3h0M196.0 241.4h0M176.5 313.3h0M93.2 314.2h0M158.5 295.3h0M240.0 213.5h0M119.6 344.3h0M163.5 317.0h0M103.5 296.5h0M154.9 294.7h0M226.9 262.9h0M128.9 331.2h0M148.7 285.9h0M154.3 332.1h0M119.6 299.5h0M134.0 339.8h0M182.8 305.8h0M169.5 273.5h0M226.7 239.3h0M172.4 302.0h0M43.9 350.6h0M109.4 304.6h0M136.2 334.8h0M231.5 251.9h0M177.5 310.5h0M221.3 281.3h0M168.5 356.3h0M66.5 337.8h0M95.2 301.7h0M223.1 258.0h0M86.3 321.4h0M145.7 276.1h0M170.8 313.9h0M79.8 323.6h0M197.0 307.7h0M64.1 359.4h0M177.6 329.9h0M59.1 340.8h0M131.9 301.9h0M89.5 294.7h0M95.0 344.4h0M208.7 284.6h0M49.4 357.7h0M185.9 313.2h0M104.0 301.5h0M172.5 286.8h0M76.6 359.4h0M134.8 355.1h0M175.9 301.3h0M128.7 336.1h0M194.2 276.4h0M151.8 329.8h0M93.9 282.9h0M82.0 348.1h0M171.5 311.8h0M143.0 332.4h0M69.5 332.0h0M223.2 254.8h0M202.2 242.8h0M127.9 292.9h0M133.7 332.1h0M43.1 348.8h0M164.6 276.1h0M195.1 277.4h0M106.2 349.1h0M152.0 286.1h0M116.8 296.2h0M207.9 290.6h0M196.9 282.2h0M135.6 330.4h0M131.5 279.1h0M193.3 291.1h0M195.9 291.4h0M204.9 267.8h0M89.9 302.7h0M265.2 272.4h0M163.3 314.6h0M179.7 266.1h0M106.2 312.8h0M91.5 319.8h0M82.0 326.4h0M133.9 299.8h0M156.0 283.8h0M129.6 333.4h0M186.5 311.1h0M183.9 273.6h0M200.7 297.2h0M189.8 291.5h0M154.4 339.2h0M171.2 286.4h0M77.9 350.5h0M112.6 307.9h0M87.2 317.8h0M138.7 298.6h0M108.5 340.2h0M177.5 287.6h0M168.0 315.3h0M110.0 346.6h0M203.9 263.8h0M128.5 299.5h0M216.1 283.5h0M75.0 330.1h0M156.9 315.2h0M180.8 268.1h0M97.3 306.4h0M139.0 337.0h0M94.7 315.9h0M142.2 328.7h0M129.8 337.0h0M212.1 306.2h0M214.3 279.4h0M153.3 290.5h0M42.9 357.4h0M236.4 257.7h0M116.2 296.9h0M107.6 307.3h0M207.7 300.4h0M205.7 267.9h0M57.7 334.7h0M107.6 308.6h0M162.5 314.9h0M140.7 279.8h0M107.4 288.3h0M43.3 351.8h0M212.3 274.0h0M83.8 352.4h0M222.6 289.0h0M75.6 353.4h0M110.1 301.6h0M92.0 316.0h0M105.0 343.4h0M116.8 309.9h0M53.7 341.5h0M108.5 307.3h0M187.8 293.7h0M63.0 335.2h0M174.9 280.1h0M93.1 317.2h0M124.0 298.4h0M182.1 288.0h0M130.7 329.2h0M215.6 286.6h0M164.8 313.0h0M171.4 286.0h0M47.2 343.6h0M143.6 282.3h0M82.2 325.8h0M146.6 287.9h0M81.6 327.0h0M179.7 314.7h0M193.4 281.9h0M159.6 320.6h0M185.9 283.1h0M53.8 360.1h0M124.7 338.2h0M177.1 314.0h0M215.1 263.4h0M217.8 279.9h0M85.8 321.5h0M167.6 311.3h0M149.0 286.1h0M190.4 278.8h0M130.1 331.2h0M66.1 359.3h0M160.0 290.5h0M99.1 347.5h0M152.8 278.7h0M198.4 256.2h0M116.8 298.7h0M97.4 308.1h0M154.9 286.5h0M209.3 273.5h0M84.3 320.7h0M79.1 328.7h0M43.5 351.1h0M202.5 263.1h0M66.5 355.1h0M183.2 262.2h0M230.1 252.7h0M178.9 283.7h0M140.0 330.5h0M176.5 283.5h0M51.3 357.5h0M123.6 305.8h0M87.7 318.2h0M115.9 305.3h0M140.1 348.3h0M191.7 300.4h0M72.8 331.7h0M216.2 270.7h0M56.3 357.3h0M163.4 268.7h0M188.4 271.8h0M143.4 290.7h0M192.2 296.7h0M173.4 284.0h0M208.2 282.8h0M151.6 289.9h0M194.0 256.4h0M111.9 310.8h0M56.8 356.5h0M113.9 294.0h0M112.8 304.5h0M94.2 348.1h0M197.1 279.3h0M111.8 304.7h0M150.0 327.6h0M115.9 349.8h0M102.4 310.2h0M90.2 351.1h0M201.3 264.5h0M177.3 269.0h0M110.1 294.1h0M190.6 315.6h0M135.4 332.1h0M150.1 321.8h0M68.3 355.8h0M88.0 316.5h0M133.4 340.8h0M184.5 274.4h0M187.3 265.7h0M43.3 351.2h0M150.5 273.6h0M118.6 350.5h0M78.1 363.3h0M140.5 295.1h0M170.9 276.6h0M84.5 354.4h0M157.9 315.2h0M121.1 299.6h0M43.3 353.9h0M263.1 313.7h0M175.9 307.8h0M153.0 333.2h0M195.1 291.2h0M153.7 290.5h0M198.7 301.4h0M220.6 300.9h0M129.2 339.6h0M168.4 285.7h0M123.0 294.0h0M184.4 303.7h0M180.3 310.0h0M204.5 274.0h0M257.1 259.6h0M86.8 321.7h0M97.7 309.8h0M90.2 314.1h0M163.0 335.8h0M118.9 305.2h0M184.0 267.5h0M216.3 317.9h0M148.6 282.6h0M66.7 332.5h0M172.5 301.7h0M168.4 282.9h0M214.5 272.8h0M161.3 284.0h0M172.2 273.6h0M115.4 344.7h0M83.5 357.3h0M125.9 300.9h0M63.3 360.8h0M95.6 343.2h0M62.7 338.5h0M125.1 294.0h0M246.7 246.7h0M132.3 299.6h0M196.8 267.7h0M136.4 298.9h0M234.3 268.1h0M198.0 271.1h0M99.3 348.8h0M99.3 305.5h0M128.8 285.6h0M153.2 322.7h0M175.3 319.9h0M59.7 341.2h0M180.6 309.3h0M115.1 338.2h0M107.2 304.5h0M177.7 287.8h0M102.1 295.1h0M193.2 262.3h0M91.2 307.6h0M151.7 338.6h0M54.8 358.9h0M129.4 285.9h0M185.9 269.9h0M173.3 320.4h0M106.8 309.4h0M96.5 308.6h0M139.7 288.4h0M108.7 301.1h0M141.3 335.7h0M214.1 251.2h0M82.1 350.6h0M44.1 347.9h0M200.3 309.6h0M173.0 306.9h0M192.7 279.3h0M170.2 334.6h0M210.4 261.7h0M223.3 275.0h0M169.0 307.8h0M62.1 338.9h0M46.0 360.1h0M69.2 329.5h0M49.3 342.4h0M139.1 294.0h0M152.3 297.1h0M194.9 293.3h0M177.0 282.6h0M79.2 328.5h0M222.4 285.3h0M114.0 303.6h0M92.3 359.4h0M291.2 226.3h0M149.3 322.8h0M149.7 277.5h0M164.2 314.1h0M160.5 320.9h0M169.7 278.8h0M121.4 366.4h0M180.1 296.7h0M230.6 284.0h0M204.9 290.6h0M123.9 301.2h0M83.9 320.5h0M190.8 281.3h0M188.2 294.9h0M146.6 299.0h0M124.8 288.7h0M158.7 346.3h0M75.3 352.3h0M149.8 324.5h0M167.6 274.4h0M190.0 278.9h0M98.7 311.5h0M184.5 303.3h0M43.3 352.5h0M158.9 277.7h0M233.0 260.6h0M86.1 304.7h0M129.6 332.7h0M130.2 331.2h0M112.5 349.7h0M67.5 354.2h0M208.2 292.3h0M111.7 286.8h0M166.0 289.5h0M122.4 294.6h0M97.7 350.7h0M116.4 303.5h0M107.0 277.5h0M119.9 305.1h0M120.8 336.4h0M99.2 348.6h0M165.9 317.7h0M48.6 361.0h0M190.5 277.6h0M113.3 300.5h0M146.9 289.2h0M117.4 249.1h0M149.8 263.5h0M179.0 283.5h0M229.0 247.0h0M190.8 298.1h0M119.6 341.1h0M43.8 350.0h0M139.4 326.8h0M124.4 284.5h0M67.4 334.9h0M160.2 295.3h0M44.0 346.2h0M49.8 357.4h0M206.0 297.9h0M131.9 333.4h0M203.3 279.7h0M224.5 268.6h0M111.6 367.5h0M91.8 352.9h0M189.9 296.5h0M137.8 287.2h0M208.1 293.2h0M102.3 311.9h0M68.7 332.5h0M129.7 332.2h0M54.6 342.3h0M69.4 354.9h0" stroke="#ff4a1e" stroke-width="1.7" stroke-linecap="round" fill="none"/>
<path d="M206 270h1v1h-1zM208 270h1v1h-1zM206 271h3v1h-3zM208 272h1v1h-1zM201 273h1v1h-1zM200 274h3v1h-3zM187 275h3v1h-3zM201 275h1v1h-1zM200 276h2v1h-2zM199 277h1v1h-1zM186 278h1v1h-1zM194 278h2v1h-2zM199 278h1v1h-1zM186 279h1v1h-1zM194 279h2v1h-2zM198 279h2v1h-2zM185 280h1v1h-1zM193 280h3v1h-3zM179 281h2v1h-2zM185 281h1v1h-1zM181 283h3v1h-3zM193 283h5v1h-5zM205 283h2v1h-2zM187 284h9v1h-9zM197 284h1v1h-1zM205 284h2v1h-2zM162 285h2v1h-2zM176 285h1v1h-1zM179 285h1v1h-1zM183 285h1v1h-1zM187 285h9v1h-9zM199 285h3v1h-3zM162 286h2v1h-2zM165 286h1v1h-1zM174 286h1v1h-1zM178 286h2v1h-2zM183 286h1v1h-1zM187 286h13v1h-13zM161 287h1v1h-1zM165 287h1v1h-1zM173 287h3v1h-3zM178 287h8v1h-8zM187 287h12v1h-12zM165 288h1v1h-1zM172 288h3v1h-3zM176 288h6v1h-6zM183 288h16v1h-16zM200 288h2v1h-2zM172 289h3v1h-3zM176 289h1v1h-1zM178 289h11v1h-11zM192 289h1v1h-1zM195 289h2v1h-2zM154 290h2v1h-2zM164 290h11v1h-11zM176 290h6v1h-6zM183 290h6v1h-6zM191 290h2v1h-2zM163 291h2v1h-2zM166 291h1v1h-1zM168 291h19v1h-19zM191 291h1v1h-1zM162 292h18v1h-18zM181 292h6v1h-6zM189 292h1v1h-1zM191 292h1v1h-1zM193 292h1v1h-1zM161 293h18v1h-18zM181 293h6v1h-6zM189 293h1v1h-1zM191 293h1v1h-1zM150 294h1v1h-1zM155 294h3v1h-3zM161 294h17v1h-17zM181 294h6v1h-6zM190 294h1v1h-1zM195 294h2v1h-2zM145 295h2v1h-2zM148 295h8v1h-8zM157 295h1v1h-1zM161 295h3v1h-3zM165 295h13v1h-13zM180 295h7v1h-7zM139 296h3v1h-3zM146 296h6v1h-6zM153 296h3v1h-3zM157 296h22v1h-22zM181 296h6v1h-6zM139 297h3v1h-3zM146 297h6v1h-6zM153 297h30v1h-30zM184 297h1v1h-1zM137 298h1v1h-1zM139 298h5v1h-5zM147 298h32v1h-32zM180 298h3v1h-3zM134 299h2v1h-2zM137 299h1v1h-1zM139 299h5v1h-5zM147 299h30v1h-30zM180 299h3v1h-3zM185 299h1v1h-1zM192 299h1v1h-1zM130 300h1v1h-1zM132 300h12v1h-12zM146 300h28v1h-28zM175 300h3v1h-3zM185 300h1v1h-1zM125 301h2v1h-2zM129 301h2v1h-2zM132 301h4v1h-4zM137 301h17v1h-17zM155 301h17v1h-17zM180 301h3v1h-3zM121 302h6v1h-6zM129 302h42v1h-42zM176 302h1v1h-1zM180 302h3v1h-3zM121 303h6v1h-6zM129 303h2v1h-2zM132 303h38v1h-38zM174 303h1v1h-1zM177 303h3v1h-3zM181 303h2v1h-2zM120 304h4v1h-4zM125 304h2v1h-2zM128 304h2v1h-2zM131 304h40v1h-40zM177 304h3v1h-3zM108 305h1v1h-1zM116 305h1v1h-1zM124 305h11v1h-11zM136 305h38v1h-38zM177 305h3v1h-3zM108 306h3v1h-3zM116 306h42v1h-42zM159 306h14v1h-14zM177 306h3v1h-3zM114 307h1v1h-1zM116 307h42v1h-42zM159 307h3v1h-3zM164 307h4v1h-4zM171 307h4v1h-4zM177 307h3v1h-3zM102 308h2v1h-2zM108 308h2v1h-2zM114 308h1v1h-1zM116 308h46v1h-46zM165 308h4v1h-4zM172 308h1v1h-1zM178 308h1v1h-1zM99 309h1v1h-1zM102 309h2v1h-2zM109 309h1v1h-1zM112 309h3v1h-3zM117 309h6v1h-6zM124 309h38v1h-38zM166 309h2v1h-2zM103 310h3v1h-3zM107 310h3v1h-3zM112 310h53v1h-53zM173 310h1v1h-1zM103 311h3v1h-3zM107 311h3v1h-3zM112 311h44v1h-44zM157 311h8v1h-8zM173 311h1v1h-1zM103 312h3v1h-3zM107 312h3v1h-3zM112 312h44v1h-44zM158 312h3v1h-3zM162 312h3v1h-3zM96 313h2v1h-2zM101 313h5v1h-5zM107 313h49v1h-49zM95 314h4v1h-4zM101 314h55v1h-55zM95 315h59v1h-59zM93 316h6v1h-6zM100 316h55v1h-55zM158 316h1v1h-1zM94 317h61v1h-61zM94 318h57v1h-57zM153 318h2v1h-2zM93 319h54v1h-54zM148 319h3v1h-3zM153 319h1v1h-1zM91 320h60v1h-60zM88 321h57v1h-57zM148 321h1v1h-1zM89 322h56v1h-56zM83 323h63v1h-63zM83 324h63v1h-63zM83 325h53v1h-53zM137 325h1v1h-1zM145 325h1v1h-1zM82 326h54v1h-54zM80 327h56v1h-56zM137 327h2v1h-2zM80 328h55v1h-55zM136 328h4v1h-4zM75 329h1v1h-1zM77 329h52v1h-52zM131 329h4v1h-4zM137 329h3v1h-3zM77 330h45v1h-45zM123 330h5v1h-5zM131 330h3v1h-3zM137 330h1v1h-1zM75 331h51v1h-51zM131 331h2v1h-2zM137 331h1v1h-1zM73 332h53v1h-53zM69 333h2v1h-2zM73 333h52v1h-52zM68 334h4v1h-4zM73 334h51v1h-51zM68 335h48v1h-48zM118 335h5v1h-5zM68 336h48v1h-48zM67 337h48v1h-48zM63 338h40v1h-40zM105 338h9v1h-9zM62 339h52v1h-52zM61 340h45v1h-45zM57 341h1v1h-1zM60 341h45v1h-45zM57 342h44v1h-44zM55 343h40v1h-40zM97 343h4v1h-4zM52 344h43v1h-43zM99 344h2v1h-2zM48 345h1v1h-1zM50 345h44v1h-44zM46 346h43v1h-43zM90 346h1v1h-1zM92 346h1v1h-1zM45 347h44v1h-44zM44 348h38v1h-38zM85 348h3v1h-3zM44 349h34v1h-34zM44 350h32v1h-32zM44 351h29v1h-29zM44 352h25v1h-25zM70 352h1v1h-1zM44 353h23v1h-23zM44 354h19v1h-19zM64 354h1v1h-1zM44 355h17v1h-17zM64 355h2v1h-2zM44 356h12v1h-12zM57 356h1v1h-1zM44 357h5v1h-5zM53 357h1v1h-1z" fill="#62a7f9"/>
<path d="M154.9 317.9h0M205.1 285.9h0M43.6 351.8h0M113.9 309.3h0M107.3 344.1h0M166.8 289.3h0M193.6 288.2h0M84.3 358.6h0M50.4 361.3h0M155.7 325.1h0M189.4 292.7h0M206.1 284.6h0M163.6 282.5h0M161.4 308.1h0M178.9 292.6h0M154.8 274.3h0M173.9 279.1h0M86.4 322.1h0M47.2 361.7h0M157.3 260.8h0M167.1 281.6h0M195.1 274.1h0M135.4 298.4h0M195.1 278.7h0M103.9 342.6h0M91.3 320.9h0M156.2 293.8h0M170.9 325.5h0M73.7 350.4h0M61.0 337.3h0M196.0 283.2h0M198.6 282.4h0M191.4 267.5h0M136.6 299.2h0M92.4 320.4h0M138.3 331.4h0M178.3 313.4h0M96.4 342.5h0M94.7 298.8h0M223.5 279.9h0M88.8 347.5h0M157.2 295.5h0M133.7 329.4h0M174.9 288.3h0M213.2 261.7h0M142.6 298.5h0M146.8 298.3h0M154.9 318.0h0M80.6 328.8h0M205.0 306.3h0M152.3 296.4h0M80.6 317.0h0M106.7 343.4h0M110.2 297.0h0M135.8 297.9h0M137.3 327.4h0M191.7 279.0h0M170.6 301.9h0M167.2 258.5h0M167.0 285.1h0M68.5 355.6h0M229.9 242.3h0M107.8 311.5h0M65.6 338.3h0M201.9 288.6h0M168.2 289.5h0M126.9 305.8h0M215.8 272.4h0M212.7 262.9h0M200.8 276.1h0M161.1 291.0h0M160.6 283.1h0M195.6 278.2h0M201.2 282.0h0M124.7 335.0h0M44.3 353.4h0M130.9 331.7h0M79.5 321.1h0M99.1 343.9h0M43.9 354.1h0M139.9 284.4h0M206.5 280.8h0M43.8 350.7h0M175.9 287.1h0M144.2 323.6h0M179.8 303.6h0M215.7 269.1h0M184.6 300.1h0M95.0 305.8h0M99.8 311.0h0M58.5 357.4h0M130.3 333.9h0M134.9 304.3h0M175.1 307.1h0M171.4 303.0h0M203.1 279.8h0M205.0 269.4h0M122.1 305.9h0M198.4 286.3h0M129.8 333.8h0M176.0 337.0h0M45.5 357.6h0M195.8 293.9h0M182.1 300.4h0M151.8 298.9h0M155.4 293.4h0M149.7 339.7h0M57.6 356.0h0M58.0 343.6h0M207.3 271.9h0M156.5 325.8h0M107.6 306.0h0M222.9 272.0h0M131.1 349.1h0M122.3 341.3h0M186.1 295.4h0M116.5 348.1h0M186.1 293.6h0M61.9 354.8h0M194.8 283.6h0M97.9 306.3h0M199.4 277.7h0M181.9 295.3h0M196.2 306.8h0M43.0 354.4h0M215.9 255.8h0M115.0 301.7h0M164.6 295.0h0M93.3 315.6h0M148.7 288.2h0M196.2 284.1h0M175.2 286.0h0M302.0 212.2h0M106.1 344.1h0M81.5 325.0h0M61.8 354.2h0M193.1 298.1h0M159.8 308.1h0M223.5 258.6h0M309.9 228.0h0M184.4 286.3h0M133.7 332.5h0M127.4 293.0h0M146.6 302.0h0M120.5 342.5h0M197.9 284.0h0M226.6 263.8h0M167.0 276.8h0M154.4 293.9h0M95.2 314.9h0M44.2 354.7h0M193.8 277.7h0M58.0 343.4h0M58.4 341.8h0M130.4 303.9h0M100.9 275.1h0M103.0 308.7h0M193.7 291.0h0M195.8 291.3h0M262.4 254.7h0M89.1 320.7h0M229.9 274.7h0M191.9 294.6h0M192.7 280.9h0M107.2 348.7h0M186.0 302.4h0M181.0 313.5h0M234.9 271.5h0M122.8 329.2h0M181.2 288.8h0M176.4 301.4h0M154.3 322.9h0M74.5 332.3h0M170.5 311.0h0M154.5 289.9h0M157.1 294.2h0M237.3 258.9h0M165.3 307.6h0M69.9 334.7h0M183.0 279.4h0M177.5 289.6h0M94.8 309.8h0M184.3 287.0h0M228.1 279.0h0M165.3 296.6h0M181.8 294.3h0M192.3 294.8h0M183.6 274.0h0M116.0 335.8h0M189.0 274.6h0M177.7 284.2h0M218.7 260.7h0M223.6 305.2h0M122.9 305.0h0M181.4 297.2h0M193.4 264.4h0M74.3 328.4h0M93.8 307.9h0M145.8 296.3h0M96.9 352.4h0M209.7 271.9h0M44.5 350.3h0M140.0 341.3h0M53.1 345.0h0M150.0 295.2h0M51.4 342.7h0M178.8 293.1h0M193.2 272.5h0M81.7 326.9h0M161.3 296.9h0M152.4 338.9h0M144.7 287.5h0M119.9 335.5h0M189.5 283.5h0M183.0 282.0h0M72.5 354.6h0M173.6 311.0h0M149.9 322.0h0M254.8 262.6h0M248.3 265.5h0M216.3 273.6h0M135.6 253.7h0M155.5 279.1h0M204.0 295.5h0M171.5 280.9h0M146.9 296.5h0M206.2 294.4h0M236.6 262.2h0M192.5 289.4h0M187.1 288.2h0M110.6 309.4h0M183.1 278.6h0M144.7 331.4h0M53.4 343.6h0M230.8 279.6h0M114.6 307.3h0M116.2 347.5h0M70.8 327.3h0M182.4 286.2h0M180.2 284.8h0M164.0 279.3h0M183.4 325.1h0M207.0 315.1h0M208.5 271.8h0M188.3 274.5h0M192.4 302.4h0M85.2 348.7h0M212.3 292.5h0M133.7 299.3h0M167.9 291.0h0M113.2 337.2h0M84.5 323.5h0M56.9 356.3h0M67.7 339.0h0M86.1 348.6h0M134.8 305.4h0M109.5 341.1h0M105.2 351.4h0M181.3 288.3h0M122.6 310.7h0M44.5 355.5h0M143.1 292.7h0M316.8 242.6h0M235.0 274.8h0M68.8 337.9h0M138.2 295.5h0M144.2 320.2h0M200.6 260.7h0M101.4 307.6h0M187.4 276.4h0M122.7 330.9h0M152.3 323.7h0M219.3 271.7h0M179.8 296.5h0M215.3 301.2h0M71.7 332.8h0M196.7 277.8h0M58.4 355.1h0M204.6 284.9h0M240.5 247.9h0M128.5 329.7h0M201.3 296.7h0M76.4 330.2h0M123.7 335.6h0M114.2 265.9h0M175.2 302.5h0M160.4 311.3h0M146.3 322.3h0M122.6 335.6h0M194.3 282.2h0M158.1 306.0h0M166.7 316.1h0M160.3 314.5h0M117.6 336.3h0M180.3 287.5h0M127.9 329.5h0M214.0 258.3h0M104.0 338.9h0M44.2 353.6h0M161.1 315.4h0M100.6 344.9h0M196.8 293.3h0M159.0 317.7h0M92.6 315.0h0M106.8 344.7h0M195.7 292.7h0M173.7 299.5h0M149.1 321.5h0M113.9 307.3h0M138.5 332.8h0M165.8 292.9h0M167.4 255.1h0M149.0 327.1h0M138.4 328.7h0M57.7 340.5h0M181.5 289.3h0M172.9 300.4h0M215.3 276.2h0M162.4 284.8h0M146.2 301.7h0M174.7 299.2h0M210.8 279.8h0M131.4 289.7h0M156.5 294.9h0M136.0 302.1h0M157.7 297.3h0M127.0 296.7h0M151.1 296.4h0M189.8 297.8h0M247.0 238.6h0M220.6 268.1h0M121.2 301.8h0M96.8 313.7h0M169.1 283.0h0M311.2 248.7h0M144.3 322.6h0M124.8 302.4h0M254.1 239.0h0M129.4 331.6h0M177.8 288.7h0M151.1 317.7h0M187.2 296.7h0M124.1 299.3h0M182.9 283.0h0M97.7 309.9h0M188.6 275.5h0M44.2 353.9h0M214.2 264.9h0M146.9 298.1h0M137.0 345.5h0M95.2 311.0h0M183.0 299.7h0M153.2 291.3h0M94.3 345.3h0M178.2 280.7h0M125.8 334.0h0M98.0 308.1h0M198.7 285.9h0M95.3 343.5h0M200.5 287.1h0M187.4 259.2h0M129.7 347.2h0M166.5 281.7h0M258.0 240.6h0M164.5 277.1h0M76.7 350.3h0M166.9 287.9h0M196.3 284.9h0M175.3 306.1h0M152.1 320.8h0M252.9 270.4h0M164.7 289.3h0M49.4 345.8h0M177.3 299.5h0M185.5 281.3h0M43.8 340.0h0M216.3 274.6h0M106.9 341.3h0M246.1 256.3h0M224.3 273.4h0M151.0 290.4h0M183.4 287.9h0M52.9 358.1h0M76.4 328.4h0M127.7 333.8h0M190.7 297.7h0M134.3 339.1h0M182.0 309.4h0M147.2 321.0h0M192.2 293.8h0M62.7 337.5h0M101.5 344.0h0M183.3 273.7h0M43.2 356.4h0M173.0 290.3h0M148.3 325.6h0M54.6 356.2h0M169.4 303.7h0M143.5 299.8h0M155.3 283.0h0M115.4 297.0h0M211.9 292.5h0M270.2 228.5h0M204.7 290.5h0M234.7 254.9h0M132.6 339.7h0M139.2 324.7h0M91.9 353.8h0M107.2 307.4h0M172.3 306.7h0M130.9 301.7h0M54.4 356.1h0M156.7 293.7h0M196.8 281.7h0M78.8 353.9h0M199.1 306.2h0M195.2 297.3h0M103.5 309.8h0M43.3 354.9h0M218.9 282.3h0M180.6 280.7h0M148.0 320.8h0M73.5 322.3h0M67.0 338.7h0M124.6 306.4h0M71.4 323.4h0M196.5 288.8h0M108.2 310.6h0M59.2 338.6h0M105.4 313.5h0M143.5 327.8h0M206.2 291.8h0M248.5 246.6h0M149.4 286.8h0M42.9 355.8h0M107.0 355.8h0M98.3 349.6h0M203.7 269.0h0M154.8 317.6h0M111.8 286.8h0M152.9 294.4h0M191.1 289.6h0M115.3 339.5h0M194.7 272.9h0M153.9 317.4h0M194.0 307.3h0M164.5 312.8h0M225.9 294.1h0M163.1 319.7h0M129.6 306.0h0M105.0 340.8h0M139.7 297.0h0M173.1 304.0h0M73.6 331.2h0M176.3 300.1h0M121.6 294.2h0M218.8 277.5h0M142.6 297.7h0M133.7 299.3h0M130.5 296.5h0M95.7 345.6h0M196.2 296.3h0M172.9 276.2h0M151.0 294.9h0M110.9 304.0h0M156.0 343.1h0M187.6 283.0h0M202.8 268.5h0M166.0 310.2h0M109.0 309.8h0M77.2 355.5h0M177.0 290.0h0M204.3 272.0h0M136.3 324.3h0M69.7 334.3h0M119.9 336.5h0M136.3 305.5h0M95.2 300.9h0M184.9 280.7h0M173.6 315.9h0M222.3 274.0h0M103.0 313.8h0M85.4 317.2h0M191.4 305.9h0M153.1 297.9h0M44.9 350.2h0M146.3 289.9h0M182.0 239.7h0M239.0 267.8h0M230.1 262.0h0M179.5 285.2h0M240.6 260.3h0M156.9 286.5h0M44.7 357.6h0M147.3 322.6h0M189.3 284.1h0M195.2 280.9h0M170.4 283.5h0M128.6 332.6h0M123.2 334.1h0M186.6 278.1h0M100.9 343.1h0M135.0 358.5h0M184.6 308.8h0M94.2 312.9h0M200.6 273.3h0M156.2 284.0h0M133.1 282.9h0M230.7 257.0h0M146.3 299.1h0M157.3 307.5h0M151.7 276.2h0M128.3 301.3h0M182.8 284.8h0M196.9 275.5h0M200.5 277.0h0M87.4 302.7h0M160.3 334.5h0M220.6 278.7h0M138.5 327.5h0M146.5 300.7h0M77.7 351.7h0M164.2 291.0h0M224.0 285.3h0M182.5 290.0h0M131.0 329.2h0M190.9 283.1h0M121.4 330.3h0M90.9 315.9h0M104.5 339.7h0M135.9 305.7h0M126.9 304.5h0M148.7 322.6h0M155.2 312.5h0M186.4 293.1h0M121.3 306.6h0M196.4 294.4h0M119.4 305.1h0M134.2 295.4h0M57.6 340.0h0M103.5 304.0h0M225.9 254.3h0M134.0 297.9h0M112.5 339.1h0M290.9 216.0h0M102.1 304.4h0M196.0 301.3h0M94.2 316.6h0M135.9 283.8h0M175.6 306.7h0M200.9 286.9h0M146.4 294.1h0M109.3 339.8h0M232.3 251.7h0M107.1 342.5h0M95.1 287.2h0M99.4 316.0h0M64.5 337.8h0M207.0 253.4h0M190.1 293.7h0M205.8 272.8h0M179.9 291.7h0M113.8 298.2h0M162.6 286.1h0M235.9 258.0h0M221.9 266.1h0M59.4 355.1h0M117.2 309.6h0M213.6 264.0h0M44.6 354.0h0M167.0 284.0h0M138.7 328.8h0M177.9 306.9h0M314.4 217.6h0M56.5 343.8h0M100.1 343.4h0M111.6 307.4h0M196.9 281.8h0M81.3 347.9h0M44.5 349.7h0M174.5 239.4h0M152.3 295.3h0M152.9 284.9h0M180.4 294.4h0M126.4 334.6h0M171.4 271.9h0M179.9 275.2h0M162.8 308.9h0M120.3 294.2h0M196.0 290.5h0M177.3 309.3h0M176.0 305.7h0M89.8 349.6h0M207.4 283.7h0M159.9 321.7h0M177.2 303.3h0M156.0 302.1h0M159.4 312.0h0M51.3 345.1h0M72.6 335.4h0M276.7 242.7h0M168.4 310.0h0M74.9 353.3h0M180.9 306.3h0M176.9 303.1h0M250.1 263.7h0M63.7 328.9h0M132.0 330.3h0M213.3 263.7h0M190.1 276.1h0M78.6 319.5h0M185.1 274.7h0M96.3 343.7h0M61.9 358.6h0M109.5 307.3h0M200.5 284.8h0M216.1 262.1h0M212.9 275.2h0M234.2 261.1h0M199.0 277.3h0M129.3 297.2h0M155.2 301.0h0M103.8 311.6h0M227.9 275.3h0M127.1 298.0h0M111.6 313.2h0M183.3 280.4h0M140.1 333.4h0M178.6 297.3h0M231.8 259.7h0M43.3 353.4h0M121.9 343.7h0M156.7 291.4h0M125.1 293.9h0M56.4 357.3h0M181.5 270.5h0M113.9 291.7h0M94.8 316.9h0M110.3 313.5h0M74.0 326.5h0M128.3 291.8h0M184.5 282.4h0M266.9 285.4h0M213.3 295.1h0M80.1 348.2h0M186.6 280.3h0M164.6 306.4h0M206.5 283.3h0M176.4 298.4h0M52.6 357.2h0M66.1 363.1h0M96.4 308.4h0M121.0 303.3h0M168.5 282.2h0M145.9 325.5h0M93.0 320.7h0M45.4 346.0h0M56.7 355.6h0M189.0 275.2h0M115.2 334.8h0M125.9 286.0h0M243.9 243.4h0M51.5 344.8h0M100.2 360.2h0M162.6 319.5h0M101.8 296.2h0M56.0 341.0h0M153.3 288.5h0M144.2 333.0h0M177.5 278.4h0M145.0 295.7h0M214.0 264.7h0M147.5 296.7h0M106.7 357.1h0M134.6 305.4h0M45.8 348.1h0M114.2 336.4h0M162.5 309.3h0M172.1 311.7h0M235.2 263.3h0M203.1 324.9h0M197.5 283.3h0M171.4 303.3h0M47.1 357.4h0M91.4 347.2h0M162.7 287.5h0M153.6 300.1h0M77.8 324.2h0M150.5 295.7h0M125.4 292.2h0M84.9 348.5h0M179.7 280.2h0M201.2 272.8h0M297.3 237.6h0M155.2 313.6h0M182.1 307.3h0M159.5 307.6h0M178.0 308.6h0M158.1 313.6h0M170.9 302.6h0M168.5 309.0h0M177.5 285.9h0M123.2 329.1h0M203.1 292.7h0M181.7 287.9h0M218.0 282.6h0M146.7 287.5h0M97.9 350.9h0M103.9 301.1h0M187.5 285.7h0M112.5 296.1h0M74.4 322.9h0M155.9 326.9h0M99.5 316.4h0M195.7 282.7h0M98.9 316.6h0M187.4 281.0h0M123.0 308.1h0M145.0 288.3h0M123.3 296.2h0M66.7 337.4h0M291.8 238.4h0M200.4 284.9h0M148.2 292.7h0M195.5 279.3h0M160.5 293.9h0M155.2 318.4h0M81.5 327.3h0M129.5 302.5h0M102.3 342.8h0M213.1 282.9h0M179.2 286.3h0M185.5 277.6h0M178.8 311.1h0M120.2 341.0h0M44.9 353.9h0M220.3 262.7h0M184.2 303.1h0M228.3 282.8h0M44.9 353.1h0M182.3 279.4h0M151.7 279.3h0M236.9 259.9h0M154.5 320.3h0M43.7 355.8h0M183.0 284.7h0M43.1 352.8h0M91.4 317.0h0M74.4 328.6h0M133.2 329.9h0M219.3 251.7h0M173.2 322.4h0M54.8 344.1h0M162.0 288.5h0M189.0 274.6h0M153.0 322.3h0M169.3 289.9h0M279.6 244.2h0M117.4 308.2h0M248.3 244.8h0M304.1 231.2h0M194.7 260.9h0M166.0 288.1h0M128.4 328.2h0M257.7 245.4h0M58.7 334.7h0M175.8 309.0h0M70.0 333.3h0M159.6 286.3h0M153.6 319.9h0M177.0 282.7h0M211.5 268.9h0M180.9 282.6h0M54.1 343.1h0M166.3 308.3h0M186.4 282.1h0M199.4 284.3h0M109.3 307.3h0M100.7 312.1h0M201.2 288.2h0M179.8 292.5h0M48.3 345.0h0M78.4 319.2h0M241.9 262.2h0M171.0 304.4h0M134.2 300.9h0M133.0 332.4h0M134.3 292.7h0M185.7 288.7h0M179.1 263.8h0M195.5 279.6h0M120.0 290.7h0M117.1 302.6h0M210.6 295.3h0M64.3 354.5h0M215.1 276.6h0M141.8 293.1h0M158.5 294.7h0M75.1 320.6h0M194.5 308.5h0M198.1 292.8h0M323.1 223.5h0M104.3 268.3h0M190.7 302.3h0M122.7 310.0h0M136.4 326.3h0M48.1 357.3h0M164.8 310.6h0M158.0 305.3h0M216.3 267.2h0M181.5 296.3h0M147.4 295.0h0M160.0 320.6h0M174.8 310.6h0M194.5 270.8h0M131.3 330.8h0M100.2 286.5h0M189.0 288.2h0M155.3 313.1h0M182.0 290.6h0M185.2 298.7h0M91.9 306.8h0M193.7 271.1h0M324.9 207.5h0M208.2 273.3h0M183.2 284.9h0M216.4 269.6h0M129.2 301.1h0M57.0 339.9h0M89.4 323.2h0M139.9 346.3h0M202.1 277.7h0M148.3 319.4h0M43.3 356.0h0M152.3 280.5h0M91.9 313.9h0M164.9 310.9h0M156.3 293.3h0M200.6 278.0h0M183.6 305.8h0M200.4 273.9h0M182.3 286.9h0M204.1 290.9h0M91.2 346.8h0M44.4 347.8h0M162.7 307.0h0M166.4 286.6h0M172.0 326.0h0M185.0 310.0h0M102.8 348.3h0M141.8 338.0h0M83.0 320.3h0M100.1 297.5h0M160.0 280.7h0M138.1 336.0h0M136.9 301.3h0M150.7 334.6h0M194.9 295.7h0M176.6 280.1h0M172.4 304.7h0M49.1 344.4h0M236.7 264.4h0M169.6 290.6h0M76.5 330.5h0M133.6 296.7h0M43.9 350.5h0M162.4 306.0h0M127.5 303.9h0M106.1 351.3h0M143.7 301.5h0M161.3 285.1h0M171.7 314.1h0M175.5 285.4h0M164.5 291.9h0M177.9 313.0h0M45.9 358.8h0M120.4 299.3h0M183.8 305.3h0M180.5 298.1h0M118.8 288.5h0M149.6 320.8h0M147.5 332.7h0M237.0 261.0h0M206.7 268.3h0M132.8 330.0h0M53.4 358.8h0M88.3 345.8h0M44.0 354.7h0M169.1 311.5h0M146.7 293.2h0M87.2 355.6h0M122.5 339.2h0M159.5 291.9h0M42.9 353.7h0M109.4 305.9h0M139.4 300.0h0M102.5 307.3h0M164.0 316.2h0M192.0 294.7h0M112.1 313.8h0M113.1 342.7h0M163.2 285.5h0M142.9 287.7h0M217.2 266.1h0M81.8 347.3h0M203.3 272.2h0M157.4 308.1h0M172.7 305.5h0M188.4 309.8h0M43.8 353.5h0M130.1 301.2h0M119.3 305.7h0M185.3 298.4h0M109.6 313.0h0M161.7 312.5h0M69.3 318.5h0M211.7 280.8h0M86.3 313.4h0M184.8 281.2h0M105.1 338.7h0M73.8 335.1h0M44.3 359.1h0M229.7 272.6h0M119.4 294.0h0M175.6 286.5h0M88.9 322.5h0M164.3 286.8h0M90.7 348.2h0M215.0 261.7h0M197.2 293.2h0M124.5 349.8h0M62.5 340.3h0M151.4 292.8h0M91.5 304.0h0M105.9 353.7h0M169.2 280.9h0M193.4 292.0h0M72.4 366.7h0M82.4 324.9h0M192.3 265.2h0M192.8 278.6h0M44.2 354.2h0M172.2 311.8h0M44.5 354.9h0M227.0 277.8h0M199.8 287.2h0M118.1 338.3h0M169.1 287.5h0M180.2 302.5h0M136.2 335.8h0M56.7 342.6h0M171.4 306.7h0M209.7 270.3h0M147.5 321.6h0M74.3 357.3h0M217.6 253.8h0M144.5 298.6h0M136.4 331.1h0M60.7 341.3h0M118.1 334.9h0M221.3 276.4h0M134.6 290.4h0M278.4 267.0h0M239.0 263.5h0M153.1 325.6h0M93.5 321.0h0M174.8 299.8h0M167.1 315.2h0M175.2 285.4h0M153.3 296.0h0M209.1 325.8h0M63.4 354.1h0M132.6 330.7h0M94.3 318.6h0M172.5 276.1h0M56.9 342.5h0M125.9 305.1h0M161.9 313.0h0M133.3 297.2h0M156.1 313.2h0M188.1 276.4h0M165.3 296.7h0M151.5 325.6h0M182.6 313.9h0M133.2 329.8h0M117.6 305.4h0M193.0 300.9h0M131.2 328.9h0M98.6 343.4h0M208.8 276.3h0M160.7 291.7h0M46.3 357.2h0M155.3 292.9h0M189.7 295.3h0M107.1 305.9h0M125.0 301.5h0M124.0 298.5h0M170.5 306.8h0M217.4 269.2h0M164.3 285.5h0M51.3 342.6h0M213.2 259.7h0M78.3 348.4h0M44.9 353.3h0M137.1 328.2h0M155.4 280.1h0M110.6 306.3h0M159.0 291.4h0M81.3 327.9h0M101.9 348.5h0M48.7 341.2h0M170.6 305.7h0M125.6 300.6h0M122.8 284.4h0M175.0 275.0h0M86.8 349.7h0M91.1 313.7h0M133.7 341.9h0M220.3 268.8h0M205.7 275.8h0M120.8 337.9h0M261.1 238.0h0M217.7 243.5h0M182.6 299.0h0M127.8 305.4h0M145.4 276.8h0M147.2 291.2h0M76.2 350.6h0M74.1 351.2h0M225.3 276.3h0M190.7 291.1h0M82.0 322.0h0M45.6 362.1h0M262.2 279.2h0M215.8 306.1h0M167.0 291.3h0M187.7 292.0h0M118.9 304.6h0M205.7 287.4h0M154.4 319.1h0M224.7 277.8h0M194.2 293.7h0M180.6 300.6h0M167.2 288.9h0M65.1 354.3h0M170.9 284.6h0M104.4 310.5h0M82.6 321.1h0M175.4 288.6h0M213.1 284.2h0M194.1 305.3h0M95.2 348.0h0M154.2 287.1h0M121.5 304.8h0M125.1 303.0h0M52.3 345.1h0M183.4 286.6h0M203.0 277.4h0M159.0 294.8h0M181.0 296.8h0M67.6 338.1h0M108.4 298.3h0M154.6 287.7h0M157.5 307.6h0M171.7 308.4h0M169.8 308.6h0M130.4 299.6h0M129.4 303.9h0M68.5 334.3h0M155.9 291.3h0M192.4 292.5h0M193.0 291.4h0M117.5 306.8h0M43.3 353.5h0M144.5 295.1h0M100.1 303.3h0M44.9 350.8h0M179.4 305.4h0M216.6 283.1h0M207.5 272.0h0M222.1 261.7h0M160.3 279.5h0M43.8 353.3h0M99.7 310.9h0M212.7 275.3h0M181.2 282.4h0M124.9 303.6h0M71.9 351.2h0M205.2 279.1h0M184.1 283.8h0M83.6 325.8h0M114.5 310.0h0M159.7 289.0h0M189.3 291.2h0M102.1 347.7h0M203.1 281.1h0M212.4 270.4h0M69.2 351.7h0M180.3 281.9h0M79.1 326.3h0M123.5 303.8h0M99.8 309.2h0M100.9 297.1h0M83.5 319.7h0M183.8 296.5h0M116.0 341.6h0M109.1 310.1h0M136.6 295.7h0M125.6 304.5h0M108.4 340.2h0M147.6 328.5h0M180.0 305.7h0M96.8 344.3h0M215.0 278.2h0M191.6 313.6h0M207.8 282.8h0M167.3 290.6h0M57.7 334.0h0M84.9 322.7h0M72.5 332.8h0M224.4 256.5h0M212.5 262.9h0M201.7 252.1h0M106.1 313.9h0M212.3 293.5h0M164.4 286.5h0M61.2 356.7h0M169.9 280.3h0M109.2 309.5h0M178.9 286.6h0M74.8 351.5h0M199.6 294.9h0M166.2 254.2h0M110.7 312.8h0M70.6 351.2h0M134.9 296.0h0M91.6 314.9h0M71.3 351.4h0M147.4 292.4h0M133.3 331.2h0M149.6 324.8h0M228.4 275.5h0M102.1 353.3h0M173.1 281.5h0M45.0 353.5h0M72.9 332.2h0M43.1 354.1h0M216.8 261.2h0M78.3 348.5h0M238.2 281.7h0M167.8 292.3h0M278.6 228.5h0M143.1 324.6h0M198.2 282.6h0M159.9 286.9h0M182.4 301.4h0M162.2 309.3h0M69.3 334.1h0M119.0 341.9h0M257.2 231.3h0M92.9 319.5h0M116.3 299.6h0M170.2 307.8h0M299.6 252.9h0M114.2 336.4h0M43.2 347.1h0M55.8 365.8h0M182.2 291.7h0M155.2 285.4h0M174.0 299.2h0M139.7 293.5h0M141.1 327.2h0M154.4 295.0h0M162.0 325.2h0M106.0 305.4h0M207.7 260.9h0M43.5 352.8h0M163.1 290.2h0M146.1 318.9h0M252.7 250.5h0M197.4 292.1h0M102.6 294.0h0M50.2 331.5h0M172.9 279.7h0M110.1 308.9h0M68.0 337.7h0M168.4 291.5h0M42.9 354.1h0M175.8 288.3h0M132.8 289.9h0M99.5 316.7h0M195.6 277.4h0M142.1 296.7h0M158.7 314.9h0M166.0 314.6h0M173.6 306.1h0M115.2 304.2h0M305.8 228.2h0M128.4 305.0h0M270.0 222.1h0M145.3 301.3h0M130.4 298.2h0M177.9 302.1h0M188.8 284.4h0M153.4 300.1h0M105.5 314.6h0M190.4 314.1h0M116.8 307.2h0M149.7 323.5h0M211.0 280.2h0M171.3 290.3h0M123.2 333.2h0M88.6 321.4h0M222.4 276.3h0M187.4 284.8h0M194.6 288.2h0M105.2 306.5h0M43.3 349.1h0M151.2 297.2h0M129.1 341.2h0M205.1 275.1h0M144.4 289.2h0M217.5 274.1h0M75.2 328.5h0M133.5 299.1h0M145.5 321.7h0M44.7 352.4h0M125.4 298.8h0M186.5 303.4h0M166.1 287.1h0M121.3 294.6h0M124.1 302.4h0M172.2 288.6h0M173.8 302.5h0M158.4 316.4h0M164.6 313.9h0M193.3 281.3h0M199.8 301.4h0M195.5 284.5h0M82.2 353.2h0M164.6 274.6h0M105.7 310.5h0M115.3 335.3h0M221.6 293.2h0M119.0 337.7h0M97.2 313.1h0M181.9 280.9h0M160.1 315.5h0M148.8 319.4h0M284.3 229.5h0M146.0 293.0h0M185.6 296.5h0M167.4 307.7h0M136.4 289.2h0M200.3 270.1h0M213.1 272.1h0M99.1 310.4h0M195.8 324.3h0M198.4 285.4h0M209.0 269.2h0M61.3 341.2h0M44.7 356.8h0M159.2 305.6h0M277.4 230.0h0M199.5 288.4h0M139.0 287.4h0M196.2 271.7h0M186.2 308.2h0M198.5 287.5h0M205.9 283.2h0M155.6 311.3h0M103.8 304.3h0M136.3 324.0h0M175.3 312.4h0M162.0 288.6h0M104.0 308.1h0M70.5 327.0h0M79.4 351.6h0M181.3 275.3h0M211.6 264.0h0M43.2 349.6h0M43.7 349.8h0M154.1 314.7h0M169.8 290.2h0M172.5 329.5h0M195.2 288.7h0M44.0 354.4h0M159.2 278.1h0M155.2 297.1h0M86.2 320.8h0M65.3 354.6h0M63.7 339.4h0M194.5 250.1h0M170.8 302.0h0M144.4 325.5h0M199.6 285.1h0M154.9 314.9h0M175.9 291.6h0M180.4 305.2h0M112.2 312.3h0M183.8 264.9h0M123.0 331.5h0M301.3 227.5h0M257.9 249.4h0M192.6 298.7h0M94.2 319.1h0M95.0 342.5h0M76.2 331.6h0M130.4 299.5h0M211.6 279.8h0M111.5 343.4h0M186.3 288.8h0M142.2 324.0h0M197.8 282.9h0M202.7 273.4h0M65.5 335.1h0M189.0 282.4h0M46.9 361.7h0M109.9 305.8h0M75.9 330.4h0M92.4 320.3h0M75.2 332.4h0M57.1 338.0h0M49.5 361.9h0M200.1 283.5h0M150.5 320.3h0M85.3 350.8h0M50.1 346.5h0M197.3 295.3h0M93.7 347.2h0M153.9 245.3h0M180.1 297.9h0M97.7 342.2h0M194.1 281.0h0M84.1 350.1h0M144.6 333.3h0M63.8 354.3h0M179.1 285.9h0M143.3 301.4h0M177.4 307.5h0M52.6 338.1h0M195.8 295.4h0M216.9 276.4h0M165.5 308.3h0M177.8 309.3h0M44.5 360.0h0M143.7 331.0h0M152.3 318.3h0M174.3 318.3h0M138.7 330.9h0M206.3 271.7h0M106.6 307.9h0M192.5 297.4h0M217.0 273.7h0M220.1 285.8h0M185.5 296.4h0M96.4 313.1h0M114.3 338.1h0M242.3 278.4h0M185.9 302.1h0M167.7 317.1h0M145.4 324.5h0M99.8 344.8h0M163.2 308.1h0M53.0 356.7h0M241.2 268.2h0M110.0 341.1h0M84.7 320.0h0M82.1 318.5h0M172.4 308.0h0M156.7 318.5h0M167.4 271.3h0M94.6 343.3h0M130.1 340.7h0M89.2 322.9h0M214.0 268.4h0M165.1 293.0h0M105.6 312.7h0M70.7 334.1h0M80.2 325.1h0M104.6 306.7h0M258.7 247.7h0M94.0 316.4h0M103.4 309.4h0M115.4 310.6h0M125.4 343.9h0M171.9 305.7h0M189.9 304.2h0M164.8 311.6h0M191.0 291.5h0M115.9 337.8h0M123.1 337.0h0M173.9 286.8h0M142.4 290.3h0M158.5 312.5h0M115.3 345.9h0M44.6 353.9h0M116.3 304.3h0M227.3 289.3h0M158.8 321.9h0M181.7 294.5h0M195.9 289.2h0M188.3 284.9h0M181.2 318.0h0M43.6 355.0h0M146.2 297.3h0M184.8 281.3h0M159.1 350.6h0M111.4 310.9h0M67.7 352.3h0M135.6 302.5h0M165.3 291.6h0M97.2 291.0h0M178.9 299.9h0M170.6 313.5h0M129.3 297.9h0M62.3 340.9h0M88.9 348.2h0M167.7 312.9h0M182.7 262.2h0M112.9 351.7h0M136.1 330.7h0M141.6 328.3h0M185.1 283.2h0M206.8 296.6h0M138.2 268.7h0M114.0 305.7h0M139.2 327.3h0M131.5 331.9h0M206.4 278.3h0M205.8 269.7h0M126.6 333.5h0M159.3 318.8h0M188.0 274.2h0M182.3 297.9h0M84.9 347.6h0M206.2 279.1h0M111.8 312.1h0M187.6 290.9h0M213.2 262.0h0M143.1 299.8h0M102.5 309.3h0M117.1 283.7h0M66.8 352.1h0M136.0 300.4h0M186.5 299.3h0M205.8 292.8h0M100.4 317.1h0M157.4 315.2h0M184.9 275.0h0M198.0 279.2h0M43.0 354.4h0M120.5 297.6h0M51.6 339.7h0M144.4 301.1h0M209.7 273.6h0M180.4 301.4h0M131.6 300.9h0M161.1 307.7h0M272.2 241.2h0M98.8 313.2h0M187.7 285.5h0M122.2 334.7h0M212.4 282.5h0M85.7 363.6h0M102.0 315.7h0M121.9 304.3h0M251.6 267.2h0M125.9 330.4h0M93.4 345.7h0M220.5 283.1h0M190.9 288.4h0M145.8 281.1h0M227.0 263.0h0M82.3 323.3h0M173.3 288.6h0M55.9 355.3h0M173.3 310.2h0M159.5 274.1h0M44.1 345.9h0M200.1 298.6h0M220.2 277.2h0M131.5 304.5h0M133.0 284.9h0M213.9 287.8h0M69.3 352.7h0M69.9 352.9h0M80.0 350.8h0M137.4 345.1h0M95.0 359.5h0M168.9 289.4h0M127.8 329.3h0M99.9 314.9h0M173.5 311.8h0M230.3 268.2h0M226.1 266.9h0M189.8 327.9h0M203.1 294.3h0M73.9 313.2h0M175.6 304.8h0M182.8 290.5h0M187.6 278.7h0M164.4 277.3h0M290.9 221.4h0M93.5 318.5h0M201.5 275.7h0M231.4 262.0h0M153.6 322.8h0M156.5 290.6h0M62.9 354.1h0M280.4 228.7h0M128.9 329.5h0M184.4 287.8h0M197.6 263.8h0M166.9 287.8h0M215.1 271.0h0M156.3 288.8h0M134.6 305.6h0M132.6 344.6h0M102.7 313.4h0M170.6 313.6h0M121.1 294.8h0M181.0 308.4h0M172.5 320.7h0M153.4 314.4h0M194.3 293.5h0M148.4 296.0h0M159.5 277.7h0M236.0 279.3h0M198.0 286.1h0M196.1 277.0h0M43.4 354.5h0M242.7 262.9h0M157.1 315.4h0M181.9 288.4h0M86.1 306.3h0M165.8 290.5h0M160.3 296.2h0M132.6 296.9h0M198.1 278.7h0M205.7 286.8h0M86.5 323.8h0M162.5 286.3h0M165.1 316.5h0M178.8 308.7h0M55.1 344.1h0M206.0 303.4h0M164.6 290.0h0M210.8 282.8h0M137.7 332.5h0M177.9 300.7h0M227.7 267.9h0M152.1 320.3h0M137.9 335.7h0M112.8 285.7h0M138.9 325.9h0M44.6 349.9h0M194.3 281.2h0M111.4 306.1h0M47.1 357.1h0M78.4 349.4h0M175.5 316.6h0M203.3 277.4h0M52.2 345.7h0M72.0 334.5h0M171.6 300.1h0M163.1 310.8h0M173.9 321.7h0M173.9 307.8h0M115.6 306.9h0M100.8 314.0h0M136.1 294.2h0M195.4 311.8h0M106.4 349.0h0M103.7 303.6h0M132.6 303.2h0M183.3 307.2h0M96.9 354.9h0M168.1 307.1h0M174.1 310.4h0M95.2 314.2h0M102.5 310.6h0M156.5 295.1h0M115.2 304.5h0M185.5 279.7h0M158.6 294.6h0M153.3 314.2h0M148.0 278.8h0M180.7 263.5h0M120.1 294.5h0M193.0 290.0h0M194.9 280.6h0M181.8 284.6h0M151.7 282.5h0M130.0 329.5h0M172.6 279.8h0M187.5 279.7h0M173.6 307.4h0M177.9 299.2h0M149.1 293.2h0M101.4 310.3h0M101.5 343.6h0M201.3 300.5h0M206.8 278.9h0M186.9 299.7h0M174.3 286.4h0M70.5 334.9h0M185.1 297.7h0M194.7 306.1h0M172.3 290.7h0M89.1 349.7h0M237.5 251.5h0M141.1 325.4h0M87.9 322.9h0M209.1 272.2h0M88.5 317.7h0M148.6 288.0h0M198.1 278.7h0M227.3 259.7h0M136.8 325.2h0M121.8 335.9h0M197.5 288.6h0M80.8 350.7h0M174.5 308.2h0M216.9 269.2h0M62.8 340.9h0M196.6 293.3h0M127.4 303.4h0M158.4 307.1h0M174.5 300.9h0M202.6 287.6h0M138.7 299.9h0M129.6 300.2h0M227.8 275.2h0M72.1 356.2h0M178.1 324.1h0M149.9 287.4h0M190.3 281.8h0M214.9 283.6h0M119.8 341.7h0M51.0 342.4h0M112.7 310.0h0M95.7 351.2h0M304.2 225.8h0M223.2 270.1h0M69.9 334.7h0M138.9 300.6h0M119.6 301.2h0M43.2 337.2h0M43.3 356.2h0M206.6 283.5h0M181.8 294.3h0M197.2 306.8h0M123.7 333.0h0M203.4 283.2h0M57.0 356.8h0M167.2 284.9h0M209.2 296.3h0M123.6 337.3h0M140.5 348.0h0M183.6 297.0h0M206.1 279.9h0M126.1 331.3h0M121.8 300.4h0M73.5 350.3h0M104.1 338.5h0M130.7 328.2h0M175.6 282.7h0M64.0 359.9h0M140.7 345.1h0M129.8 304.7h0M185.8 300.3h0M118.9 302.6h0M153.7 281.2h0M88.8 322.7h0M115.9 296.8h0M187.0 293.4h0M199.4 279.9h0M177.2 287.6h0M123.2 329.5h0M157.6 313.3h0M163.7 283.4h0M164.5 314.8h0M107.9 305.8h0M208.8 285.9h0M102.8 303.4h0M308.6 225.1h0M185.7 278.4h0M165.6 296.9h0M92.8 346.7h0M190.5 292.4h0M60.6 342.6h0M161.2 310.8h0M102.0 346.8h0M180.0 291.5h0M89.1 346.0h0M82.9 323.0h0M169.0 313.3h0M100.5 313.9h0M184.4 296.4h0M164.8 289.8h0M212.9 275.3h0M202.3 282.2h0M109.8 311.2h0M180.1 301.3h0M202.9 273.7h0M45.0 354.5h0M168.7 290.1h0M180.6 281.5h0M88.5 345.8h0M134.2 328.5h0M105.1 307.0h0M206.9 283.9h0M118.7 306.7h0M105.4 311.9h0M262.9 263.5h0M155.0 289.4h0M83.4 353.6h0M184.1 287.0h0M234.3 291.0h0M152.0 280.6h0M140.4 329.4h0M177.8 290.4h0M190.7 295.8h0M98.7 308.9h0M123.8 288.3h0M200.8 295.7h0M90.9 349.0h0M134.4 292.9h0M198.6 305.0h0M148.2 286.2h0M248.5 257.5h0M121.4 302.7h0M153.6 271.8h0M147.6 297.8h0M101.9 315.9h0M106.1 344.5h0M158.3 291.8h0M97.3 314.9h0M209.7 276.4h0M195.0 279.8h0M161.9 334.8h0M105.2 341.3h0M201.0 289.1h0M182.9 300.4h0M84.1 348.4h0M167.0 291.5h0M118.3 302.5h0M201.8 275.2h0M184.9 309.4h0M120.4 299.5h0M50.4 356.5h0M58.7 356.3h0M167.6 292.6h0M170.0 290.6h0M177.0 282.8h0M136.1 299.7h0M194.9 288.8h0M146.9 301.2h0M144.8 285.5h0M92.2 313.9h0M114.0 336.4h0M78.9 328.0h0M202.2 283.6h0M185.5 309.6h0M108.1 309.6h0M44.9 354.2h0M94.0 320.1h0M125.2 302.9h0M177.5 305.0h0M186.9 293.8h0M181.8 301.6h0M189.3 279.7h0M144.1 337.0h0M133.0 329.8h0M137.7 327.4h0M195.0 279.1h0M246.5 263.1h0M163.0 309.4h0M204.0 268.0h0M213.3 286.1h0M108.4 309.1h0M223.8 262.0h0M145.2 296.0h0M189.6 303.6h0M196.1 274.6h0M45.5 357.5h0M106.1 302.7h0M134.1 327.6h0M163.4 312.7h0M81.8 327.4h0M88.6 346.3h0M123.8 303.1h0M197.9 280.6h0M222.5 261.2h0M239.3 259.5h0M136.4 330.8h0M218.3 270.9h0M89.6 318.7h0M198.6 281.0h0M184.8 299.2h0M181.0 315.4h0M188.8 291.6h0M194.0 306.9h0M70.1 326.5h0M174.2 300.5h0M62.3 332.1h0M179.2 304.1h0M155.4 340.2h0M209.7 286.0h0M74.2 350.3h0M170.6 301.4h0M119.6 305.3h0M250.3 247.2h0M91.8 347.0h0M105.4 340.0h0M206.6 277.0h0M179.5 280.2h0M93.7 344.1h0M102.6 339.9h0M183.8 284.7h0M82.3 325.4h0M173.8 287.1h0M141.4 288.0h0M77.6 324.2h0M155.8 300.9h0M116.8 335.9h0M212.7 281.8h0M98.5 351.5h0M54.6 356.4h0M189.7 275.0h0M49.2 356.1h0M119.4 303.9h0M137.2 325.7h0M202.2 274.5h0M51.1 356.4h0M228.4 268.2h0M147.3 297.8h0M122.2 334.8h0M156.4 289.5h0M80.4 323.6h0M291.4 236.8h0M177.5 290.7h0M111.3 301.7h0M226.2 264.2h0M159.1 293.7h0M202.2 287.5h0M204.7 273.1h0M128.7 338.5h0M180.8 284.6h0M143.7 297.3h0M220.7 266.1h0M198.8 280.8h0M165.6 296.3h0M135.0 302.3h0M111.5 310.9h0M169.0 305.0h0M209.7 262.3h0M86.7 319.8h0M217.8 266.1h0M237.1 252.1h0M44.0 354.2h0M206.1 271.5h0M89.0 349.4h0M46.8 346.2h0M96.8 362.1h0M178.0 301.0h0M153.4 301.4h0M141.0 334.9h0M101.0 313.0h0M195.2 285.0h0M188.2 303.9h0M189.4 300.9h0M197.3 296.7h0M97.7 342.7h0M119.5 298.4h0M201.6 265.8h0M177.8 293.9h0M161.7 294.7h0M125.0 342.1h0M173.3 272.7h0M162.7 280.5h0M196.1 274.2h0M191.5 257.9h0M218.7 269.5h0M169.2 283.2h0M47.9 361.3h0M194.5 261.5h0M181.0 300.0h0M136.5 332.1h0M175.2 304.0h0M72.4 331.1h0M136.0 287.5h0M177.3 320.8h0M158.5 295.4h0M157.7 274.3h0M92.6 316.9h0M44.7 347.4h0M126.2 333.1h0M109.6 302.6h0M98.6 345.2h0M49.3 357.4h0M87.9 322.8h0M140.1 325.7h0M223.7 265.0h0M147.7 320.9h0M196.7 299.3h0M180.7 296.0h0M140.2 325.3h0M47.9 346.3h0M182.3 303.8h0M226.8 256.1h0M198.3 277.2h0M227.1 270.9h0M177.4 284.6h0M112.6 288.1h0M43.4 349.4h0M166.4 286.9h0M192.8 291.5h0M123.5 298.8h0M179.7 292.5h0M128.4 330.4h0M172.9 314.8h0M121.4 339.7h0M107.0 342.9h0M150.2 285.1h0M169.8 303.6h0M191.7 273.6h0M180.5 306.0h0M71.8 352.0h0M186.7 275.2h0M148.3 321.4h0M262.9 237.0h0M66.6 352.1h0M47.6 346.7h0M156.8 329.4h0M161.6 294.2h0M103.3 311.6h0M76.2 351.1h0M156.3 296.7h0M167.4 310.2h0M219.5 285.8h0M170.8 302.5h0M182.8 302.8h0M164.1 312.8h0M180.8 282.3h0M162.4 292.8h0M148.5 266.8h0M205.8 270.2h0M120.9 306.1h0M166.1 308.8h0M181.1 262.9h0M196.1 288.6h0M122.3 329.3h0M72.7 351.4h0M43.3 352.3h0M61.9 355.8h0M94.8 346.0h0M179.6 301.8h0M175.1 291.1h0M146.1 298.7h0M180.2 277.7h0M187.8 279.4h0M116.9 307.5h0M256.5 253.5h0M160.5 292.6h0M171.1 289.6h0M68.7 336.5h0M113.1 338.8h0M83.4 315.0h0M72.1 350.2h0M138.3 329.4h0M270.7 238.4h0M256.8 246.8h0M47.6 357.5h0M160.8 291.7h0M190.0 295.1h0M144.9 325.4h0M76.3 328.3h0M201.8 286.3h0M122.7 336.3h0M178.8 274.1h0M170.7 272.7h0M44.7 352.3h0M188.5 290.6h0M202.5 289.9h0M212.1 284.2h0M86.2 314.3h0M47.8 346.0h0M201.2 280.0h0M192.1 292.1h0M275.9 235.9h0M236.0 264.4h0M156.1 310.6h0M180.6 282.7h0M217.5 270.6h0M43.0 350.7h0M247.0 230.3h0M72.3 326.8h0M131.2 296.0h0M258.5 240.0h0M186.6 313.2h0M67.7 335.7h0M223.7 261.5h0M61.6 341.9h0M158.4 289.5h0M148.4 296.5h0M123.3 296.5h0M44.6 355.9h0M161.7 276.8h0M125.1 295.2h0M141.6 330.8h0M163.3 315.1h0M67.4 337.5h0M183.2 302.2h0M229.3 265.5h0M211.0 292.1h0M56.0 358.4h0M122.0 294.1h0M194.5 279.1h0M148.9 325.2h0M182.4 296.1h0M127.2 329.5h0M200.3 271.5h0M216.8 275.4h0M52.3 342.4h0M53.0 345.2h0M191.2 291.7h0M87.7 347.6h0M236.9 250.4h0M58.1 357.5h0M135.2 290.1h0M144.2 299.2h0M161.3 311.0h0M102.1 341.0h0M116.6 341.3h0M127.7 293.8h0M50.9 343.2h0M94.2 346.7h0M49.1 346.7h0M199.0 275.7h0M83.2 324.5h0M210.4 273.5h0M117.3 304.6h0M44.0 355.7h0M178.9 292.4h0M122.1 293.8h0M181.8 311.4h0M101.9 353.5h0M170.4 281.1h0M158.8 308.1h0M66.3 334.6h0M184.7 299.2h0M82.3 358.1h0M152.8 331.1h0M217.0 280.9h0M100.5 344.0h0M207.7 270.5h0M157.7 315.6h0M100.0 307.9h0M73.3 335.7h0M188.8 296.9h0M138.4 334.6h0M188.4 283.3h0M243.9 255.2h0M206.2 284.3h0M204.0 285.1h0M171.9 300.9h0M191.5 289.4h0M101.7 342.0h0M153.9 286.4h0M98.1 315.2h0M179.8 308.6h0M181.3 292.5h0M215.9 274.3h0M188.2 272.8h0M162.5 290.7h0M98.7 309.4h0M206.3 295.3h0M227.0 282.4h0M81.2 347.3h0M172.7 315.0h0M156.0 311.0h0M228.6 261.9h0M118.2 294.8h0M109.1 307.7h0M205.4 293.3h0M158.5 316.6h0M131.5 330.3h0M221.5 273.7h0M123.4 310.1h0M176.4 320.7h0M164.9 307.7h0M214.8 282.6h0M178.3 296.9h0M93.8 313.5h0M43.3 353.9h0M81.7 321.9h0M60.4 356.4h0M133.5 330.7h0M182.8 303.7h0M161.4 296.8h0M195.7 274.4h0M60.1 354.0h0M228.3 262.6h0M149.6 281.1h0M104.2 342.2h0M108.8 304.1h0M232.1 262.3h0M52.3 356.4h0M73.5 336.0h0M161.2 288.4h0M62.6 356.5h0M126.9 332.3h0M151.5 324.7h0M233.6 253.6h0M135.6 339.8h0M117.7 341.0h0M195.1 293.5h0M135.9 291.4h0M179.7 287.8h0M78.1 324.8h0M218.9 296.2h0M112.3 310.0h0M53.9 342.0h0M150.4 294.7h0M180.1 299.0h0M43.3 354.4h0M158.1 288.7h0M115.7 307.4h0M63.0 339.7h0M126.8 302.8h0M214.4 267.1h0M45.0 354.8h0M94.9 300.4h0M129.1 332.6h0M205.2 282.7h0M112.5 310.7h0M196.4 285.8h0M74.1 324.9h0M97.7 314.7h0M192.9 288.0h0M190.7 276.9h0M43.9 354.4h0M78.8 329.7h0M203.3 281.2h0M146.5 326.9h0M66.0 354.5h0M106.2 339.3h0M274.9 251.0h0M190.8 293.6h0M81.5 348.0h0M142.8 324.5h0M154.2 289.6h0M172.8 286.5h0M108.0 306.8h0M48.8 332.4h0M171.8 301.7h0M138.4 298.3h0M95.7 310.6h0M160.3 290.3h0M164.9 288.2h0M110.0 299.6h0M127.7 283.9h0M140.0 330.6h0M188.5 300.2h0M105.5 340.2h0M236.5 259.1h0M176.7 285.9h0M110.2 304.7h0M129.9 343.0h0M44.7 357.7h0M81.4 321.1h0M198.4 265.2h0M172.3 306.9h0M118.2 348.0h0M115.5 304.7h0M119.0 286.0h0M233.5 273.4h0M102.3 337.3h0M188.5 277.5h0M192.2 283.8h0M152.1 296.2h0M135.9 299.4h0M156.4 297.3h0M174.7 291.0h0M190.4 284.2h0M213.5 300.5h0M143.9 343.4h0M61.6 334.2h0M303.0 222.8h0M170.0 307.6h0M170.0 322.5h0M126.1 285.2h0M133.1 300.6h0M132.6 300.5h0M112.5 306.2h0M141.3 341.6h0M104.1 337.4h0M191.3 282.7h0M173.7 303.9h0M73.3 335.7h0M73.9 333.8h0M95.6 343.6h0M210.2 278.5h0M44.8 348.6h0M143.9 291.3h0M189.9 281.9h0M152.6 286.9h0M194.0 285.0h0M108.9 351.9h0M49.9 361.0h0M170.4 306.4h0M187.8 277.5h0M106.9 306.4h0M60.7 341.5h0M193.2 284.4h0M95.0 319.5h0M199.6 289.5h0M132.4 297.0h0M139.3 328.5h0M132.4 304.7h0M172.7 301.2h0M178.9 253.6h0M218.9 268.5h0M205.1 287.7h0M125.1 331.6h0M152.3 327.6h0M113.6 286.9h0M91.9 345.7h0M178.4 289.1h0M111.2 313.5h0M147.0 286.6h0M154.4 315.9h0M186.9 300.4h0M155.1 295.1h0M45.8 357.2h0M177.3 280.6h0M159.7 275.4h0M109.2 344.5h0M70.0 351.6h0M113.2 338.3h0M200.1 297.1h0M190.0 276.8h0M193.2 269.7h0M43.8 355.7h0M141.3 333.1h0M107.0 311.6h0M67.5 334.7h0M119.7 349.3h0M178.0 282.7h0M102.2 313.8h0M120.9 305.6h0M72.6 325.2h0M185.3 300.2h0M131.9 297.3h0M122.8 334.1h0M123.6 310.8h0M96.4 311.2h0M176.8 276.9h0M163.4 294.9h0M77.2 323.2h0M172.4 289.0h0M205.3 276.5h0M202.0 285.4h0M175.0 299.3h0M44.4 354.7h0M90.7 345.9h0M150.4 258.9h0M194.5 271.9h0M191.3 273.7h0M124.6 332.8h0M195.8 295.1h0M142.6 295.6h0M143.5 299.0h0M250.1 260.0h0M130.4 305.4h0M50.9 345.1h0M238.2 247.2h0M80.7 329.3h0M208.1 272.8h0M94.1 347.4h0M91.5 347.0h0M232.8 265.0h0M174.1 287.2h0M94.3 349.5h0M151.0 287.6h0M138.0 325.2h0M213.8 279.7h0M192.2 300.4h0M166.8 316.8h0M195.4 289.7h0M96.7 309.9h0M102.3 340.0h0M187.3 264.9h0M213.9 281.7h0M150.0 323.1h0M52.3 345.5h0M225.7 282.5h0M214.2 249.1h0M271.2 246.7h0M144.5 324.6h0M84.0 323.6h0M173.8 287.9h0M134.3 271.9h0M163.5 291.5h0M189.9 294.2h0M161.2 288.3h0M153.6 290.2h0M112.7 344.4h0M126.4 331.2h0M122.1 308.7h0M220.0 266.8h0M152.0 333.1h0M43.0 352.4h0M147.1 276.4h0M165.3 311.0h0M264.1 237.5h0M136.9 329.9h0M88.0 350.8h0M217.0 261.3h0M88.2 322.7h0M127.4 294.9h0M158.3 311.1h0M154.0 295.4h0M141.4 327.3h0M149.4 323.6h0M244.8 288.2h0M171.3 311.4h0M158.6 317.2h0M173.0 308.8h0M178.3 307.9h0M201.3 273.9h0M171.8 300.0h0M177.3 296.3h0M96.6 345.8h0M133.8 332.3h0M202.7 277.1h0M146.6 324.3h0M152.7 291.3h0M100.6 316.4h0M113.5 337.4h0M116.7 334.9h0M157.3 283.1h0M177.7 316.6h0M43.9 353.0h0M205.9 270.1h0M105.6 309.4h0M145.2 320.6h0M185.2 271.5h0M124.8 301.6h0M103.2 338.1h0M100.8 310.7h0M145.4 294.3h0M191.6 295.5h0M184.3 269.8h0M161.5 287.4h0M211.4 293.2h0M91.6 349.1h0M151.4 294.5h0M124.1 333.3h0M152.3 317.8h0M111.4 302.9h0M204.8 265.6h0M193.8 273.1h0M183.4 273.9h0M177.9 282.5h0M165.6 265.7h0M141.4 338.5h0M44.2 354.5h0M171.4 300.1h0M178.5 307.6h0M106.7 339.5h0M162.9 292.7h0M153.3 348.4h0M231.4 260.6h0M250.1 264.6h0M168.4 313.5h0M249.7 255.6h0M158.5 281.0h0M89.4 345.0h0M156.0 290.5h0M178.1 302.9h0M136.7 331.6h0M211.9 281.4h0M132.6 301.4h0M191.6 290.3h0M135.6 301.3h0M43.7 353.5h0M172.4 280.7h0M192.2 300.1h0M178.3 292.9h0M111.7 285.3h0M199.8 301.1h0M144.4 320.5h0M157.4 311.2h0M238.5 261.4h0M49.0 357.5h0M68.2 352.1h0M48.1 357.2h0M206.2 294.3h0M77.9 330.1h0M117.4 303.4h0M157.5 291.7h0M89.4 306.9h0M223.8 267.5h0M184.8 276.4h0M201.6 275.1h0M193.3 272.4h0M83.4 325.7h0M201.1 285.0h0M165.7 307.5h0M145.6 291.9h0M180.3 305.0h0M115.6 307.3h0M177.2 306.0h0M124.5 305.9h0M101.0 312.2h0M141.6 295.6h0M178.4 263.0h0M208.6 262.7h0M141.5 325.3h0M162.2 311.9h0M204.9 281.1h0M143.8 302.0h0M53.5 356.1h0M215.5 260.6h0M180.1 303.7h0M92.5 313.2h0M208.6 260.5h0M123.8 295.9h0M201.5 269.0h0M226.4 260.3h0M124.9 337.2h0M202.4 269.5h0M185.9 288.9h0M86.3 317.4h0M138.2 330.7h0M127.7 305.5h0M165.6 322.5h0M190.3 274.4h0M177.9 310.3h0M249.3 259.4h0M252.2 251.5h0M231.0 253.0h0M198.1 292.0h0M175.4 332.5h0M239.7 258.1h0M208.2 293.6h0M216.2 267.2h0M43.1 354.0h0M90.2 304.2h0M82.6 326.6h0M167.8 308.4h0M228.9 275.1h0M157.3 320.2h0M105.0 296.2h0M248.7 263.9h0M192.2 281.7h0M203.5 281.2h0M70.0 351.9h0M192.3 264.0h0M193.4 278.6h0M100.4 309.3h0M121.7 303.6h0M125.7 338.6h0M161.9 284.4h0M75.8 332.6h0M44.7 354.5h0M153.1 291.9h0M181.4 290.5h0M177.2 289.0h0M121.6 344.7h0M175.1 290.1h0M115.3 309.1h0M129.2 300.5h0M165.2 294.9h0M124.9 309.2h0M118.0 302.7h0M130.2 302.3h0M179.9 298.6h0M141.1 328.6h0M187.0 303.1h0M145.0 324.3h0M152.9 320.2h0M221.1 266.9h0M150.8 284.0h0M160.5 286.4h0M184.0 299.0h0M44.9 356.6h0M43.9 351.7h0M102.6 284.6h0M192.2 284.5h0M192.1 303.6h0M106.0 314.7h0M201.2 284.5h0M177.7 296.9h0M183.6 297.0h0M55.2 355.2h0M73.6 334.6h0M116.8 306.0h0M81.6 349.2h0M175.6 273.9h0M177.0 271.1h0M93.4 308.7h0M218.4 270.2h0M204.6 297.3h0M46.8 347.3h0M164.0 292.7h0M173.3 309.6h0M163.3 312.4h0M143.6 289.5h0M60.8 354.6h0M177.2 293.9h0M156.4 283.6h0M54.2 339.0h0M188.8 304.5h0M170.5 280.9h0M289.5 227.6h0M170.4 271.7h0M218.3 278.9h0M238.6 274.4h0M44.9 349.1h0M124.9 286.8h0M198.9 292.4h0M47.1 346.9h0M197.0 279.3h0M150.8 270.9h0M109.6 306.3h0M89.9 312.9h0M134.3 300.6h0M239.9 271.8h0M97.5 342.1h0M280.1 225.9h0M154.4 289.9h0M212.9 267.2h0M44.0 354.2h0M138.1 284.9h0M177.4 296.6h0M114.2 353.4h0M137.1 328.8h0M134.1 336.4h0M108.5 305.5h0M129.2 296.8h0M205.6 285.8h0M200.3 291.6h0M178.9 288.0h0M136.3 347.2h0M159.3 313.8h0M61.8 340.3h0M223.4 262.2h0M142.7 295.0h0M60.9 358.1h0M79.4 329.5h0M201.0 285.0h0M106.5 346.8h0M179.6 300.5h0M191.5 301.6h0M84.3 349.4h0M183.2 278.6h0M193.4 283.4h0M173.2 307.1h0M90.4 320.0h0M49.4 356.2h0M159.9 296.5h0M71.3 326.4h0M155.4 323.6h0M151.4 320.1h0M116.4 308.2h0M96.6 313.7h0M121.7 287.0h0M136.5 298.7h0M187.4 290.8h0M112.6 339.2h0M71.1 352.3h0M108.2 308.3h0M186.6 306.9h0M203.8 291.1h0M60.1 332.2h0M167.7 313.6h0M141.1 324.0h0M236.6 278.6h0M167.8 311.1h0M101.4 344.4h0M179.6 275.9h0M172.2 285.9h0M128.0 335.4h0M106.9 310.2h0M61.9 340.3h0M155.1 322.1h0M43.9 349.6h0M153.4 300.8h0M188.7 272.3h0M139.3 270.0h0M130.4 333.4h0M186.5 284.1h0M127.0 302.2h0M188.9 297.0h0M250.2 238.5h0M128.9 347.9h0M202.0 288.7h0M80.5 323.5h0M139.2 329.9h0M186.7 280.1h0M186.2 306.3h0M151.3 339.1h0M104.4 360.4h0M69.0 321.6h0M163.7 285.3h0M78.3 324.4h0M64.6 354.4h0M73.4 328.3h0M126.1 300.5h0M242.6 252.9h0M192.1 290.0h0M81.6 347.3h0M173.2 306.1h0M159.3 325.5h0M155.8 331.7h0M137.0 329.3h0M90.0 319.3h0M126.1 305.8h0M167.8 309.2h0M123.2 309.8h0M168.0 308.2h0M112.9 304.9h0M222.9 278.6h0M153.7 284.5h0M218.8 276.4h0M80.8 327.5h0M163.9 291.0h0M87.7 348.3h0M113.3 308.4h0M116.0 304.8h0M102.3 307.8h0M158.2 312.9h0M185.9 278.5h0M88.6 316.3h0M127.6 284.4h0M75.8 349.3h0M214.0 289.4h0M108.5 343.5h0M155.7 296.4h0M132.0 303.7h0M47.7 346.8h0M178.4 293.9h0M174.1 288.2h0M145.9 294.6h0M176.5 280.5h0M174.0 313.9h0M98.5 310.5h0M172.1 289.3h0M194.5 291.1h0M170.0 343.2h0M187.0 296.8h0M66.9 356.2h0M213.2 262.1h0M188.1 304.2h0M139.2 335.1h0M79.5 348.1h0M172.5 283.8h0M161.1 311.3h0M219.4 244.5h0M185.6 297.8h0M217.5 288.1h0M147.2 298.8h0M123.6 333.5h0M157.3 322.5h0M145.0 323.1h0M156.2 328.2h0M44.9 343.3h0M183.3 290.7h0M202.3 298.0h0M141.5 297.0h0M144.3 330.1h0M126.3 300.0h0M139.6 285.1h0M230.7 263.4h0M282.5 236.7h0M178.8 315.1h0M178.0 299.1h0M185.8 261.4h0M140.1 296.3h0M191.7 300.7h0M153.0 322.1h0M183.5 282.4h0M85.5 322.1h0M181.2 288.3h0M43.7 354.0h0M57.9 359.1h0M111.9 350.0h0M102.3 304.7h0M115.8 306.3h0M122.2 304.9h0M152.3 294.8h0M47.3 359.1h0M134.3 300.9h0M169.0 314.4h0M100.9 344.5h0M89.8 346.6h0M294.8 257.2h0M85.6 347.3h0M104.7 340.4h0M120.7 300.5h0M180.8 286.0h0M112.9 339.5h0M44.0 353.7h0M127.3 343.3h0M100.5 316.6h0M168.9 263.7h0M206.2 281.6h0M165.6 311.1h0M146.2 291.5h0M150.3 294.8h0M98.2 314.7h0M140.5 269.8h0M134.4 327.7h0M92.8 320.1h0M193.9 275.5h0M131.8 332.3h0M103.0 342.0h0M157.8 289.7h0M243.1 265.4h0M113.8 303.1h0M216.3 268.6h0M211.1 276.3h0M230.5 250.4h0M94.6 304.3h0M161.6 318.7h0M185.8 301.2h0M109.3 311.8h0M130.1 304.3h0M218.1 262.6h0M204.4 276.4h0M117.9 309.0h0M118.5 297.2h0M165.0 319.7h0M200.3 286.9h0M125.1 303.5h0M162.5 293.6h0M136.0 287.5h0M142.7 347.9h0M239.7 263.7h0M187.4 286.9h0M74.7 330.6h0M130.0 302.7h0M147.4 319.9h0M235.1 256.4h0M165.2 290.5h0M205.6 280.7h0M177.1 302.9h0M43.6 350.7h0M170.8 285.8h0M196.5 297.1h0M189.8 265.9h0M141.3 296.7h0M125.1 274.4h0M92.8 317.9h0M205.3 268.4h0M199.6 275.7h0M106.0 310.1h0M136.6 337.6h0M136.5 304.1h0M149.3 295.0h0M63.9 338.4h0M139.1 296.4h0M192.4 290.7h0M174.4 312.0h0M211.1 281.2h0M180.8 291.5h0M151.1 318.5h0M141.3 330.4h0M104.1 309.5h0M242.8 284.6h0M144.5 324.6h0M171.8 309.6h0M182.0 315.1h0M47.6 347.0h0M184.3 281.8h0M200.7 278.9h0M171.9 283.7h0M111.9 339.4h0M183.5 283.6h0M176.6 291.1h0M90.0 364.6h0M77.2 331.9h0M220.0 264.7h0M151.8 290.8h0M135.7 294.2h0M151.6 288.1h0M199.5 304.7h0M160.5 317.4h0M258.0 263.8h0M93.8 350.4h0M248.3 238.1h0M201.9 289.0h0M158.2 271.7h0M222.5 269.5h0M208.6 270.2h0M136.4 324.3h0M190.8 292.2h0M209.5 293.6h0M133.1 300.2h0M223.0 291.5h0M76.7 349.6h0M219.3 286.3h0M199.7 293.6h0M117.9 308.5h0M188.3 281.9h0M184.7 287.6h0M94.2 350.3h0M209.4 273.6h0M187.4 286.5h0M113.4 308.3h0M143.4 286.7h0M193.3 278.1h0M210.6 301.8h0M179.0 312.7h0M157.9 307.3h0M68.5 334.8h0M171.8 307.1h0M181.4 308.5h0M112.6 339.3h0M104.8 350.0h0M56.8 341.7h0M179.6 281.1h0M252.0 256.2h0M45.8 360.8h0M177.4 277.0h0M42.9 355.6h0M168.0 287.5h0M127.7 332.4h0M177.2 295.2h0M135.1 329.1h0M180.9 296.7h0M175.8 308.9h0M93.0 346.5h0M120.4 303.7h0M220.2 296.2h0M159.8 317.4h0M258.8 231.6h0M232.8 258.9h0M178.5 287.8h0M112.0 312.2h0M183.2 305.9h0M153.2 316.1h0M56.4 356.0h0M208.2 275.1h0M93.4 351.9h0M176.4 301.8h0M44.6 349.5h0M209.1 269.3h0M176.1 315.5h0M145.3 323.5h0M150.9 292.9h0M203.0 282.8h0M163.3 282.6h0M130.3 338.2h0M231.2 263.9h0M87.2 349.0h0M153.1 327.5h0M180.2 284.9h0M48.5 347.0h0M169.9 281.3h0M188.4 294.6h0M159.1 316.1h0M163.9 292.4h0M258.4 244.0h0M295.8 227.1h0M176.4 289.6h0M174.2 305.0h0M119.4 292.1h0M124.2 302.3h0M188.4 288.7h0M128.5 298.7h0M177.6 277.2h0M47.5 343.9h0M131.5 328.4h0M171.6 284.5h0M108.9 302.7h0M200.5 284.6h0M139.4 300.9h0M45.5 348.3h0M127.0 302.7h0M140.6 334.2h0M176.9 291.8h0M188.2 302.3h0M177.1 294.0h0M130.2 304.5h0M154.4 318.2h0M69.8 352.2h0M84.7 352.1h0M227.5 263.6h0M60.9 361.9h0M150.3 287.5h0M45.2 347.8h0M190.5 294.1h0M202.0 296.3h0M200.4 280.6h0M138.8 271.2h0M142.7 324.5h0M91.2 295.8h0M78.6 319.0h0M195.3 278.7h0M151.0 321.2h0M228.1 273.7h0M68.9 336.1h0M175.3 279.8h0M205.1 288.2h0M101.3 312.8h0M106.8 345.5h0M121.6 299.6h0M182.7 302.5h0M189.0 281.6h0M80.4 329.0h0M125.1 330.0h0M73.4 350.4h0M107.0 339.1h0M116.6 310.4h0M192.1 298.2h0M87.9 353.6h0M187.5 275.6h0M212.7 270.6h0M141.3 291.9h0M172.2 262.3h0M155.3 294.4h0M105.3 304.4h0M200.4 274.6h0M102.3 309.0h0M182.4 291.6h0M203.9 298.8h0M213.1 271.5h0M137.4 301.5h0M64.7 354.2h0M55.7 340.2h0M201.9 291.6h0M255.2 252.4h0M155.8 321.8h0M282.9 234.6h0M211.0 275.3h0M173.2 281.5h0M93.6 317.6h0M172.2 282.3h0M122.3 308.3h0M185.1 304.0h0M128.7 303.3h0M187.3 297.9h0M154.4 319.8h0M75.0 356.6h0M198.1 284.6h0M157.8 296.3h0M71.6 352.6h0M164.6 310.2h0M89.3 321.0h0M146.9 290.4h0M75.9 349.6h0M213.2 284.0h0M65.3 354.2h0M155.1 315.9h0M82.3 304.4h0M140.8 346.4h0M293.1 216.8h0M175.7 279.5h0M199.3 280.8h0M210.9 253.4h0M58.7 342.2h0M161.3 306.6h0M94.4 308.0h0M134.2 292.8h0M186.1 312.5h0M166.4 286.9h0M114.3 337.3h0M161.1 293.8h0M176.9 300.7h0M99.3 301.9h0M113.7 301.2h0M195.7 286.5h0M46.8 347.8h0M201.7 275.9h0M165.1 287.5h0M233.8 261.5h0M43.2 358.5h0M55.8 362.1h0M172.9 283.0h0M181.7 303.3h0M155.0 317.7h0M200.2 272.2h0M119.9 345.0h0M117.9 305.2h0M185.5 306.7h0M113.4 300.1h0M195.8 300.3h0M139.9 328.0h0M244.1 254.5h0M43.6 354.1h0M245.6 263.3h0M224.1 253.6h0M224.0 252.8h0M167.1 291.4h0M101.4 296.1h0M124.2 303.4h0M221.4 256.0h0M52.3 356.6h0M153.9 317.6h0M188.4 292.8h0M77.7 325.7h0M229.5 281.0h0M44.5 355.0h0M136.7 297.3h0M187.6 287.9h0M200.6 278.8h0M192.9 296.0h0M42.9 354.6h0M213.2 266.1h0M98.1 343.8h0M87.8 317.9h0M98.5 345.7h0M153.4 295.5h0M166.5 316.1h0M191.5 280.8h0M63.8 357.1h0M209.9 289.7h0M151.3 294.7h0M182.9 302.5h0M187.4 294.4h0M197.6 288.1h0M208.7 276.8h0M124.5 292.8h0M140.7 331.2h0M136.2 299.4h0M127.0 335.5h0M138.1 298.2h0M98.4 314.4h0M208.9 287.5h0M102.9 312.8h0M179.8 299.2h0M202.8 293.4h0M174.0 303.7h0M177.6 305.2h0M165.2 294.1h0M205.0 278.4h0M157.4 309.0h0M73.0 332.1h0M157.7 317.8h0M198.0 272.9h0M166.4 289.9h0M95.5 313.9h0M123.1 331.1h0M174.6 304.1h0M218.6 265.1h0M167.5 309.7h0M88.8 359.6h0M63.0 339.4h0M129.2 328.0h0M92.3 293.2h0M45.0 352.9h0M173.8 289.0h0M176.3 284.4h0M137.2 328.8h0M149.8 295.4h0M185.1 279.8h0M120.0 335.5h0M93.4 315.8h0M43.6 354.1h0M89.3 345.5h0M43.7 353.6h0M195.0 267.6h0M204.1 284.8h0M183.0 287.7h0M166.9 309.4h0M125.1 334.5h0M117.4 334.4h0M120.7 340.6h0M178.3 296.1h0M153.7 316.1h0M136.5 291.0h0M83.3 352.2h0M195.0 289.6h0M147.9 297.2h0M172.5 312.3h0M146.3 329.2h0M139.7 295.8h0M163.1 294.8h0M43.3 353.2h0M113.9 306.3h0M179.6 266.2h0M43.6 354.1h0M109.7 313.0h0M196.9 274.4h0M116.0 310.8h0M145.0 325.0h0M72.2 333.8h0M96.5 305.6h0M158.2 311.9h0M179.6 307.1h0M199.4 298.6h0M193.0 281.5h0M43.0 353.0h0M152.0 325.2h0M153.1 317.5h0M173.6 299.9h0M167.8 310.9h0M64.9 337.5h0M83.7 322.0h0M223.1 264.7h0M86.0 315.5h0M125.3 302.0h0M244.6 240.5h0M77.3 348.5h0M158.8 314.8h0M107.1 314.4h0M175.8 288.8h0M44.9 351.4h0M134.6 288.6h0M166.1 314.5h0M109.5 310.5h0M69.4 356.2h0M190.0 301.3h0M102.8 308.5h0M226.7 255.3h0M204.9 276.5h0M148.7 319.7h0M181.6 301.4h0M184.3 286.3h0M118.1 336.9h0M122.1 300.8h0M79.3 348.1h0M285.2 232.3h0M125.8 305.4h0M138.7 328.2h0M197.5 294.6h0M64.6 338.6h0M162.9 315.6h0M87.2 347.4h0M107.1 314.3h0M91.8 345.6h0M135.3 327.8h0M81.1 347.8h0M240.0 271.3h0M107.9 312.8h0M290.3 212.4h0M189.8 273.3h0M217.5 280.6h0M133.2 297.5h0M141.4 293.4h0M243.8 267.9h0M108.3 302.7h0M43.5 354.1h0M158.5 315.5h0M172.5 306.9h0M195.7 295.9h0M70.1 334.8h0M162.1 286.7h0M251.2 244.9h0M172.4 309.3h0M106.4 301.4h0M93.7 317.8h0M150.9 290.4h0M50.8 356.4h0M177.2 269.0h0M133.6 330.6h0M66.8 352.4h0M120.2 335.1h0M186.4 274.5h0M179.8 284.2h0M127.8 302.6h0M128.3 300.6h0M207.1 278.9h0M199.6 279.9h0M75.9 330.2h0M196.0 260.8h0M163.5 285.6h0M44.0 353.4h0M191.5 299.1h0M135.7 341.0h0M152.8 298.4h0M59.7 340.7h0M217.6 249.7h0M157.4 321.5h0M183.7 296.9h0M236.6 280.3h0M174.9 283.9h0M199.3 283.0h0M179.0 307.2h0M213.8 295.1h0M43.3 361.3h0M55.7 356.4h0M138.0 328.6h0M183.8 275.6h0M123.0 341.8h0M189.1 299.0h0M173.4 313.5h0M171.1 325.7h0M169.7 279.4h0M116.5 339.1h0M141.7 326.3h0M155.1 291.0h0M138.0 299.2h0M194.6 277.1h0M146.1 289.3h0M191.5 300.9h0M205.6 284.7h0M104.8 309.3h0M136.3 327.7h0M115.6 339.1h0M186.5 300.1h0M150.1 338.4h0M118.1 297.4h0M155.5 289.8h0M185.7 275.5h0M219.7 267.4h0M206.4 270.5h0M172.6 312.4h0M108.8 342.2h0M88.9 355.5h0M134.7 341.3h0M182.1 304.9h0M43.6 345.8h0M72.1 328.8h0M60.4 343.0h0M113.6 308.1h0M193.2 284.5h0M161.5 293.7h0M170.4 309.3h0M193.3 300.3h0M166.3 327.0h0M214.8 277.5h0M110.5 339.5h0M169.0 284.0h0M170.2 290.0h0M153.5 263.4h0M64.0 339.5h0M281.4 227.0h0M177.4 313.5h0M172.8 321.9h0M178.3 287.5h0M210.5 287.2h0M59.9 340.8h0M233.8 270.3h0M201.0 273.3h0M124.4 332.7h0M85.3 317.9h0M50.8 335.5h0M193.6 280.4h0M122.2 340.7h0M109.6 342.8h0M64.8 354.1h0M179.7 287.4h0M43.5 352.1h0M104.4 341.1h0M151.2 289.2h0M202.0 289.0h0M130.2 334.7h0M148.4 329.7h0M64.4 354.3h0M159.0 278.5h0M186.1 291.6h0M188.3 294.6h0M164.6 313.1h0M90.0 322.5h0M179.6 309.6h0M90.7 316.1h0M88.2 312.4h0M101.8 362.4h0M138.6 297.6h0M135.7 300.5h0M44.0 352.5h0M174.4 286.8h0M83.0 325.6h0M193.4 295.9h0M105.2 345.3h0M131.2 286.8h0M124.2 306.2h0M131.9 301.3h0M103.0 343.0h0M150.6 290.3h0M177.8 293.2h0M162.5 322.2h0M226.6 279.5h0M310.9 208.1h0M222.2 281.2h0M133.3 338.0h0M51.8 345.5h0M131.7 301.8h0M162.8 337.4h0M83.3 348.0h0M138.5 324.1h0M57.8 342.9h0M148.7 319.7h0M102.9 308.3h0M192.1 270.5h0M106.4 313.2h0M122.3 330.1h0M55.8 344.0h0M146.2 342.5h0M105.3 338.1h0M43.5 350.5h0M192.1 288.3h0M129.1 304.5h0M193.4 276.4h0M185.6 301.8h0M213.6 283.0h0M154.4 295.8h0M165.2 280.3h0M116.6 334.3h0M200.6 281.8h0M103.4 310.7h0M139.4 262.3h0M186.9 285.9h0M140.4 288.9h0M147.0 319.6h0M208.6 261.4h0M219.5 266.6h0M218.0 277.7h0M53.0 340.7h0M320.8 228.8h0M210.8 247.0h0M170.2 267.8h0M204.7 277.0h0M208.5 280.1h0M230.2 261.2h0M130.2 329.0h0M54.2 356.3h0M58.2 341.4h0M193.8 279.4h0M97.8 311.8h0M145.6 291.1h0M145.1 320.6h0M104.1 344.5h0M156.4 311.9h0M147.9 324.1h0M131.1 332.7h0M136.1 331.9h0M191.0 283.1h0M138.8 330.5h0M105.3 339.7h0M176.8 284.1h0M218.7 283.8h0M92.3 351.2h0M146.4 295.2h0M196.3 281.7h0M59.5 338.8h0M196.2 284.1h0M236.0 254.2h0M136.1 305.0h0M209.4 270.0h0M44.2 350.8h0M188.5 299.6h0M110.2 285.6h0M109.4 305.1h0M118.6 346.6h0M136.2 285.2h0M149.3 290.9h0M211.0 274.4h0M193.3 256.4h0M181.3 302.4h0M198.2 301.0h0M146.2 289.0h0M87.4 314.5h0M113.7 308.2h0M160.3 277.3h0M162.6 334.0h0M44.4 353.3h0M160.8 328.1h0M49.3 344.9h0M96.0 314.2h0M44.6 350.3h0M255.9 251.7h0M129.4 287.0h0M77.2 324.2h0M56.8 342.8h0M109.3 308.6h0M187.4 288.0h0M139.6 270.7h0M199.6 289.4h0M142.9 329.8h0M118.9 334.1h0M142.6 298.3h0M44.2 352.5h0M201.3 274.8h0M91.4 352.9h0M180.8 298.0h0M193.3 284.1h0M176.1 291.3h0M190.4 313.1h0M178.1 286.8h0M175.9 304.0h0M112.7 340.4h0M114.5 302.7h0M66.6 338.0h0M167.7 306.6h0M186.6 280.0h0M44.8 353.1h0M201.5 265.6h0M177.8 295.0h0M95.2 308.3h0M162.0 285.6h0M137.5 276.2h0M153.0 300.5h0M178.2 303.4h0M228.5 271.3h0M143.7 289.7h0M70.2 354.0h0M134.2 296.8h0M212.1 264.7h0M111.2 345.3h0M50.1 357.5h0M90.0 312.6h0M109.4 339.5h0M146.1 289.6h0M55.6 359.5h0M112.1 299.9h0M177.2 279.6h0M176.8 303.8h0M86.4 323.4h0M283.4 228.3h0M144.5 287.3h0M137.7 324.6h0M62.8 353.6h0M308.5 230.8h0M44.5 350.3h0M198.8 273.6h0M103.1 337.4h0M150.8 319.5h0M126.5 337.6h0M223.6 270.2h0M244.4 252.0h0M44.0 349.9h0M151.7 296.8h0M131.1 297.7h0M136.4 302.3h0M200.0 276.7h0M202.4 274.3h0M146.6 296.5h0M162.1 312.2h0M201.2 270.6h0M113.6 305.5h0M172.7 285.9h0M227.7 296.0h0M90.5 321.6h0M226.5 281.3h0M168.6 306.6h0M162.9 315.5h0M93.2 345.0h0M165.6 292.5h0M160.8 296.1h0M211.7 259.2h0M180.9 298.5h0M43.2 353.9h0M158.8 291.6h0M117.5 341.3h0M154.1 301.9h0M181.9 302.8h0M192.2 305.1h0M188.4 280.1h0M119.0 337.4h0M178.0 313.4h0M43.7 351.6h0M195.6 288.7h0M198.5 287.3h0M180.6 305.0h0M138.5 298.7h0M167.3 312.8h0M207.1 272.5h0" stroke="#62a7f9" stroke-width="1.7" stroke-linecap="round" fill="none"/>
</g>
<rect x="44.9" y="193.5" width="284.6" height="172.3" fill="none" stroke="#939393" stroke-width="1.4"/>
<path d="M44.90 365.8v2.5M88.70 365.8v2.5M132.50 365.8v2.5M176.30 365.8v2.5M220.10 365.8v2.5M263.90 365.8v2.5M307.70 365.8v2.5M44.9 366.00h-2.5M44.9 339.40h-2.5M44.9 312.80h-2.5M44.9 286.20h-2.5M44.9 259.60h-2.5M44.9 233.00h-2.5M44.9 206.40h-2.5" stroke="#555" stroke-width="0.9"/>
<text x="46.53" y="377.90" transform="scale(0.965,1)" font-size="11.6" font-family="&quot;Liberation Serif&quot;, serif" font-weight="bold" text-anchor="middle">−0.01</text>
<text x="91.92" y="377.90" transform="scale(0.965,1)" font-size="11.6" font-family="&quot;Liberation Serif&quot;, serif" font-weight="bold" text-anchor="middle">0.00</text>
<text x="137.31" y="377.90" transform="scale(0.965,1)" font-size="11.6" font-family="&quot;Liberation Serif&quot;, serif" font-weight="bold" text-anchor="middle">0.01</text>
<text x="182.69" y="377.90" transform="scale(0.965,1)" font-size="11.6" font-family="&quot;Liberation Serif&quot;, serif" font-weight="bold" text-anchor="middle">0.02</text>
<text x="228.08" y="377.90" transform="scale(0.965,1)" font-size="11.6" font-family="&quot;Liberation Serif&quot;, serif" font-weight="bold" text-anchor="middle">0.03</text>
<text x="273.47" y="377.90" transform="scale(0.965,1)" font-size="11.6" font-family="&quot;Liberation Serif&quot;, serif" font-weight="bold" text-anchor="middle">0.04</text>
<text x="318.86" y="377.90" transform="scale(0.965,1)" font-size="11.6" font-family="&quot;Liberation Serif&quot;, serif" font-weight="bold" text-anchor="middle">0.05</text>
<text x="41.35" y="370.10" transform="scale(0.965,1)" font-size="11.6" font-family="&quot;Liberation Serif&quot;, serif" font-weight="bold" text-anchor="end">−0.01</text>
<text x="41.35" y="343.50" transform="scale(0.965,1)" font-size="11.6" font-family="&quot;Liberation Serif&quot;, serif" font-weight="bold" text-anchor="end">0.00</text>
<text x="41.35" y="316.90" transform="scale(0.965,1)" font-size="11.6" font-family="&quot;Liberation Serif&quot;, serif" font-weight="bold" text-anchor="end">0.01</text>
<text x="41.35" y="290.30" transform="scale(0.965,1)" font-size="11.6" font-family="&quot;Liberation Serif&quot;, serif" font-weight="bold" text-anchor="end">0.02</text>
<text x="41.35" y="263.70" transform="scale(0.965,1)" font-size="11.6" font-family="&quot;Liberation Serif&quot;, serif" font-weight="bold" text-anchor="end">0.03</text>
<text x="41.35" y="237.10" transform="scale(0.965,1)" font-size="11.6" font-family="&quot;Liberation Serif&quot;, serif" font-weight="bold" text-anchor="end">0.04</text>
<text x="41.35" y="210.50" transform="scale(0.965,1)" font-size="11.6" font-family="&quot;Liberation Serif&quot;, serif" font-weight="bold" text-anchor="end">0.05</text>
<text transform="translate(12.6,88.9) rotate(-90) scale(1,1.0)" font-size="18" font-family="&quot;Liberation Serif&quot;, serif" font-weight="bold" text-anchor="middle">Predicted Value(KWh)</text>
<text transform="translate(358.7,92.35) rotate(-90) scale(1,1.0)" font-size="18" font-family="&quot;Liberation Serif&quot;, serif" font-weight="bold" text-anchor="middle">Predicted Value(KWh)</text>
<text transform="translate(12.6,284.15) rotate(-90) scale(1,0.95)" font-size="18" font-family="&quot;Liberation Serif&quot;, serif" font-weight="bold" text-anchor="middle">Predicted Value(KWh)</text>
<text x="540.5" y="209.2" font-size="18" font-family="&quot;Liberation Serif&quot;, serif" font-weight="bold" text-anchor="middle">True Value(KWh)</text>
<text transform="translate(187.7,394.9) scale(0.975,1)" font-size="18" font-family="&quot;Liberation Serif&quot;, serif" font-weight="bold" text-anchor="middle">True Value(KWh)</text>
<text x="327.2" y="168" font-size="28.5" font-family="&quot;Liberation Serif&quot;, serif" font-weight="bold" text-anchor="end">a)</text>
<text x="682.7" y="170.7" font-size="28.5" font-family="&quot;Liberation Serif&quot;, serif" font-weight="bold" text-anchor="end">b)</text>
<text x="326.7" y="355.5" font-size="28.5" font-family="&quot;Liberation Serif&quot;, serif" font-weight="bold" text-anchor="end">c)</text>
<rect x="351.7" y="203.5" width="92" height="50.5" rx="3" fill="#fff" stroke="#d5d5d5" stroke-width="1"/>
<circle cx="367" cy="215.5" r="6" fill="#ff4418"/>
<path d="M367 230.8L375 238.8L367 246.8L359 238.8Z" fill="#6eb0ff"/>
<text x="387" y="221.9" font-size="12.8" font-family="&quot;Liberation Serif&quot;, serif" font-weight="bold">Test Set</text>
<text x="387" y="244.9" font-size="12.8" font-family="&quot;Liberation Serif&quot;, serif" font-weight="bold">Train Set</text>
</svg></body></html>
